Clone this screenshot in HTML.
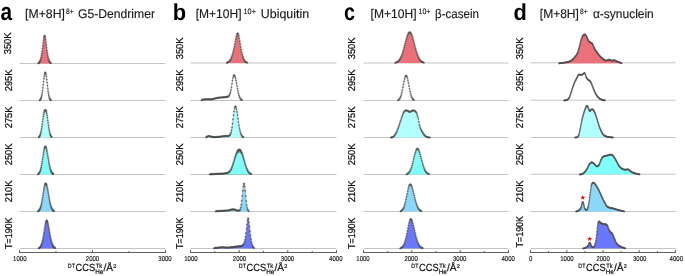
<!DOCTYPE html>
<html><head><meta charset="utf-8"><style>
html,body{margin:0;padding:0;background:#fff;}
body{width:685px;height:276px;position:relative;overflow:hidden;font-family:"Liberation Sans",sans-serif;}
svg text{font-family:"Liberation Sans",sans-serif;text-rendering:geometricPrecision;}
svg{will-change:transform;}
</style></head><body>
<svg width="685" height="276" viewBox="0 0 685 276" style="position:absolute;left:0;top:0">
<line x1="19.5" y1="63.5" x2="165.5" y2="63.5" stroke="#c4c4c4" stroke-width="1"/>
<line x1="19.5" y1="100.5" x2="165.5" y2="100.5" stroke="#c4c4c4" stroke-width="1"/>
<line x1="19.5" y1="137.5" x2="165.5" y2="137.5" stroke="#c4c4c4" stroke-width="1"/>
<line x1="19.5" y1="174.5" x2="165.5" y2="174.5" stroke="#c4c4c4" stroke-width="1"/>
<line x1="19.5" y1="211.5" x2="165.5" y2="211.5" stroke="#c4c4c4" stroke-width="1"/>
<line x1="19.5" y1="248.5" x2="165.5" y2="248.5" stroke="#c4c4c4" stroke-width="1"/>
<line x1="190.5" y1="63.0" x2="336.5" y2="63.0" stroke="#c4c4c4" stroke-width="1"/>
<line x1="190.5" y1="100.5" x2="336.5" y2="100.5" stroke="#c4c4c4" stroke-width="1"/>
<line x1="190.5" y1="137.5" x2="336.5" y2="137.5" stroke="#c4c4c4" stroke-width="1"/>
<line x1="190.5" y1="174.5" x2="336.5" y2="174.5" stroke="#c4c4c4" stroke-width="1"/>
<line x1="190.5" y1="211.5" x2="336.5" y2="211.5" stroke="#c4c4c4" stroke-width="1"/>
<line x1="190.5" y1="248.5" x2="336.5" y2="248.5" stroke="#c4c4c4" stroke-width="1"/>
<line x1="363.5" y1="63.0" x2="508.5" y2="63.0" stroke="#c4c4c4" stroke-width="1"/>
<line x1="363.5" y1="100.5" x2="508.5" y2="100.5" stroke="#c4c4c4" stroke-width="1"/>
<line x1="363.5" y1="137.5" x2="508.5" y2="137.5" stroke="#c4c4c4" stroke-width="1"/>
<line x1="363.5" y1="174.5" x2="508.5" y2="174.5" stroke="#c4c4c4" stroke-width="1"/>
<line x1="363.5" y1="211.5" x2="508.5" y2="211.5" stroke="#c4c4c4" stroke-width="1"/>
<line x1="363.5" y1="248.5" x2="508.5" y2="248.5" stroke="#c4c4c4" stroke-width="1"/>
<line x1="530.5" y1="62.8" x2="675.5" y2="62.8" stroke="#c4c4c4" stroke-width="1"/>
<line x1="530.5" y1="100.2" x2="675.5" y2="100.2" stroke="#c4c4c4" stroke-width="1"/>
<line x1="530.5" y1="137.5" x2="675.5" y2="137.5" stroke="#c4c4c4" stroke-width="1"/>
<line x1="530.5" y1="174.2" x2="675.5" y2="174.2" stroke="#c4c4c4" stroke-width="1"/>
<line x1="530.5" y1="211.5" x2="675.5" y2="211.5" stroke="#c4c4c4" stroke-width="1"/>
<line x1="530.5" y1="248.5" x2="675.5" y2="248.5" stroke="#c4c4c4" stroke-width="1"/>
<path d="M38.25,63.50L38.25,63.15L38.50,63.03L38.75,62.87L39.00,62.66L39.25,62.39L39.50,62.05L39.75,61.63L40.00,61.11L40.25,60.47L40.50,59.71L40.75,58.81L41.00,57.75L41.25,56.53L41.50,55.15L41.75,53.61L42.00,51.92L42.25,50.10L42.50,48.17L42.75,46.18L43.00,44.17L43.25,42.21L43.50,40.36L43.75,38.69L44.00,37.30L44.25,36.26L44.50,35.67L44.75,35.74L45.00,36.43L45.25,37.55L45.50,39.01L45.75,40.71L46.00,42.59L46.25,44.57L46.50,46.58L46.75,48.56L47.00,50.47L47.25,52.27L47.50,53.93L47.75,55.44L48.00,56.79L48.25,57.98L48.50,59.00L48.75,59.87L49.00,60.61L49.25,61.22L49.50,61.72L49.75,62.12L50.00,62.45L50.25,62.70L50.50,62.90L50.75,63.06L51.00,63.17L51.00,63.50Z" fill="#eb7079" stroke="none"/>
<path d="M38.25,63.50L38.25,63.15L38.50,63.03L38.75,62.87L39.00,62.66L39.25,62.39L39.50,62.05L39.75,61.63L40.00,61.11L40.25,60.47L40.50,59.71L40.75,58.81L41.00,57.75L41.25,56.53L41.50,55.15L41.75,53.61L42.00,51.92L42.25,50.10L42.50,48.17L42.75,46.18L43.00,44.17L43.25,42.21L43.50,40.36L43.75,38.69L44.00,37.30L44.25,36.26L44.50,35.67L44.75,35.74L45.00,36.43L45.25,37.55L45.50,39.01L45.75,40.71L46.00,42.59L46.25,44.57L46.50,46.58L46.75,48.56L47.00,50.47L47.25,52.27L47.50,53.93L47.75,55.44L48.00,56.79L48.25,57.98L48.50,59.00L48.75,59.87L49.00,60.61L49.25,61.22L49.50,61.72L49.75,62.12L50.00,62.45L50.25,62.70L50.50,62.90L50.75,63.06L51.00,63.17L51.00,63.50" fill="none" stroke="#888" stroke-width="0.50"/>
<path d="M37.15 63.50h2.2M38.25 62.40v2.2M37.50 62.96h2.2M38.60 61.86v2.2M37.85 62.70h2.2M38.95 61.60v2.2M38.20 62.32h2.2M39.30 61.22v2.2M38.55 61.80h2.2M39.65 60.70v2.2M38.90 61.11h2.2M40.00 60.01v2.2M39.25 60.17h2.2M40.35 59.07v2.2M39.60 58.99h2.2M40.70 57.89v2.2M39.95 57.51h2.2M41.05 56.41v2.2M40.30 55.71h2.2M41.40 54.61v2.2M40.65 53.61h2.2M41.75 52.51v2.2M41.00 51.19h2.2M42.10 50.09v2.2M41.35 48.55h2.2M42.45 47.45v2.2M41.70 45.78h2.2M42.80 44.68v2.2M42.05 42.99h2.2M43.15 41.89v2.2M42.40 40.36h2.2M43.50 39.26v2.2M42.75 38.14h2.2M43.85 37.04v2.2M43.10 36.46h2.2M44.20 35.36v2.2M43.45 35.68h2.2M44.55 34.58v2.2M43.80 36.16h2.2M44.90 35.06v2.2M44.15 37.55h2.2M45.25 36.45v2.2M44.50 39.69h2.2M45.60 38.59v2.2M44.85 42.22h2.2M45.95 41.12v2.2M45.20 44.97h2.2M46.30 43.87v2.2M45.55 47.77h2.2M46.65 46.67v2.2M45.90 50.47h2.2M47.00 49.37v2.2M46.25 52.94h2.2M47.35 51.84v2.2M46.60 55.14h2.2M47.70 54.04v2.2M46.95 57.03h2.2M48.05 55.93v2.2M47.30 58.59h2.2M48.40 57.49v2.2M47.65 59.87h2.2M48.75 58.77v2.2M48.00 60.85h2.2M49.10 59.75v2.2M48.35 61.62h2.2M49.45 60.52v2.2M48.70 62.19h2.2M49.80 61.09v2.2M49.05 62.60h2.2M50.15 61.50v2.2M49.40 62.90h2.2M50.50 61.80v2.2M49.75 63.10h2.2M50.85 62.00v2.2" fill="none" stroke="#4a4a4a" stroke-width="0.5"/>
<path d="M39.75,100.50L39.75,100.11L40.00,99.93L40.25,99.68L40.50,99.34L40.75,98.90L41.00,98.33L41.25,97.60L41.50,96.70L41.75,95.59L42.00,94.28L42.25,92.75L42.50,91.01L42.75,89.08L43.00,86.99L43.25,84.80L43.50,82.56L43.75,80.35L44.00,78.26L44.25,76.38L44.50,74.78L44.75,73.55L45.00,72.75L45.25,72.41L45.50,72.56L45.75,73.18L46.00,74.24L46.25,75.70L46.50,77.48L46.75,79.50L47.00,81.67L47.25,83.90L47.50,86.13L47.75,88.26L48.00,90.26L48.25,92.08L48.50,93.70L48.75,95.10L49.00,96.28L49.25,97.26L49.50,98.06L49.75,98.69L50.00,99.18L50.25,99.56L50.50,99.84L50.75,100.04L51.00,100.19L51.00,100.50" fill="none" stroke="#888" stroke-width="0.50"/>
<path d="M38.65 100.50h2.2M39.75 99.40v2.2M39.00 99.83h2.2M40.10 98.73v2.2M39.35 99.41h2.2M40.45 98.31v2.2M39.70 98.79h2.2M40.80 97.69v2.2M40.05 97.89h2.2M41.15 96.79v2.2M40.40 96.70h2.2M41.50 95.60v2.2M40.75 95.07h2.2M41.85 93.97v2.2M41.10 93.06h2.2M42.20 91.96v2.2M41.45 90.63h2.2M42.55 89.53v2.2M41.80 87.83h2.2M42.90 86.73v2.2M42.15 84.80h2.2M43.25 83.70v2.2M42.50 81.68h2.2M43.60 80.58v2.2M42.85 78.68h2.2M43.95 77.58v2.2M43.20 76.06h2.2M44.30 74.96v2.2M43.55 74.05h2.2M44.65 72.95v2.2M43.90 72.75h2.2M45.00 71.65v2.2M44.25 72.47h2.2M45.35 71.37v2.2M44.60 73.05h2.2M45.70 71.95v2.2M44.95 74.54h2.2M46.05 73.44v2.2M45.30 76.77h2.2M46.40 75.67v2.2M45.65 79.50h2.2M46.75 78.40v2.2M46.00 82.56h2.2M47.10 81.46v2.2M46.35 85.68h2.2M47.45 84.58v2.2M46.70 88.66h2.2M47.80 87.56v2.2M47.05 91.35h2.2M48.15 90.25v2.2M47.40 93.70h2.2M48.50 92.60v2.2M47.75 95.57h2.2M48.85 94.47v2.2M48.10 97.07h2.2M49.20 95.97v2.2M48.45 98.19h2.2M49.55 97.09v2.2M48.80 98.99h2.2M49.90 97.89v2.2M49.15 99.56h2.2M50.25 98.46v2.2M49.50 99.92h2.2M50.60 98.82v2.2M49.85 100.16h2.2M50.95 99.06v2.2" fill="none" stroke="#4a4a4a" stroke-width="0.5"/>
<path d="M38.75,137.50L38.75,137.08L39.00,136.90L39.25,136.66L39.50,136.34L39.75,135.93L40.00,135.40L40.25,134.75L40.50,133.95L40.75,133.00L41.00,131.89L41.25,130.62L41.50,129.19L41.75,127.62L42.00,125.92L42.25,124.14L42.50,122.30L42.75,120.45L43.00,118.64L43.25,116.91L43.50,115.31L43.75,113.88L44.00,112.66L44.25,111.66L44.50,110.90L44.75,110.38L45.00,110.10L45.25,110.00L45.50,110.04L45.75,110.24L46.00,110.66L46.25,111.32L46.50,112.23L46.75,113.36L47.00,114.72L47.25,116.25L47.50,117.94L47.75,119.72L48.00,121.56L48.25,123.41L48.50,125.22L48.75,126.95L49.00,128.58L49.25,130.07L49.50,131.40L49.75,132.58L50.00,133.59L50.25,134.45L50.50,135.16L50.75,135.73L51.00,136.19L51.25,136.54L51.50,136.81L51.75,137.02L52.00,137.17L52.00,137.50Z" fill="#b3ffff" stroke="none"/>
<path d="M38.75,137.50L38.75,137.08L39.00,136.90L39.25,136.66L39.50,136.34L39.75,135.93L40.00,135.40L40.25,134.75L40.50,133.95L40.75,133.00L41.00,131.89L41.25,130.62L41.50,129.19L41.75,127.62L42.00,125.92L42.25,124.14L42.50,122.30L42.75,120.45L43.00,118.64L43.25,116.91L43.50,115.31L43.75,113.88L44.00,112.66L44.25,111.66L44.50,110.90L44.75,110.38L45.00,110.10L45.25,110.00L45.50,110.04L45.75,110.24L46.00,110.66L46.25,111.32L46.50,112.23L46.75,113.36L47.00,114.72L47.25,116.25L47.50,117.94L47.75,119.72L48.00,121.56L48.25,123.41L48.50,125.22L48.75,126.95L49.00,128.58L49.25,130.07L49.50,131.40L49.75,132.58L50.00,133.59L50.25,134.45L50.50,135.16L50.75,135.73L51.00,136.19L51.25,136.54L51.50,136.81L51.75,137.02L52.00,137.17L52.00,137.50" fill="none" stroke="#888" stroke-width="0.50"/>
<path d="M37.65 137.50h2.2M38.75 136.40v2.2M38.00 136.81h2.2M39.10 135.71v2.2M38.35 136.40h2.2M39.45 135.30v2.2M38.70 135.82h2.2M39.80 134.72v2.2M39.05 135.01h2.2M40.15 133.91v2.2M39.40 133.95h2.2M40.50 132.85v2.2M39.75 132.56h2.2M40.85 131.46v2.2M40.10 130.88h2.2M41.20 129.78v2.2M40.45 128.88h2.2M41.55 127.78v2.2M40.80 126.60h2.2M41.90 125.50v2.2M41.15 124.14h2.2M42.25 123.04v2.2M41.50 121.56h2.2M42.60 120.46v2.2M41.85 119.00h2.2M42.95 117.90v2.2M42.20 116.59h2.2M43.30 115.49v2.2M42.55 114.45h2.2M43.65 113.35v2.2M42.90 112.66h2.2M44.00 111.56v2.2M43.25 111.35h2.2M44.35 110.25v2.2M43.60 110.49h2.2M44.70 109.39v2.2M43.95 110.08h2.2M45.05 108.98v2.2M44.30 110.02h2.2M45.40 108.92v2.2M44.65 110.24h2.2M45.75 109.14v2.2M45.00 110.93h2.2M46.10 109.83v2.2M45.35 112.05h2.2M46.45 110.95v2.2M45.70 113.64h2.2M46.80 112.54v2.2M46.05 115.64h2.2M47.15 114.54v2.2M46.40 117.94h2.2M47.50 116.84v2.2M46.75 120.46h2.2M47.85 119.36v2.2M47.10 123.04h2.2M48.20 121.94v2.2M47.45 125.57h2.2M48.55 124.47v2.2M47.80 127.93h2.2M48.90 126.83v2.2M48.15 130.07h2.2M49.25 128.97v2.2M48.50 131.87h2.2M49.60 130.77v2.2M48.85 133.39h2.2M49.95 132.29v2.2M49.20 134.59h2.2M50.30 133.49v2.2M49.55 135.50h2.2M50.65 134.40v2.2M49.90 136.19h2.2M51.00 135.09v2.2M50.25 136.65h2.2M51.35 135.55v2.2M50.60 136.98h2.2M51.70 135.88v2.2" fill="none" stroke="#4a4a4a" stroke-width="0.5"/>
<path d="M38.00,174.50L38.00,174.11L38.25,173.97L38.50,173.81L38.75,173.60L39.00,173.33L39.25,173.00L39.50,172.60L39.75,172.12L40.00,171.54L40.25,170.86L40.50,170.07L40.75,169.16L41.00,168.12L41.25,166.96L41.50,165.68L41.75,164.28L42.00,162.78L42.25,161.20L42.50,159.55L42.75,157.86L43.00,156.16L43.25,154.49L43.50,152.89L43.75,151.40L44.00,150.04L44.25,148.86L44.50,147.90L44.75,147.17L45.00,146.70L45.25,146.51L45.50,146.57L45.75,146.86L46.00,147.36L46.25,148.07L46.50,148.96L46.75,150.01L47.00,151.21L47.25,152.53L47.50,153.94L47.75,155.41L48.00,156.91L48.25,158.43L48.50,159.93L48.75,161.39L49.00,162.81L49.25,164.15L49.50,165.41L49.75,166.58L50.00,167.66L50.25,168.63L50.50,169.51L50.75,170.29L51.00,170.97L51.25,171.57L51.50,172.09L51.75,172.53L52.00,172.90L52.25,173.21L52.50,173.47L52.75,173.69L53.00,173.86L53.25,174.00L53.50,174.12L53.50,174.50Z" fill="#80fffa" stroke="none"/>
<path d="M38.00,174.50L38.00,174.11L38.25,173.97L38.50,173.81L38.75,173.60L39.00,173.33L39.25,173.00L39.50,172.60L39.75,172.12L40.00,171.54L40.25,170.86L40.50,170.07L40.75,169.16L41.00,168.12L41.25,166.96L41.50,165.68L41.75,164.28L42.00,162.78L42.25,161.20L42.50,159.55L42.75,157.86L43.00,156.16L43.25,154.49L43.50,152.89L43.75,151.40L44.00,150.04L44.25,148.86L44.50,147.90L44.75,147.17L45.00,146.70L45.25,146.51L45.50,146.57L45.75,146.86L46.00,147.36L46.25,148.07L46.50,148.96L46.75,150.01L47.00,151.21L47.25,152.53L47.50,153.94L47.75,155.41L48.00,156.91L48.25,158.43L48.50,159.93L48.75,161.39L49.00,162.81L49.25,164.15L49.50,165.41L49.75,166.58L50.00,167.66L50.25,168.63L50.50,169.51L50.75,170.29L51.00,170.97L51.25,171.57L51.50,172.09L51.75,172.53L52.00,172.90L52.25,173.21L52.50,173.47L52.75,173.69L53.00,173.86L53.25,174.00L53.50,174.12L53.50,174.50" fill="none" stroke="#888" stroke-width="0.50"/>
<path d="M36.90 174.50h2.2M38.00 173.40v2.2M37.25 173.91h2.2M38.35 172.81v2.2M37.60 173.64h2.2M38.70 172.54v2.2M37.95 173.26h2.2M39.05 172.16v2.2M38.30 172.76h2.2M39.40 171.66v2.2M38.65 172.12h2.2M39.75 171.02v2.2M39.00 171.27h2.2M40.10 170.17v2.2M39.35 170.23h2.2M40.45 169.13v2.2M39.70 168.95h2.2M40.80 167.85v2.2M40.05 167.43h2.2M41.15 166.33v2.2M40.40 165.68h2.2M41.50 164.58v2.2M40.75 163.68h2.2M41.85 162.58v2.2M41.10 161.51h2.2M42.20 160.41v2.2M41.45 159.21h2.2M42.55 158.11v2.2M41.80 156.84h2.2M42.90 155.74v2.2M42.15 154.49h2.2M43.25 153.39v2.2M42.50 152.29h2.2M43.60 151.19v2.2M42.85 150.31h2.2M43.95 149.21v2.2M43.20 148.67h2.2M44.30 147.57v2.2M43.55 147.46h2.2M44.65 146.36v2.2M43.90 146.70h2.2M45.00 145.60v2.2M44.25 146.53h2.2M45.35 145.43v2.2M44.60 146.80h2.2M45.70 145.70v2.2M44.95 147.50h2.2M46.05 146.40v2.2M45.30 148.60h2.2M46.40 147.50v2.2M45.65 150.01h2.2M46.75 148.91v2.2M46.00 151.74h2.2M47.10 150.64v2.2M46.35 153.65h2.2M47.45 152.55v2.2M46.70 155.71h2.2M47.80 154.61v2.2M47.05 157.82h2.2M48.15 156.72v2.2M47.40 159.93h2.2M48.50 158.83v2.2M47.75 161.96h2.2M48.85 160.86v2.2M48.10 163.88h2.2M49.20 162.78v2.2M48.45 165.64h2.2M49.55 164.54v2.2M48.80 167.23h2.2M49.90 166.13v2.2M49.15 168.63h2.2M50.25 167.53v2.2M49.50 169.82h2.2M50.60 168.72v2.2M49.85 170.84h2.2M50.95 169.74v2.2M50.20 171.67h2.2M51.30 170.57v2.2M50.55 172.35h2.2M51.65 171.25v2.2M50.90 172.90h2.2M52.00 171.80v2.2M51.25 173.32h2.2M52.35 172.22v2.2M51.60 173.64h2.2M52.70 172.54v2.2M51.95 173.89h2.2M53.05 172.79v2.2M52.30 174.07h2.2M53.40 172.97v2.2" fill="none" stroke="#4a4a4a" stroke-width="0.5"/>
<path d="M38.00,211.50L38.00,211.13L38.25,211.01L38.50,210.86L38.75,210.67L39.00,210.44L39.25,210.15L39.50,209.79L39.75,209.37L40.00,208.86L40.25,208.26L40.50,207.56L40.75,206.76L41.00,205.84L41.25,204.81L41.50,203.67L41.75,202.41L42.00,201.05L42.25,199.59L42.50,198.06L42.75,196.47L43.00,194.84L43.25,193.21L43.50,191.61L43.75,190.06L44.00,188.61L44.25,187.28L44.50,186.11L44.75,185.13L45.00,184.36L45.25,183.83L45.50,183.55L45.75,183.52L46.00,183.70L46.25,184.09L46.50,184.68L46.75,185.44L47.00,186.38L47.25,187.45L47.50,188.66L47.75,189.96L48.00,191.34L48.25,192.77L48.50,194.22L48.75,195.69L49.00,197.13L49.25,198.54L49.50,199.90L49.75,201.19L50.00,202.41L50.25,203.54L50.50,204.58L50.75,205.54L51.00,206.39L51.25,207.16L51.50,207.84L51.75,208.44L52.00,208.95L52.25,209.40L52.50,209.78L52.75,210.10L53.00,210.37L53.25,210.60L53.50,210.78L53.75,210.93L54.00,211.06L54.25,211.16L54.25,211.50Z" fill="#8bd8fb" stroke="none"/>
<path d="M38.00,211.50L38.00,211.13L38.25,211.01L38.50,210.86L38.75,210.67L39.00,210.44L39.25,210.15L39.50,209.79L39.75,209.37L40.00,208.86L40.25,208.26L40.50,207.56L40.75,206.76L41.00,205.84L41.25,204.81L41.50,203.67L41.75,202.41L42.00,201.05L42.25,199.59L42.50,198.06L42.75,196.47L43.00,194.84L43.25,193.21L43.50,191.61L43.75,190.06L44.00,188.61L44.25,187.28L44.50,186.11L44.75,185.13L45.00,184.36L45.25,183.83L45.50,183.55L45.75,183.52L46.00,183.70L46.25,184.09L46.50,184.68L46.75,185.44L47.00,186.38L47.25,187.45L47.50,188.66L47.75,189.96L48.00,191.34L48.25,192.77L48.50,194.22L48.75,195.69L49.00,197.13L49.25,198.54L49.50,199.90L49.75,201.19L50.00,202.41L50.25,203.54L50.50,204.58L50.75,205.54L51.00,206.39L51.25,207.16L51.50,207.84L51.75,208.44L52.00,208.95L52.25,209.40L52.50,209.78L52.75,210.10L53.00,210.37L53.25,210.60L53.50,210.78L53.75,210.93L54.00,211.06L54.25,211.16L54.25,211.50" fill="none" stroke="#888" stroke-width="0.50"/>
<path d="M36.90 211.50h2.2M38.00 210.40v2.2M37.25 210.95h2.2M38.35 209.85v2.2M37.60 210.71h2.2M38.70 209.61v2.2M37.95 210.38h2.2M39.05 209.28v2.2M38.30 209.93h2.2M39.40 208.83v2.2M38.65 209.37h2.2M39.75 208.27v2.2M39.00 208.62h2.2M40.10 207.52v2.2M39.35 207.70h2.2M40.45 206.60v2.2M39.70 206.58h2.2M40.80 205.48v2.2M40.05 205.22h2.2M41.15 204.12v2.2M40.40 203.67h2.2M41.50 202.57v2.2M40.75 201.86h2.2M41.85 200.76v2.2M41.10 199.88h2.2M42.20 198.78v2.2M41.45 197.74h2.2M42.55 196.64v2.2M41.80 195.49h2.2M42.90 194.39v2.2M42.15 193.21h2.2M43.25 192.11v2.2M42.50 190.99h2.2M43.60 189.89v2.2M42.85 188.90h2.2M43.95 187.80v2.2M43.20 187.04h2.2M44.30 185.94v2.2M43.55 185.52h2.2M44.65 184.42v2.2M43.90 184.36h2.2M45.00 183.26v2.2M44.25 183.72h2.2M45.35 182.62v2.2M44.60 183.52h2.2M45.70 182.42v2.2M44.95 183.78h2.2M46.05 182.68v2.2M45.30 184.44h2.2M46.40 183.34v2.2M45.65 185.44h2.2M46.75 184.34v2.2M46.00 186.81h2.2M47.10 185.71v2.2M46.35 188.41h2.2M47.45 187.31v2.2M46.70 190.23h2.2M47.80 189.13v2.2M47.05 192.19h2.2M48.15 191.09v2.2M47.40 194.22h2.2M48.50 193.12v2.2M47.75 196.26h2.2M48.85 195.16v2.2M48.10 198.26h2.2M49.20 197.16v2.2M48.45 200.16h2.2M49.55 199.06v2.2M48.80 201.92h2.2M49.90 200.82v2.2M49.15 203.54h2.2M50.25 202.44v2.2M49.50 204.97h2.2M50.60 203.87v2.2M49.85 206.22h2.2M50.95 205.12v2.2M50.20 207.30h2.2M51.30 206.20v2.2M50.55 208.20h2.2M51.65 207.10v2.2M50.90 208.95h2.2M52.00 207.85v2.2M51.25 209.55h2.2M52.35 208.45v2.2M51.60 210.04h2.2M52.70 208.94v2.2M51.95 210.42h2.2M53.05 209.32v2.2M52.30 210.71h2.2M53.40 209.61v2.2M52.65 210.93h2.2M53.75 209.83v2.2M53.00 211.10h2.2M54.10 210.00v2.2" fill="none" stroke="#4a4a4a" stroke-width="0.5"/>
<path d="M38.75,248.50L38.75,248.17L39.00,248.07L39.25,247.95L39.50,247.80L39.75,247.60L40.00,247.37L40.25,247.08L40.50,246.74L40.75,246.33L41.00,245.84L41.25,245.27L41.50,244.61L41.75,243.85L42.00,242.99L42.25,242.02L42.50,240.94L42.75,239.76L43.00,238.47L43.25,237.08L43.50,235.61L43.75,234.07L44.00,232.48L44.25,230.87L44.50,229.26L44.75,227.69L45.00,226.19L45.25,224.79L45.50,223.53L45.75,222.44L46.00,221.56L46.25,220.93L46.50,220.57L46.75,220.52L47.00,220.77L47.25,221.24L47.50,221.92L47.75,222.77L48.00,223.79L48.25,224.94L48.50,226.20L48.75,227.54L49.00,228.93L49.25,230.36L49.50,231.81L49.75,233.24L50.00,234.64L50.25,235.99L50.50,237.29L50.75,238.52L51.00,239.68L51.25,240.75L51.50,241.73L51.75,242.63L52.00,243.44L52.25,244.17L52.50,244.81L52.75,245.38L53.00,245.88L53.25,246.31L53.50,246.69L53.75,247.00L54.00,247.27L54.25,247.50L54.50,247.69L54.75,247.85L55.00,247.98L55.25,248.09L55.50,248.17L55.50,248.50Z" fill="#6877fd" stroke="none"/>
<path d="M38.75,248.50L38.75,248.17L39.00,248.07L39.25,247.95L39.50,247.80L39.75,247.60L40.00,247.37L40.25,247.08L40.50,246.74L40.75,246.33L41.00,245.84L41.25,245.27L41.50,244.61L41.75,243.85L42.00,242.99L42.25,242.02L42.50,240.94L42.75,239.76L43.00,238.47L43.25,237.08L43.50,235.61L43.75,234.07L44.00,232.48L44.25,230.87L44.50,229.26L44.75,227.69L45.00,226.19L45.25,224.79L45.50,223.53L45.75,222.44L46.00,221.56L46.25,220.93L46.50,220.57L46.75,220.52L47.00,220.77L47.25,221.24L47.50,221.92L47.75,222.77L48.00,223.79L48.25,224.94L48.50,226.20L48.75,227.54L49.00,228.93L49.25,230.36L49.50,231.81L49.75,233.24L50.00,234.64L50.25,235.99L50.50,237.29L50.75,238.52L51.00,239.68L51.25,240.75L51.50,241.73L51.75,242.63L52.00,243.44L52.25,244.17L52.50,244.81L52.75,245.38L53.00,245.88L53.25,246.31L53.50,246.69L53.75,247.00L54.00,247.27L54.25,247.50L54.50,247.69L54.75,247.85L55.00,247.98L55.25,248.09L55.50,248.17L55.50,248.50" fill="none" stroke="#888" stroke-width="0.50"/>
<path d="M37.65 248.50h2.2M38.75 247.40v2.2M38.00 248.02h2.2M39.10 246.92v2.2M38.35 247.83h2.2M39.45 246.73v2.2M38.70 247.56h2.2M39.80 246.46v2.2M39.05 247.20h2.2M40.15 246.10v2.2M39.40 246.74h2.2M40.50 245.64v2.2M39.75 246.13h2.2M40.85 245.03v2.2M40.10 245.38h2.2M41.20 244.28v2.2M40.45 244.46h2.2M41.55 243.36v2.2M40.80 243.34h2.2M41.90 242.24v2.2M41.15 242.02h2.2M42.25 240.92v2.2M41.50 240.47h2.2M42.60 239.37v2.2M41.85 238.72h2.2M42.95 237.62v2.2M42.20 236.79h2.2M43.30 235.69v2.2M42.55 234.69h2.2M43.65 233.59v2.2M42.90 232.48h2.2M44.00 231.38v2.2M43.25 230.23h2.2M44.35 229.13v2.2M43.60 228.01h2.2M44.70 226.91v2.2M43.95 225.91h2.2M45.05 224.81v2.2M44.30 224.03h2.2M45.40 222.93v2.2M44.65 222.44h2.2M45.75 221.34v2.2M45.00 221.31h2.2M46.10 220.21v2.2M45.35 220.64h2.2M46.45 219.54v2.2M45.70 220.57h2.2M46.80 219.47v2.2M46.05 221.05h2.2M47.15 219.95v2.2M46.40 221.92h2.2M47.50 220.82v2.2M46.75 223.18h2.2M47.85 222.08v2.2M47.10 224.71h2.2M48.20 223.61v2.2M47.45 226.47h2.2M48.55 225.37v2.2M47.80 228.38h2.2M48.90 227.28v2.2M48.15 230.36h2.2M49.25 229.26v2.2M48.50 232.38h2.2M49.60 231.28v2.2M48.85 234.36h2.2M49.95 233.26v2.2M49.20 236.25h2.2M50.30 235.15v2.2M49.55 238.03h2.2M50.65 236.93v2.2M49.90 239.68h2.2M51.00 238.58v2.2M50.25 241.14h2.2M51.35 240.04v2.2M50.60 242.45h2.2M51.70 241.35v2.2M50.95 243.59h2.2M52.05 242.49v2.2M51.30 244.56h2.2M52.40 243.46v2.2M51.65 245.38h2.2M52.75 244.28v2.2M52.00 246.05h2.2M53.10 244.95v2.2M52.35 246.61h2.2M53.45 245.51v2.2M52.70 247.06h2.2M53.80 245.96v2.2M53.05 247.41h2.2M54.15 246.31v2.2M53.40 247.69h2.2M54.50 246.59v2.2M53.75 247.90h2.2M54.85 246.80v2.2M54.10 248.07h2.2M55.20 246.97v2.2" fill="none" stroke="#4a4a4a" stroke-width="0.5"/>
<path d="M226.75,63.00L226.75,62.69L227.00,62.62L227.25,62.55L227.50,62.46L227.75,62.36L228.00,62.25L228.25,62.11L228.50,61.96L228.75,61.78L229.00,61.58L229.25,61.35L229.50,61.08L229.75,60.78L230.00,60.45L230.25,60.07L230.50,59.65L230.75,59.18L231.00,58.66L231.25,58.09L231.50,57.46L231.75,56.77L232.00,56.02L232.25,55.21L232.50,54.34L232.75,53.41L233.00,52.42L233.25,51.37L233.50,50.27L233.75,49.12L234.00,47.92L234.25,46.69L234.50,45.43L234.75,44.16L235.00,42.88L235.25,41.60L235.50,40.35L235.75,39.14L236.00,37.98L236.25,36.89L236.50,35.90L236.75,35.02L237.00,34.28L237.25,33.70L237.50,33.32L237.75,33.21L238.00,33.52L238.25,34.11L238.50,34.92L238.75,35.92L239.00,37.07L239.25,38.34L239.50,39.70L239.75,41.12L240.00,42.57L240.25,44.04L240.50,45.51L240.75,46.95L241.00,48.35L241.25,49.71L241.50,51.00L241.75,52.22L242.00,53.36L242.25,54.43L242.50,55.42L242.75,56.32L243.00,57.15L243.25,57.90L243.50,58.57L243.75,59.17L244.00,59.71L244.25,60.18L244.50,60.60L244.75,60.96L245.00,61.28L245.25,61.55L245.50,61.79L245.75,61.99L246.00,62.16L246.25,62.31L246.50,62.43L246.75,62.53L247.00,62.62L247.25,62.69L247.25,63.00Z" fill="#eb7079" stroke="none"/>
<path d="M226.75,63.00L226.75,62.69L227.00,62.62L227.25,62.55L227.50,62.46L227.75,62.36L228.00,62.25L228.25,62.11L228.50,61.96L228.75,61.78L229.00,61.58L229.25,61.35L229.50,61.08L229.75,60.78L230.00,60.45L230.25,60.07L230.50,59.65L230.75,59.18L231.00,58.66L231.25,58.09L231.50,57.46L231.75,56.77L232.00,56.02L232.25,55.21L232.50,54.34L232.75,53.41L233.00,52.42L233.25,51.37L233.50,50.27L233.75,49.12L234.00,47.92L234.25,46.69L234.50,45.43L234.75,44.16L235.00,42.88L235.25,41.60L235.50,40.35L235.75,39.14L236.00,37.98L236.25,36.89L236.50,35.90L236.75,35.02L237.00,34.28L237.25,33.70L237.50,33.32L237.75,33.21L238.00,33.52L238.25,34.11L238.50,34.92L238.75,35.92L239.00,37.07L239.25,38.34L239.50,39.70L239.75,41.12L240.00,42.57L240.25,44.04L240.50,45.51L240.75,46.95L241.00,48.35L241.25,49.71L241.50,51.00L241.75,52.22L242.00,53.36L242.25,54.43L242.50,55.42L242.75,56.32L243.00,57.15L243.25,57.90L243.50,58.57L243.75,59.17L244.00,59.71L244.25,60.18L244.50,60.60L244.75,60.96L245.00,61.28L245.25,61.55L245.50,61.79L245.75,61.99L246.00,62.16L246.25,62.31L246.50,62.43L246.75,62.53L247.00,62.62L247.25,62.69L247.25,63.00" fill="none" stroke="#888" stroke-width="0.50"/>
<path d="M225.65 63.00h2.2M226.75 61.90v2.2M226.15 62.55h2.2M227.25 61.45v2.2M226.65 62.36h2.2M227.75 61.26v2.2M227.15 62.11h2.2M228.25 61.01v2.2M227.65 61.78h2.2M228.75 60.68v2.2M228.15 61.35h2.2M229.25 60.25v2.2M228.65 60.78h2.2M229.75 59.68v2.2M229.15 60.07h2.2M230.25 58.97v2.2M229.65 59.18h2.2M230.75 58.08v2.2M230.15 58.09h2.2M231.25 56.99v2.2M230.65 56.77h2.2M231.75 55.67v2.2M231.15 55.21h2.2M232.25 54.11v2.2M231.65 53.41h2.2M232.75 52.31v2.2M232.15 51.37h2.2M233.25 50.27v2.2M232.65 49.12h2.2M233.75 48.02v2.2M233.15 46.69h2.2M234.25 45.59v2.2M233.65 44.16h2.2M234.75 43.06v2.2M234.15 41.60h2.2M235.25 40.50v2.2M234.65 39.14h2.2M235.75 38.04v2.2M235.15 36.89h2.2M236.25 35.79v2.2M235.65 35.02h2.2M236.75 33.92v2.2M236.15 33.70h2.2M237.25 32.60v2.2M236.65 33.21h2.2M237.75 32.11v2.2M237.15 34.11h2.2M238.25 33.01v2.2M237.65 35.92h2.2M238.75 34.82v2.2M238.15 38.34h2.2M239.25 37.24v2.2M238.65 41.12h2.2M239.75 40.02v2.2M239.15 44.04h2.2M240.25 42.94v2.2M239.65 46.95h2.2M240.75 45.85v2.2M240.15 49.71h2.2M241.25 48.61v2.2M240.65 52.22h2.2M241.75 51.12v2.2M241.15 54.43h2.2M242.25 53.33v2.2M241.65 56.32h2.2M242.75 55.22v2.2M242.15 57.90h2.2M243.25 56.80v2.2M242.65 59.17h2.2M243.75 58.07v2.2M243.15 60.18h2.2M244.25 59.08v2.2M243.65 60.96h2.2M244.75 59.86v2.2M244.15 61.55h2.2M245.25 60.45v2.2M244.65 61.99h2.2M245.75 60.89v2.2M245.15 62.31h2.2M246.25 61.21v2.2M245.65 62.53h2.2M246.75 61.43v2.2M246.15 62.69h2.2M247.25 61.59v2.2" fill="none" stroke="#4a4a4a" stroke-width="0.5"/>
<path d="M201.50,100.50L201.50,100.15L201.75,100.00L202.00,99.85L202.25,99.72L202.50,99.60L202.75,99.53L203.00,99.50L203.25,99.50L203.50,99.49L203.75,99.48L204.00,99.47L204.25,99.45L204.50,99.44L204.75,99.42L205.00,99.40L205.25,99.38L205.50,99.36L205.75,99.35L206.00,99.33L206.25,99.32L206.50,99.31L206.75,99.30L207.00,99.30L207.25,99.30L207.50,99.30L207.75,99.31L208.00,99.32L208.25,99.32L208.50,99.33L208.75,99.34L209.00,99.35L209.25,99.36L209.50,99.37L209.75,99.38L210.00,99.38L210.25,99.39L210.50,99.40L210.75,99.40L211.00,99.40L211.25,99.39L211.50,99.36L211.75,99.31L212.00,99.24L212.25,99.17L212.50,99.10L212.75,99.03L213.00,98.96L213.25,98.89L213.50,98.84L213.75,98.81L214.00,98.80L214.25,98.77L214.50,98.71L214.75,98.61L215.00,98.50L215.25,98.38L215.50,98.27L215.75,98.18L216.00,98.12L216.25,98.10L216.50,98.09L216.75,98.07L217.00,98.04L217.25,98.00L217.50,97.95L217.75,97.90L218.00,97.85L218.25,97.80L218.50,97.75L218.75,97.70L219.00,97.66L219.25,97.63L219.50,97.61L219.75,97.60L220.00,97.60L220.25,97.58L220.50,97.56L220.75,97.54L221.00,97.51L221.25,97.47L221.50,97.44L221.75,97.40L222.00,97.37L222.25,97.34L222.50,97.32L222.75,97.31L223.00,97.30L223.25,97.30L223.50,97.29L223.75,97.27L224.00,97.25L224.25,97.23L224.50,97.20L224.75,97.18L225.00,97.15L225.25,97.12L225.50,97.08L225.75,97.05L226.00,97.02L226.25,96.99L226.50,96.96L226.75,96.92L227.00,96.88L227.25,96.84L227.50,96.80L227.75,96.75L228.00,96.68L228.25,96.56L228.50,96.38L228.75,96.12L229.00,95.77L229.25,95.34L229.50,94.87L229.75,94.33L230.00,93.70L230.25,92.95L230.50,92.07L230.75,91.05L231.00,89.88L231.25,88.56L231.50,87.10L231.75,85.52L232.00,83.84L232.25,82.15L232.50,80.56L232.75,79.12L233.00,77.84L233.25,76.79L233.50,75.98L233.75,75.45L234.00,75.21L234.25,75.27L234.50,75.54L234.75,75.98L235.00,76.57L235.25,77.32L235.50,78.24L235.75,79.30L236.00,80.48L236.25,81.76L236.50,83.11L236.75,84.50L237.00,85.90L237.25,87.29L237.50,88.65L237.75,89.97L238.00,91.21L238.25,92.38L238.50,93.47L238.75,94.46L239.00,95.35L239.25,96.15L239.50,96.86L239.75,97.48L240.00,98.01L240.25,98.47L240.50,98.86L240.75,99.18L241.00,99.45L241.25,99.67L241.50,99.85L241.75,100.00L242.00,100.11L242.00,100.50" fill="none" stroke="#888" stroke-width="0.50"/>
<path d="M200.40 100.50h2.2M201.50 99.40v2.2M200.90 99.85h2.2M202.00 98.75v2.2M201.40 99.60h2.2M202.50 98.50v2.2M201.90 99.50h2.2M203.00 98.40v2.2M202.40 99.49h2.2M203.50 98.39v2.2M202.90 99.47h2.2M204.00 98.37v2.2M203.40 99.44h2.2M204.50 98.34v2.2M203.90 99.40h2.2M205.00 98.30v2.2M204.40 99.36h2.2M205.50 98.26v2.2M204.90 99.33h2.2M206.00 98.23v2.2M205.40 99.31h2.2M206.50 98.21v2.2M205.90 99.30h2.2M207.00 98.20v2.2M206.40 99.30h2.2M207.50 98.20v2.2M206.90 99.32h2.2M208.00 98.22v2.2M207.40 99.33h2.2M208.50 98.23v2.2M207.90 99.35h2.2M209.00 98.25v2.2M208.40 99.37h2.2M209.50 98.27v2.2M208.90 99.38h2.2M210.00 98.28v2.2M209.40 99.40h2.2M210.50 98.30v2.2M209.90 99.40h2.2M211.00 98.30v2.2M210.40 99.36h2.2M211.50 98.26v2.2M210.90 99.24h2.2M212.00 98.14v2.2M211.40 99.10h2.2M212.50 98.00v2.2M211.90 98.96h2.2M213.00 97.86v2.2M212.40 98.84h2.2M213.50 97.74v2.2M212.90 98.80h2.2M214.00 97.70v2.2M213.40 98.71h2.2M214.50 97.61v2.2M213.90 98.50h2.2M215.00 97.40v2.2M214.40 98.27h2.2M215.50 97.17v2.2M214.90 98.12h2.2M216.00 97.02v2.2M215.40 98.09h2.2M216.50 96.99v2.2M215.90 98.04h2.2M217.00 96.94v2.2M216.40 97.95h2.2M217.50 96.85v2.2M216.90 97.85h2.2M218.00 96.75v2.2M217.40 97.75h2.2M218.50 96.65v2.2M217.90 97.66h2.2M219.00 96.56v2.2M218.40 97.61h2.2M219.50 96.51v2.2M218.90 97.60h2.2M220.00 96.50v2.2M219.40 97.56h2.2M220.50 96.46v2.2M219.90 97.51h2.2M221.00 96.41v2.2M220.40 97.44h2.2M221.50 96.34v2.2M220.90 97.37h2.2M222.00 96.27v2.2M221.40 97.32h2.2M222.50 96.22v2.2M221.90 97.30h2.2M223.00 96.20v2.2M222.40 97.29h2.2M223.50 96.19v2.2M222.90 97.25h2.2M224.00 96.15v2.2M223.40 97.20h2.2M224.50 96.10v2.2M223.90 97.15h2.2M225.00 96.05v2.2M224.40 97.08h2.2M225.50 95.98v2.2M224.90 97.02h2.2M226.00 95.92v2.2M225.40 96.96h2.2M226.50 95.86v2.2M225.90 96.88h2.2M227.00 95.78v2.2M226.40 96.80h2.2M227.50 95.70v2.2M226.90 96.68h2.2M228.00 95.58v2.2M227.40 96.38h2.2M228.50 95.28v2.2M227.90 95.77h2.2M229.00 94.67v2.2M228.40 94.87h2.2M229.50 93.77v2.2M228.90 93.70h2.2M230.00 92.60v2.2M229.40 92.07h2.2M230.50 90.97v2.2M229.90 89.88h2.2M231.00 88.78v2.2M230.40 87.10h2.2M231.50 86.00v2.2M230.90 83.84h2.2M232.00 82.74v2.2M231.40 80.56h2.2M232.50 79.46v2.2M231.90 77.84h2.2M233.00 76.74v2.2M232.40 75.98h2.2M233.50 74.88v2.2M232.90 75.21h2.2M234.00 74.11v2.2M233.40 75.54h2.2M234.50 74.44v2.2M233.90 76.57h2.2M235.00 75.47v2.2M234.40 78.24h2.2M235.50 77.14v2.2M234.90 80.48h2.2M236.00 79.38v2.2M235.40 83.11h2.2M236.50 82.01v2.2M235.90 85.90h2.2M237.00 84.80v2.2M236.40 88.65h2.2M237.50 87.55v2.2M236.90 91.21h2.2M238.00 90.11v2.2M237.40 93.47h2.2M238.50 92.37v2.2M237.90 95.35h2.2M239.00 94.25v2.2M238.40 96.86h2.2M239.50 95.76v2.2M238.90 98.01h2.2M240.00 96.91v2.2M239.40 98.86h2.2M240.50 97.76v2.2M239.90 99.45h2.2M241.00 98.35v2.2M240.40 99.85h2.2M241.50 98.75v2.2M240.90 100.11h2.2M242.00 99.01v2.2" fill="none" stroke="#4a4a4a" stroke-width="0.5"/>
<path d="M206.00,137.50L206.00,137.10L206.25,136.95L206.50,136.82L206.75,136.73L207.00,136.70L207.25,136.67L207.50,136.59L207.75,136.48L208.00,136.35L208.25,136.22L208.50,136.11L208.75,136.03L209.00,136.00L209.25,136.03L209.50,136.11L209.75,136.22L210.00,136.35L210.25,136.48L210.50,136.59L210.75,136.67L211.00,136.70L211.25,136.71L211.50,136.73L211.75,136.76L212.00,136.80L212.25,136.85L212.50,136.90L212.75,136.95L213.00,137.00L213.25,137.04L213.50,137.07L213.75,137.09L214.00,137.10L214.25,137.10L214.50,137.09L214.75,137.09L215.00,137.08L215.25,137.07L215.50,137.06L215.75,137.04L216.00,137.03L216.25,137.01L216.50,137.00L216.75,136.99L217.00,136.97L217.25,136.96L217.50,136.94L217.75,136.93L218.00,136.92L218.25,136.91L218.50,136.91L218.75,136.90L219.00,136.90L219.25,136.89L219.50,136.87L219.75,136.84L220.00,136.81L220.25,136.76L220.50,136.71L220.75,136.66L221.00,136.60L221.25,136.54L221.50,136.49L221.75,136.44L222.00,136.39L222.25,136.36L222.50,136.33L222.75,136.31L223.00,136.30L223.25,136.29L223.50,136.28L223.75,136.25L224.00,136.22L224.25,136.19L224.50,136.15L224.75,136.11L225.00,136.08L225.25,136.05L225.50,136.02L225.75,136.00L226.00,136.00L226.25,136.00L226.50,136.01L226.75,136.03L227.00,136.05L227.25,136.07L227.50,136.09L227.75,136.10L228.00,136.10L228.25,136.07L228.50,136.01L228.75,135.92L229.00,135.78L229.25,135.61L229.50,135.42L229.75,135.19L230.00,134.90L230.25,134.51L230.50,134.01L230.75,133.37L231.00,132.57L231.25,131.58L231.50,130.39L231.75,128.99L232.00,127.37L232.25,125.57L232.50,123.62L232.75,121.56L233.00,119.44L233.25,117.29L233.50,115.17L233.75,113.16L234.00,111.30L234.25,109.66L234.50,108.30L234.75,107.26L235.00,106.59L235.25,106.31L235.50,106.39L235.75,106.73L236.00,107.33L236.25,108.17L236.50,109.23L236.75,110.49L237.00,111.91L237.25,113.46L237.50,115.11L237.75,116.83L238.00,118.58L238.25,120.32L238.50,122.04L238.75,123.71L239.00,125.30L239.25,126.80L239.50,128.20L239.75,129.48L240.00,130.64L240.25,131.69L240.50,132.62L240.75,133.43L241.00,134.14L241.25,134.75L241.50,135.27L241.75,135.70L242.00,136.06L242.25,136.36L242.50,136.61L242.75,136.81L243.00,136.97L243.25,137.09L243.50,137.19L243.50,137.50Z" fill="#b3ffff" stroke="none"/>
<path d="M206.00,137.50L206.00,137.10L206.25,136.95L206.50,136.82L206.75,136.73L207.00,136.70L207.25,136.67L207.50,136.59L207.75,136.48L208.00,136.35L208.25,136.22L208.50,136.11L208.75,136.03L209.00,136.00L209.25,136.03L209.50,136.11L209.75,136.22L210.00,136.35L210.25,136.48L210.50,136.59L210.75,136.67L211.00,136.70L211.25,136.71L211.50,136.73L211.75,136.76L212.00,136.80L212.25,136.85L212.50,136.90L212.75,136.95L213.00,137.00L213.25,137.04L213.50,137.07L213.75,137.09L214.00,137.10L214.25,137.10L214.50,137.09L214.75,137.09L215.00,137.08L215.25,137.07L215.50,137.06L215.75,137.04L216.00,137.03L216.25,137.01L216.50,137.00L216.75,136.99L217.00,136.97L217.25,136.96L217.50,136.94L217.75,136.93L218.00,136.92L218.25,136.91L218.50,136.91L218.75,136.90L219.00,136.90L219.25,136.89L219.50,136.87L219.75,136.84L220.00,136.81L220.25,136.76L220.50,136.71L220.75,136.66L221.00,136.60L221.25,136.54L221.50,136.49L221.75,136.44L222.00,136.39L222.25,136.36L222.50,136.33L222.75,136.31L223.00,136.30L223.25,136.29L223.50,136.28L223.75,136.25L224.00,136.22L224.25,136.19L224.50,136.15L224.75,136.11L225.00,136.08L225.25,136.05L225.50,136.02L225.75,136.00L226.00,136.00L226.25,136.00L226.50,136.01L226.75,136.03L227.00,136.05L227.25,136.07L227.50,136.09L227.75,136.10L228.00,136.10L228.25,136.07L228.50,136.01L228.75,135.92L229.00,135.78L229.25,135.61L229.50,135.42L229.75,135.19L230.00,134.90L230.25,134.51L230.50,134.01L230.75,133.37L231.00,132.57L231.25,131.58L231.50,130.39L231.75,128.99L232.00,127.37L232.25,125.57L232.50,123.62L232.75,121.56L233.00,119.44L233.25,117.29L233.50,115.17L233.75,113.16L234.00,111.30L234.25,109.66L234.50,108.30L234.75,107.26L235.00,106.59L235.25,106.31L235.50,106.39L235.75,106.73L236.00,107.33L236.25,108.17L236.50,109.23L236.75,110.49L237.00,111.91L237.25,113.46L237.50,115.11L237.75,116.83L238.00,118.58L238.25,120.32L238.50,122.04L238.75,123.71L239.00,125.30L239.25,126.80L239.50,128.20L239.75,129.48L240.00,130.64L240.25,131.69L240.50,132.62L240.75,133.43L241.00,134.14L241.25,134.75L241.50,135.27L241.75,135.70L242.00,136.06L242.25,136.36L242.50,136.61L242.75,136.81L243.00,136.97L243.25,137.09L243.50,137.19L243.50,137.50" fill="none" stroke="#888" stroke-width="0.50"/>
<path d="M204.90 137.50h2.2M206.00 136.40v2.2M205.40 136.82h2.2M206.50 135.72v2.2M205.90 136.70h2.2M207.00 135.60v2.2M206.40 136.59h2.2M207.50 135.49v2.2M206.90 136.35h2.2M208.00 135.25v2.2M207.40 136.11h2.2M208.50 135.01v2.2M207.90 136.00h2.2M209.00 134.90v2.2M208.40 136.11h2.2M209.50 135.01v2.2M208.90 136.35h2.2M210.00 135.25v2.2M209.40 136.59h2.2M210.50 135.49v2.2M209.90 136.70h2.2M211.00 135.60v2.2M210.40 136.73h2.2M211.50 135.63v2.2M210.90 136.80h2.2M212.00 135.70v2.2M211.40 136.90h2.2M212.50 135.80v2.2M211.90 137.00h2.2M213.00 135.90v2.2M212.40 137.07h2.2M213.50 135.97v2.2M212.90 137.10h2.2M214.00 136.00v2.2M213.40 137.09h2.2M214.50 135.99v2.2M213.90 137.08h2.2M215.00 135.98v2.2M214.40 137.06h2.2M215.50 135.96v2.2M214.90 137.03h2.2M216.00 135.93v2.2M215.40 137.00h2.2M216.50 135.90v2.2M215.90 136.97h2.2M217.00 135.87v2.2M216.40 136.94h2.2M217.50 135.84v2.2M216.90 136.92h2.2M218.00 135.82v2.2M217.40 136.91h2.2M218.50 135.81v2.2M217.90 136.90h2.2M219.00 135.80v2.2M218.40 136.87h2.2M219.50 135.77v2.2M218.90 136.81h2.2M220.00 135.71v2.2M219.40 136.71h2.2M220.50 135.61v2.2M219.90 136.60h2.2M221.00 135.50v2.2M220.40 136.49h2.2M221.50 135.39v2.2M220.90 136.39h2.2M222.00 135.29v2.2M221.40 136.33h2.2M222.50 135.23v2.2M221.90 136.30h2.2M223.00 135.20v2.2M222.40 136.28h2.2M223.50 135.18v2.2M222.90 136.22h2.2M224.00 135.12v2.2M223.40 136.15h2.2M224.50 135.05v2.2M223.90 136.08h2.2M225.00 134.98v2.2M224.40 136.02h2.2M225.50 134.92v2.2M224.90 136.00h2.2M226.00 134.90v2.2M225.40 136.01h2.2M226.50 134.91v2.2M225.90 136.05h2.2M227.00 134.95v2.2M226.40 136.09h2.2M227.50 134.99v2.2M226.90 136.10h2.2M228.00 135.00v2.2M227.40 136.01h2.2M228.50 134.91v2.2M227.90 135.78h2.2M229.00 134.68v2.2M228.40 135.42h2.2M229.50 134.32v2.2M228.90 134.90h2.2M230.00 133.80v2.2M229.40 134.01h2.2M230.50 132.91v2.2M229.90 132.57h2.2M231.00 131.47v2.2M230.40 130.39h2.2M231.50 129.29v2.2M230.90 127.37h2.2M232.00 126.27v2.2M231.40 123.62h2.2M232.50 122.52v2.2M231.90 119.44h2.2M233.00 118.34v2.2M232.40 115.17h2.2M233.50 114.07v2.2M232.90 111.30h2.2M234.00 110.20v2.2M233.40 108.30h2.2M234.50 107.20v2.2M233.90 106.59h2.2M235.00 105.49v2.2M234.40 106.39h2.2M235.50 105.29v2.2M234.90 107.33h2.2M236.00 106.23v2.2M235.40 109.23h2.2M236.50 108.13v2.2M235.90 111.91h2.2M237.00 110.81v2.2M236.40 115.11h2.2M237.50 114.01v2.2M236.90 118.58h2.2M238.00 117.48v2.2M237.40 122.04h2.2M238.50 120.94v2.2M237.90 125.30h2.2M239.00 124.20v2.2M238.40 128.20h2.2M239.50 127.10v2.2M238.90 130.64h2.2M240.00 129.54v2.2M239.40 132.62h2.2M240.50 131.52v2.2M239.90 134.14h2.2M241.00 133.04v2.2M240.40 135.27h2.2M241.50 134.17v2.2M240.90 136.06h2.2M242.00 134.96v2.2M241.40 136.61h2.2M242.50 135.51v2.2M241.90 136.97h2.2M243.00 135.87v2.2M242.40 137.19h2.2M243.50 136.09v2.2" fill="none" stroke="#4a4a4a" stroke-width="0.5"/>
<path d="M209.75,174.50L209.75,174.20L210.00,174.18L210.25,174.16L210.50,174.15L210.75,174.13L211.00,174.12L211.25,174.11L211.50,174.11L211.75,174.10L212.00,174.10L212.25,174.10L212.50,174.10L212.75,174.09L213.00,174.09L213.25,174.08L213.50,174.07L213.75,174.06L214.00,174.05L214.25,174.04L214.50,174.03L214.75,174.02L215.00,174.01L215.25,173.99L215.50,173.98L215.75,173.96L216.00,173.95L216.25,173.94L216.50,173.92L216.75,173.91L217.00,173.89L217.25,173.88L217.50,173.87L217.75,173.86L218.00,173.85L218.25,173.84L218.50,173.83L218.75,173.82L219.00,173.81L219.25,173.81L219.50,173.80L219.75,173.80L220.00,173.80L220.25,173.80L220.50,173.79L220.75,173.78L221.00,173.77L221.25,173.76L221.50,173.75L221.75,173.73L222.00,173.71L222.25,173.69L222.50,173.67L222.75,173.65L223.00,173.63L223.25,173.60L223.50,173.58L223.75,173.55L224.00,173.52L224.25,173.49L224.50,173.46L224.75,173.43L225.00,173.39L225.25,173.36L225.50,173.32L225.75,173.27L226.00,173.22L226.25,173.17L226.50,173.12L226.75,173.07L227.00,173.01L227.25,172.95L227.50,172.87L227.75,172.79L228.00,172.68L228.25,172.57L228.50,172.43L228.75,172.27L229.00,172.08L229.25,171.87L229.50,171.62L229.75,171.34L230.00,171.03L230.25,170.67L230.50,170.28L230.75,169.85L231.00,169.37L231.25,168.85L231.50,168.28L231.75,167.67L232.00,167.01L232.25,166.32L232.50,165.59L232.75,164.84L233.00,164.06L233.25,163.26L233.50,162.44L233.75,161.60L234.00,160.76L234.25,159.91L234.50,159.06L234.75,158.22L235.00,157.39L235.25,156.58L235.50,155.79L235.75,155.03L236.00,154.31L236.25,153.62L236.50,152.98L236.75,152.39L237.00,151.85L237.25,151.36L237.50,150.94L237.75,150.57L238.00,150.26L238.25,150.02L238.50,149.83L238.75,149.70L239.00,149.63L239.25,149.60L239.50,149.61L239.75,149.67L240.00,149.80L240.25,149.98L240.50,150.24L240.75,150.56L241.00,150.96L241.25,151.41L241.50,151.94L241.75,152.53L242.00,153.17L242.25,153.87L242.50,154.62L242.75,155.41L243.00,156.23L243.25,157.09L243.50,157.96L243.75,158.86L244.00,159.76L244.25,160.66L244.50,161.56L244.75,162.45L245.00,163.33L245.25,164.18L245.50,165.01L245.75,165.80L246.00,166.56L246.25,167.29L246.50,167.98L246.75,168.63L247.00,169.23L247.25,169.79L247.50,170.32L247.75,170.80L248.00,171.24L248.25,171.63L248.50,172.00L248.75,172.32L249.00,172.62L249.25,172.88L249.50,173.11L249.75,173.31L250.00,173.49L250.25,173.64L250.50,173.78L250.75,173.90L251.00,174.00L251.25,174.08L251.50,174.15L251.50,174.50Z" fill="#777" stroke="none"/>
<path d="M209.75,174.50L209.75,174.20L210.00,174.18L210.25,174.16L210.50,174.15L210.75,174.13L211.00,174.12L211.25,174.11L211.50,174.11L211.75,174.10L212.00,174.10L212.25,174.10L212.50,174.10L212.75,174.09L213.00,174.09L213.25,174.08L213.50,174.07L213.75,174.06L214.00,174.05L214.25,174.04L214.50,174.03L214.75,174.02L215.00,174.01L215.25,173.99L215.50,173.98L215.75,173.96L216.00,173.95L216.25,173.94L216.50,173.92L216.75,173.91L217.00,173.89L217.25,173.88L217.50,173.87L217.75,173.86L218.00,173.85L218.25,173.84L218.50,173.83L218.75,173.82L219.00,173.81L219.25,173.81L219.50,173.80L219.75,173.80L220.00,173.80L220.25,173.80L220.50,173.79L220.75,173.79L221.00,173.78L221.25,173.76L221.50,173.75L221.75,173.73L222.00,173.72L222.25,173.70L222.50,173.68L222.75,173.65L223.00,173.63L223.25,173.61L223.50,173.58L223.75,173.56L224.00,173.53L224.25,173.50L224.50,173.47L224.75,173.44L225.00,173.41L225.25,173.38L225.50,173.34L225.75,173.30L226.00,173.26L226.25,173.21L226.50,173.17L226.75,173.12L227.00,173.08L227.25,173.03L227.50,172.97L227.75,172.90L228.00,172.81L228.25,172.72L228.50,172.60L228.75,172.47L229.00,172.31L229.25,172.13L229.50,171.92L229.75,171.68L230.00,171.41L230.25,171.11L230.50,170.77L230.75,170.39L231.00,169.98L231.25,169.52L231.50,169.03L231.75,168.49L232.00,167.92L232.25,167.31L232.50,166.67L232.75,166.00L233.00,165.32L233.25,164.61L233.50,163.89L233.75,163.15L234.00,162.41L234.25,161.66L234.50,160.92L234.75,160.18L235.00,159.45L235.25,158.74L235.50,158.04L235.75,157.38L236.00,156.74L236.25,156.14L236.50,155.57L236.75,155.05L237.00,154.58L237.25,154.15L237.50,153.78L237.75,153.45L238.00,153.18L238.25,152.97L238.50,152.80L238.75,152.69L239.00,152.62L239.25,152.60L239.50,152.61L239.75,152.67L240.00,152.77L240.25,152.94L240.50,153.16L240.75,153.45L241.00,153.79L241.25,154.20L241.50,154.66L241.75,155.17L242.00,155.74L242.25,156.36L242.50,157.01L242.75,157.71L243.00,158.43L243.25,159.18L243.50,159.96L243.75,160.74L244.00,161.53L244.25,162.33L244.50,163.12L244.75,163.90L245.00,164.67L245.25,165.42L245.50,166.15L245.75,166.85L246.00,167.52L246.25,168.16L246.50,168.76L246.75,169.33L247.00,169.87L247.25,170.36L247.50,170.82L247.75,171.24L248.00,171.63L248.25,171.98L248.50,172.30L248.75,172.59L249.00,172.84L249.25,173.07L249.50,173.27L249.75,173.45L250.00,173.61L250.25,173.75L250.50,173.87L250.75,173.97L251.00,174.06L251.25,174.13L251.50,174.20L251.50,174.50Z" fill="#80fffa" stroke="none"/>
<path d="M209.75,174.50L209.75,174.20L210.00,174.18L210.25,174.16L210.50,174.15L210.75,174.13L211.00,174.12L211.25,174.11L211.50,174.11L211.75,174.10L212.00,174.10L212.25,174.10L212.50,174.10L212.75,174.09L213.00,174.09L213.25,174.08L213.50,174.07L213.75,174.06L214.00,174.05L214.25,174.04L214.50,174.03L214.75,174.02L215.00,174.01L215.25,173.99L215.50,173.98L215.75,173.96L216.00,173.95L216.25,173.94L216.50,173.92L216.75,173.91L217.00,173.89L217.25,173.88L217.50,173.87L217.75,173.86L218.00,173.85L218.25,173.84L218.50,173.83L218.75,173.82L219.00,173.81L219.25,173.81L219.50,173.80L219.75,173.80L220.00,173.80L220.25,173.80L220.50,173.79L220.75,173.78L221.00,173.77L221.25,173.76L221.50,173.75L221.75,173.73L222.00,173.71L222.25,173.69L222.50,173.67L222.75,173.65L223.00,173.63L223.25,173.60L223.50,173.58L223.75,173.55L224.00,173.52L224.25,173.49L224.50,173.46L224.75,173.43L225.00,173.39L225.25,173.36L225.50,173.32L225.75,173.27L226.00,173.22L226.25,173.17L226.50,173.12L226.75,173.07L227.00,173.01L227.25,172.95L227.50,172.87L227.75,172.79L228.00,172.68L228.25,172.57L228.50,172.43L228.75,172.27L229.00,172.08L229.25,171.87L229.50,171.62L229.75,171.34L230.00,171.03L230.25,170.67L230.50,170.28L230.75,169.85L231.00,169.37L231.25,168.85L231.50,168.28L231.75,167.67L232.00,167.01L232.25,166.32L232.50,165.59L232.75,164.84L233.00,164.06L233.25,163.26L233.50,162.44L233.75,161.60L234.00,160.76L234.25,159.91L234.50,159.06L234.75,158.22L235.00,157.39L235.25,156.58L235.50,155.79L235.75,155.03L236.00,154.31L236.25,153.62L236.50,152.98L236.75,152.39L237.00,151.85L237.25,151.36L237.50,150.94L237.75,150.57L238.00,150.26L238.25,150.02L238.50,149.83L238.75,149.70L239.00,149.63L239.25,149.60L239.50,149.61L239.75,149.67L240.00,149.80L240.25,149.98L240.50,150.24L240.75,150.56L241.00,150.96L241.25,151.41L241.50,151.94L241.75,152.53L242.00,153.17L242.25,153.87L242.50,154.62L242.75,155.41L243.00,156.23L243.25,157.09L243.50,157.96L243.75,158.86L244.00,159.76L244.25,160.66L244.50,161.56L244.75,162.45L245.00,163.33L245.25,164.18L245.50,165.01L245.75,165.80L246.00,166.56L246.25,167.29L246.50,167.98L246.75,168.63L247.00,169.23L247.25,169.79L247.50,170.32L247.75,170.80L248.00,171.24L248.25,171.63L248.50,172.00L248.75,172.32L249.00,172.62L249.25,172.88L249.50,173.11L249.75,173.31L250.00,173.49L250.25,173.64L250.50,173.78L250.75,173.90L251.00,174.00L251.25,174.08L251.50,174.15L251.50,174.50" fill="none" stroke="#888" stroke-width="0.50"/>
<path d="M208.65 174.50h2.2M209.75 173.40v2.2M209.15 174.16h2.2M210.25 173.06v2.2M209.65 174.13h2.2M210.75 173.03v2.2M210.15 174.11h2.2M211.25 173.01v2.2M210.65 174.10h2.2M211.75 173.00v2.2M211.15 174.10h2.2M212.25 173.00v2.2M211.65 174.09h2.2M212.75 172.99v2.2M212.15 174.08h2.2M213.25 172.98v2.2M212.65 174.06h2.2M213.75 172.96v2.2M213.15 174.04h2.2M214.25 172.94v2.2M213.65 174.02h2.2M214.75 172.92v2.2M214.15 173.99h2.2M215.25 172.89v2.2M214.65 173.96h2.2M215.75 172.86v2.2M215.15 173.94h2.2M216.25 172.84v2.2M215.65 173.91h2.2M216.75 172.81v2.2M216.15 173.88h2.2M217.25 172.78v2.2M216.65 173.86h2.2M217.75 172.76v2.2M217.15 173.84h2.2M218.25 172.74v2.2M217.65 173.82h2.2M218.75 172.72v2.2M218.15 173.81h2.2M219.25 172.71v2.2M218.65 173.80h2.2M219.75 172.70v2.2M219.15 173.80h2.2M220.25 172.70v2.2M219.65 173.78h2.2M220.75 172.68v2.2M220.15 173.76h2.2M221.25 172.66v2.2M220.65 173.73h2.2M221.75 172.63v2.2M221.15 173.69h2.2M222.25 172.59v2.2M221.65 173.65h2.2M222.75 172.55v2.2M222.15 173.60h2.2M223.25 172.50v2.2M222.65 173.55h2.2M223.75 172.45v2.2M223.15 173.49h2.2M224.25 172.39v2.2M223.65 173.43h2.2M224.75 172.33v2.2M224.15 173.36h2.2M225.25 172.26v2.2M224.65 173.27h2.2M225.75 172.17v2.2M225.15 173.17h2.2M226.25 172.07v2.2M225.65 173.07h2.2M226.75 171.97v2.2M226.15 172.95h2.2M227.25 171.85v2.2M226.65 172.79h2.2M227.75 171.69v2.2M227.15 172.57h2.2M228.25 171.47v2.2M227.65 172.27h2.2M228.75 171.17v2.2M228.15 171.87h2.2M229.25 170.77v2.2M228.65 171.34h2.2M229.75 170.24v2.2M229.15 170.67h2.2M230.25 169.57v2.2M229.65 169.85h2.2M230.75 168.75v2.2M230.15 168.85h2.2M231.25 167.75v2.2M230.65 167.67h2.2M231.75 166.57v2.2M231.15 166.32h2.2M232.25 165.22v2.2M231.65 164.84h2.2M232.75 163.74v2.2M232.15 163.26h2.2M233.25 162.16v2.2M232.65 161.60h2.2M233.75 160.50v2.2M233.15 159.91h2.2M234.25 158.81v2.2M233.65 158.22h2.2M234.75 157.12v2.2M234.15 156.58h2.2M235.25 155.48v2.2M234.65 155.03h2.2M235.75 153.93v2.2M235.15 153.62h2.2M236.25 152.52v2.2M235.65 152.39h2.2M236.75 151.29v2.2M236.15 151.36h2.2M237.25 150.26v2.2M236.65 150.57h2.2M237.75 149.47v2.2M237.15 150.02h2.2M238.25 148.92v2.2M237.65 149.70h2.2M238.75 148.60v2.2M238.15 149.60h2.2M239.25 148.50v2.2M238.65 149.67h2.2M239.75 148.57v2.2M239.15 149.98h2.2M240.25 148.88v2.2M239.65 150.56h2.2M240.75 149.46v2.2M240.15 151.41h2.2M241.25 150.31v2.2M240.65 152.53h2.2M241.75 151.43v2.2M241.15 153.87h2.2M242.25 152.77v2.2M241.65 155.41h2.2M242.75 154.31v2.2M242.15 157.09h2.2M243.25 155.99v2.2M242.65 158.86h2.2M243.75 157.76v2.2M243.15 160.66h2.2M244.25 159.56v2.2M243.65 162.45h2.2M244.75 161.35v2.2M244.15 164.18h2.2M245.25 163.08v2.2M244.65 165.80h2.2M245.75 164.70v2.2M245.15 167.29h2.2M246.25 166.19v2.2M245.65 168.63h2.2M246.75 167.53v2.2M246.15 169.79h2.2M247.25 168.69v2.2M246.65 170.80h2.2M247.75 169.70v2.2M247.15 171.63h2.2M248.25 170.53v2.2M247.65 172.32h2.2M248.75 171.22v2.2M248.15 172.88h2.2M249.25 171.78v2.2M248.65 173.31h2.2M249.75 172.21v2.2M249.15 173.64h2.2M250.25 172.54v2.2M249.65 173.90h2.2M250.75 172.80v2.2M250.15 174.08h2.2M251.25 172.98v2.2" fill="none" stroke="#4a4a4a" stroke-width="0.5"/>
<path d="M215.75,211.50L215.75,211.19L216.00,211.18L216.25,211.16L216.50,211.14L216.75,211.12L217.00,211.11L217.25,211.09L217.50,211.08L217.75,211.06L218.00,211.05L218.25,211.04L218.50,211.03L218.75,211.02L219.00,211.01L219.25,211.01L219.50,211.00L219.75,211.00L220.00,211.00L220.25,211.00L220.50,210.99L220.75,210.99L221.00,210.98L221.25,210.97L221.50,210.95L221.75,210.94L222.00,210.92L222.25,210.90L222.50,210.88L222.75,210.86L223.00,210.84L223.25,210.82L223.50,210.80L223.75,210.77L224.00,210.75L224.25,210.73L224.50,210.70L224.75,210.68L225.00,210.66L225.25,210.64L225.50,210.62L225.75,210.60L226.00,210.58L226.25,210.56L226.50,210.55L226.75,210.53L227.00,210.52L227.25,210.51L227.50,210.51L227.75,210.50L228.00,210.50L228.25,210.48L228.50,210.44L228.75,210.38L229.00,210.29L229.25,210.20L229.50,210.10L229.75,210.00L230.00,209.91L230.25,209.82L230.50,209.76L230.75,209.72L231.00,209.70L231.25,209.69L231.50,209.65L231.75,209.59L232.00,209.53L232.25,209.46L232.50,209.40L232.75,209.34L233.00,209.31L233.25,209.30L233.50,209.33L233.75,209.39L234.00,209.47L234.25,209.56L234.50,209.66L234.75,209.75L235.00,209.83L235.25,209.88L235.50,209.90L235.75,209.92L236.00,209.98L236.25,210.07L236.50,210.18L236.75,210.30L237.00,210.42L237.25,210.52L237.50,210.61L237.75,210.66L238.00,210.68L238.25,210.66L238.50,210.65L238.75,210.63L239.00,210.59L239.25,210.51L239.50,210.36L239.75,210.13L240.00,209.77L240.25,209.24L240.50,208.51L240.75,207.53L241.00,206.27L241.25,204.72L241.50,202.87L241.75,200.75L242.00,198.38L242.25,195.86L242.50,193.26L242.75,190.71L243.00,188.36L243.25,186.35L243.50,184.80L243.75,183.83L244.00,183.50L244.25,183.84L244.50,184.83L244.75,186.41L245.00,188.47L245.25,190.86L245.50,193.46L245.75,196.10L246.00,198.68L246.25,201.08L246.50,203.24L246.75,205.11L247.00,206.67L247.25,207.94L247.50,208.94L247.75,209.70L248.00,210.27L248.25,210.68L248.50,210.96L248.75,211.16L248.75,211.50Z" fill="#8bd8fb" stroke="none"/>
<path d="M215.75,211.50L215.75,211.19L216.00,211.18L216.25,211.16L216.50,211.14L216.75,211.12L217.00,211.11L217.25,211.09L217.50,211.08L217.75,211.06L218.00,211.05L218.25,211.04L218.50,211.03L218.75,211.02L219.00,211.01L219.25,211.01L219.50,211.00L219.75,211.00L220.00,211.00L220.25,211.00L220.50,210.99L220.75,210.99L221.00,210.98L221.25,210.97L221.50,210.95L221.75,210.94L222.00,210.92L222.25,210.90L222.50,210.88L222.75,210.86L223.00,210.84L223.25,210.82L223.50,210.80L223.75,210.77L224.00,210.75L224.25,210.73L224.50,210.70L224.75,210.68L225.00,210.66L225.25,210.64L225.50,210.62L225.75,210.60L226.00,210.58L226.25,210.56L226.50,210.55L226.75,210.53L227.00,210.52L227.25,210.51L227.50,210.51L227.75,210.50L228.00,210.50L228.25,210.48L228.50,210.44L228.75,210.38L229.00,210.29L229.25,210.20L229.50,210.10L229.75,210.00L230.00,209.91L230.25,209.82L230.50,209.76L230.75,209.72L231.00,209.70L231.25,209.69L231.50,209.65L231.75,209.59L232.00,209.53L232.25,209.46L232.50,209.40L232.75,209.34L233.00,209.31L233.25,209.30L233.50,209.33L233.75,209.39L234.00,209.47L234.25,209.56L234.50,209.66L234.75,209.75L235.00,209.83L235.25,209.88L235.50,209.90L235.75,209.92L236.00,209.98L236.25,210.07L236.50,210.18L236.75,210.30L237.00,210.42L237.25,210.52L237.50,210.61L237.75,210.66L238.00,210.68L238.25,210.66L238.50,210.65L238.75,210.63L239.00,210.59L239.25,210.51L239.50,210.36L239.75,210.13L240.00,209.77L240.25,209.24L240.50,208.51L240.75,207.53L241.00,206.27L241.25,204.72L241.50,202.87L241.75,200.75L242.00,198.38L242.25,195.86L242.50,193.26L242.75,190.71L243.00,188.36L243.25,186.35L243.50,184.80L243.75,183.83L244.00,183.50L244.25,183.84L244.50,184.83L244.75,186.41L245.00,188.47L245.25,190.86L245.50,193.46L245.75,196.10L246.00,198.68L246.25,201.08L246.50,203.24L246.75,205.11L247.00,206.67L247.25,207.94L247.50,208.94L247.75,209.70L248.00,210.27L248.25,210.68L248.50,210.96L248.75,211.16L248.75,211.50" fill="none" stroke="#888" stroke-width="0.50"/>
<path d="M214.65 211.50h2.2M215.75 210.40v2.2M215.15 211.16h2.2M216.25 210.06v2.2M215.65 211.12h2.2M216.75 210.02v2.2M216.15 211.09h2.2M217.25 209.99v2.2M216.65 211.06h2.2M217.75 209.96v2.2M217.15 211.04h2.2M218.25 209.94v2.2M217.65 211.02h2.2M218.75 209.92v2.2M218.15 211.01h2.2M219.25 209.91v2.2M218.65 211.00h2.2M219.75 209.90v2.2M219.15 211.00h2.2M220.25 209.90v2.2M219.65 210.99h2.2M220.75 209.89v2.2M220.15 210.97h2.2M221.25 209.87v2.2M220.65 210.94h2.2M221.75 209.84v2.2M221.15 210.90h2.2M222.25 209.80v2.2M221.65 210.86h2.2M222.75 209.76v2.2M222.15 210.82h2.2M223.25 209.72v2.2M222.65 210.77h2.2M223.75 209.67v2.2M223.15 210.73h2.2M224.25 209.63v2.2M223.65 210.68h2.2M224.75 209.58v2.2M224.15 210.64h2.2M225.25 209.54v2.2M224.65 210.60h2.2M225.75 209.50v2.2M225.15 210.56h2.2M226.25 209.46v2.2M225.65 210.53h2.2M226.75 209.43v2.2M226.15 210.51h2.2M227.25 209.41v2.2M226.65 210.50h2.2M227.75 209.40v2.2M227.15 210.48h2.2M228.25 209.38v2.2M227.65 210.38h2.2M228.75 209.28v2.2M228.15 210.20h2.2M229.25 209.10v2.2M228.65 210.00h2.2M229.75 208.90v2.2M229.15 209.82h2.2M230.25 208.72v2.2M229.65 209.72h2.2M230.75 208.62v2.2M230.15 209.69h2.2M231.25 208.59v2.2M230.65 209.59h2.2M231.75 208.49v2.2M231.15 209.46h2.2M232.25 208.36v2.2M231.65 209.34h2.2M232.75 208.24v2.2M232.15 209.30h2.2M233.25 208.20v2.2M232.65 209.39h2.2M233.75 208.29v2.2M233.15 209.56h2.2M234.25 208.46v2.2M233.65 209.75h2.2M234.75 208.65v2.2M234.15 209.88h2.2M235.25 208.78v2.2M234.65 209.92h2.2M235.75 208.82v2.2M235.15 210.07h2.2M236.25 208.97v2.2M235.65 210.30h2.2M236.75 209.20v2.2M236.15 210.52h2.2M237.25 209.42v2.2M236.65 210.66h2.2M237.75 209.56v2.2M237.15 210.66h2.2M238.25 209.56v2.2M237.65 210.63h2.2M238.75 209.53v2.2M238.15 210.51h2.2M239.25 209.41v2.2M238.65 210.13h2.2M239.75 209.03v2.2M239.15 209.24h2.2M240.25 208.14v2.2M239.65 207.53h2.2M240.75 206.43v2.2M240.15 204.72h2.2M241.25 203.62v2.2M240.65 200.75h2.2M241.75 199.65v2.2M241.15 195.86h2.2M242.25 194.76v2.2M241.65 190.71h2.2M242.75 189.61v2.2M242.15 186.35h2.2M243.25 185.25v2.2M242.65 183.83h2.2M243.75 182.73v2.2M243.15 183.84h2.2M244.25 182.74v2.2M243.65 186.41h2.2M244.75 185.31v2.2M244.15 190.86h2.2M245.25 189.76v2.2M244.65 196.10h2.2M245.75 195.00v2.2M245.15 201.08h2.2M246.25 199.98v2.2M245.65 205.11h2.2M246.75 204.01v2.2M246.15 207.94h2.2M247.25 206.84v2.2M246.65 209.70h2.2M247.75 208.60v2.2M247.15 210.68h2.2M248.25 209.58v2.2M247.65 211.16h2.2M248.75 210.06v2.2" fill="none" stroke="#4a4a4a" stroke-width="0.5"/>
<path d="M214.00,248.50L214.00,248.17L214.25,248.12L214.50,248.07L214.75,248.02L215.00,247.98L215.25,247.95L215.50,247.92L215.75,247.91L216.00,247.90L216.25,247.90L216.50,247.89L216.75,247.87L217.00,247.85L217.25,247.83L217.50,247.80L217.75,247.77L218.00,247.74L218.25,247.70L218.50,247.67L218.75,247.63L219.00,247.59L219.25,247.55L219.50,247.52L219.75,247.48L220.00,247.45L220.25,247.41L220.50,247.39L220.75,247.36L221.00,247.34L221.25,247.32L221.50,247.31L221.75,247.30L222.00,247.30L222.25,247.30L222.50,247.31L222.75,247.32L223.00,247.33L223.25,247.34L223.50,247.36L223.75,247.37L224.00,247.39L224.25,247.41L224.50,247.43L224.75,247.45L225.00,247.47L225.25,247.48L225.50,247.50L225.75,247.52L226.00,247.54L226.25,247.55L226.50,247.57L226.75,247.58L227.00,247.59L227.25,247.59L227.50,247.60L227.75,247.60L228.00,247.59L228.25,247.58L228.50,247.56L228.75,247.54L229.00,247.51L229.25,247.48L229.50,247.45L229.75,247.41L230.00,247.38L230.25,247.34L230.50,247.31L230.75,247.28L231.00,247.25L231.25,247.23L231.50,247.21L231.75,247.20L232.00,247.20L232.25,247.19L232.50,247.18L232.75,247.16L233.00,247.12L233.25,247.09L233.50,247.04L233.75,247.00L234.00,246.95L234.25,246.90L234.50,246.85L234.75,246.80L235.00,246.76L235.25,246.71L235.50,246.68L235.75,246.64L236.00,246.62L236.25,246.61L236.50,246.60L236.75,246.59L237.00,246.58L237.25,246.55L237.50,246.52L237.75,246.48L238.00,246.44L238.25,246.40L238.50,246.36L238.75,246.31L239.00,246.27L239.25,246.24L239.50,246.21L239.75,246.19L240.00,246.18L240.25,246.17L240.50,246.15L240.75,246.12L241.00,246.08L241.25,246.04L241.50,245.97L241.75,245.90L242.00,245.79L242.25,245.67L242.50,245.50L242.75,245.30L243.00,245.04L243.25,244.72L243.50,244.36L243.75,243.92L244.00,243.39L244.25,242.73L244.50,241.92L244.75,240.95L245.00,239.79L245.25,238.43L245.50,236.86L245.75,235.07L246.00,233.09L246.25,230.97L246.50,228.79L246.75,226.61L247.00,224.49L247.25,222.49L247.50,220.71L247.75,219.27L248.00,218.31L248.25,218.10L248.50,218.97L248.75,220.41L249.00,222.21L249.25,224.27L249.50,226.50L249.75,228.80L250.00,231.09L250.25,233.31L250.50,235.41L250.75,237.35L251.00,239.11L251.25,240.68L251.50,242.05L251.75,243.24L252.00,244.26L252.25,245.11L252.50,245.82L252.75,246.40L253.00,246.87L253.25,247.25L253.50,247.55L253.75,247.78L254.00,247.96L254.25,248.10L254.25,248.50Z" fill="#6877fd" stroke="none"/>
<path d="M214.00,248.50L214.00,248.17L214.25,248.12L214.50,248.07L214.75,248.02L215.00,247.98L215.25,247.95L215.50,247.92L215.75,247.91L216.00,247.90L216.25,247.90L216.50,247.89L216.75,247.87L217.00,247.85L217.25,247.83L217.50,247.80L217.75,247.77L218.00,247.74L218.25,247.70L218.50,247.67L218.75,247.63L219.00,247.59L219.25,247.55L219.50,247.52L219.75,247.48L220.00,247.45L220.25,247.41L220.50,247.39L220.75,247.36L221.00,247.34L221.25,247.32L221.50,247.31L221.75,247.30L222.00,247.30L222.25,247.30L222.50,247.31L222.75,247.32L223.00,247.33L223.25,247.34L223.50,247.36L223.75,247.37L224.00,247.39L224.25,247.41L224.50,247.43L224.75,247.45L225.00,247.47L225.25,247.48L225.50,247.50L225.75,247.52L226.00,247.54L226.25,247.55L226.50,247.57L226.75,247.58L227.00,247.59L227.25,247.59L227.50,247.60L227.75,247.60L228.00,247.59L228.25,247.58L228.50,247.56L228.75,247.54L229.00,247.51L229.25,247.48L229.50,247.45L229.75,247.41L230.00,247.38L230.25,247.34L230.50,247.31L230.75,247.28L231.00,247.25L231.25,247.23L231.50,247.21L231.75,247.20L232.00,247.20L232.25,247.19L232.50,247.18L232.75,247.16L233.00,247.12L233.25,247.09L233.50,247.04L233.75,247.00L234.00,246.95L234.25,246.90L234.50,246.85L234.75,246.80L235.00,246.76L235.25,246.71L235.50,246.68L235.75,246.64L236.00,246.62L236.25,246.61L236.50,246.60L236.75,246.59L237.00,246.58L237.25,246.55L237.50,246.52L237.75,246.48L238.00,246.44L238.25,246.40L238.50,246.36L238.75,246.31L239.00,246.27L239.25,246.24L239.50,246.21L239.75,246.19L240.00,246.18L240.25,246.17L240.50,246.15L240.75,246.12L241.00,246.08L241.25,246.04L241.50,245.97L241.75,245.90L242.00,245.79L242.25,245.67L242.50,245.50L242.75,245.30L243.00,245.04L243.25,244.72L243.50,244.36L243.75,243.92L244.00,243.39L244.25,242.73L244.50,241.92L244.75,240.95L245.00,239.79L245.25,238.43L245.50,236.86L245.75,235.07L246.00,233.09L246.25,230.97L246.50,228.79L246.75,226.61L247.00,224.49L247.25,222.49L247.50,220.71L247.75,219.27L248.00,218.31L248.25,218.10L248.50,218.97L248.75,220.41L249.00,222.21L249.25,224.27L249.50,226.50L249.75,228.80L250.00,231.09L250.25,233.31L250.50,235.41L250.75,237.35L251.00,239.11L251.25,240.68L251.50,242.05L251.75,243.24L252.00,244.26L252.25,245.11L252.50,245.82L252.75,246.40L253.00,246.87L253.25,247.25L253.50,247.55L253.75,247.78L254.00,247.96L254.25,248.10L254.25,248.50" fill="none" stroke="#888" stroke-width="0.50"/>
<path d="M212.90 248.50h2.2M214.00 247.40v2.2M213.40 248.07h2.2M214.50 246.97v2.2M213.90 247.98h2.2M215.00 246.88v2.2M214.40 247.92h2.2M215.50 246.82v2.2M214.90 247.90h2.2M216.00 246.80v2.2M215.40 247.89h2.2M216.50 246.79v2.2M215.90 247.85h2.2M217.00 246.75v2.2M216.40 247.80h2.2M217.50 246.70v2.2M216.90 247.74h2.2M218.00 246.64v2.2M217.40 247.67h2.2M218.50 246.57v2.2M217.90 247.59h2.2M219.00 246.49v2.2M218.40 247.52h2.2M219.50 246.42v2.2M218.90 247.45h2.2M220.00 246.35v2.2M219.40 247.39h2.2M220.50 246.29v2.2M219.90 247.34h2.2M221.00 246.24v2.2M220.40 247.31h2.2M221.50 246.21v2.2M220.90 247.30h2.2M222.00 246.20v2.2M221.40 247.31h2.2M222.50 246.21v2.2M221.90 247.33h2.2M223.00 246.23v2.2M222.40 247.36h2.2M223.50 246.26v2.2M222.90 247.39h2.2M224.00 246.29v2.2M223.40 247.43h2.2M224.50 246.33v2.2M223.90 247.47h2.2M225.00 246.37v2.2M224.40 247.50h2.2M225.50 246.40v2.2M224.90 247.54h2.2M226.00 246.44v2.2M225.40 247.57h2.2M226.50 246.47v2.2M225.90 247.59h2.2M227.00 246.49v2.2M226.40 247.60h2.2M227.50 246.50v2.2M226.90 247.59h2.2M228.00 246.49v2.2M227.40 247.56h2.2M228.50 246.46v2.2M227.90 247.51h2.2M229.00 246.41v2.2M228.40 247.45h2.2M229.50 246.35v2.2M228.90 247.38h2.2M230.00 246.28v2.2M229.40 247.31h2.2M230.50 246.21v2.2M229.90 247.25h2.2M231.00 246.15v2.2M230.40 247.21h2.2M231.50 246.11v2.2M230.90 247.20h2.2M232.00 246.10v2.2M231.40 247.18h2.2M232.50 246.08v2.2M231.90 247.12h2.2M233.00 246.02v2.2M232.40 247.04h2.2M233.50 245.94v2.2M232.90 246.95h2.2M234.00 245.85v2.2M233.40 246.85h2.2M234.50 245.75v2.2M233.90 246.76h2.2M235.00 245.66v2.2M234.40 246.68h2.2M235.50 245.58v2.2M234.90 246.62h2.2M236.00 245.52v2.2M235.40 246.60h2.2M236.50 245.50v2.2M235.90 246.58h2.2M237.00 245.48v2.2M236.40 246.52h2.2M237.50 245.42v2.2M236.90 246.44h2.2M238.00 245.34v2.2M237.40 246.36h2.2M238.50 245.26v2.2M237.90 246.27h2.2M239.00 245.17v2.2M238.40 246.21h2.2M239.50 245.11v2.2M238.90 246.18h2.2M240.00 245.08v2.2M239.40 246.15h2.2M240.50 245.05v2.2M239.90 246.08h2.2M241.00 244.98v2.2M240.40 245.97h2.2M241.50 244.87v2.2M240.90 245.79h2.2M242.00 244.69v2.2M241.40 245.50h2.2M242.50 244.40v2.2M241.90 245.04h2.2M243.00 243.94v2.2M242.40 244.36h2.2M243.50 243.26v2.2M242.90 243.39h2.2M244.00 242.29v2.2M243.40 241.92h2.2M244.50 240.82v2.2M243.90 239.79h2.2M245.00 238.69v2.2M244.40 236.86h2.2M245.50 235.76v2.2M244.90 233.09h2.2M246.00 231.99v2.2M245.40 228.79h2.2M246.50 227.69v2.2M245.90 224.49h2.2M247.00 223.39v2.2M246.40 220.71h2.2M247.50 219.61v2.2M246.90 218.31h2.2M248.00 217.21v2.2M247.40 218.97h2.2M248.50 217.87v2.2M247.90 222.21h2.2M249.00 221.11v2.2M248.40 226.50h2.2M249.50 225.40v2.2M248.90 231.09h2.2M250.00 229.99v2.2M249.40 235.41h2.2M250.50 234.31v2.2M249.90 239.11h2.2M251.00 238.01v2.2M250.40 242.05h2.2M251.50 240.95v2.2M250.90 244.26h2.2M252.00 243.16v2.2M251.40 245.82h2.2M252.50 244.72v2.2M251.90 246.87h2.2M253.00 245.77v2.2M252.40 247.55h2.2M253.50 246.45v2.2M252.90 247.96h2.2M254.00 246.86v2.2" fill="none" stroke="#4a4a4a" stroke-width="0.5"/>
<path d="M395.25,63.00L395.25,62.67L395.50,62.61L395.75,62.55L396.00,62.48L396.25,62.39L396.50,62.30L396.75,62.19L397.00,62.07L397.25,61.94L397.50,61.79L397.75,61.62L398.00,61.43L398.25,61.22L398.50,60.98L398.75,60.72L399.00,60.44L399.25,60.13L399.50,59.79L399.75,59.42L400.00,59.02L400.25,58.58L400.50,58.11L400.75,57.60L401.00,57.06L401.25,56.48L401.50,55.86L401.75,55.21L402.00,54.52L402.25,53.79L402.50,53.03L402.75,52.24L403.00,51.41L403.25,50.55L403.50,49.67L403.75,48.76L404.00,47.83L404.25,46.89L404.50,45.93L404.75,44.96L405.00,43.99L405.25,43.02L405.50,42.06L405.75,41.12L406.00,40.19L406.25,39.29L406.50,38.42L406.75,37.58L407.00,36.79L407.25,36.05L407.50,35.36L407.75,34.73L408.00,34.17L408.25,33.67L408.50,33.24L408.75,32.90L409.00,32.62L409.25,32.43L409.50,32.33L409.75,32.30L410.00,32.36L410.25,32.50L410.50,32.72L410.75,33.03L411.00,33.41L411.25,33.86L411.50,34.38L411.75,34.98L412.00,35.63L412.25,36.34L412.50,37.10L412.75,37.91L413.00,38.76L413.25,39.65L413.50,40.56L413.75,41.49L414.00,42.45L414.25,43.41L414.50,44.38L414.75,45.35L415.00,46.31L415.25,47.27L415.50,48.21L415.75,49.13L416.00,50.03L416.25,50.90L416.50,51.75L416.75,52.56L417.00,53.34L417.25,54.09L417.50,54.80L417.75,55.48L418.00,56.12L418.25,56.72L418.50,57.28L418.75,57.81L419.00,58.30L419.25,58.76L419.50,59.18L419.75,59.57L420.00,59.93L420.25,60.26L420.50,60.56L420.75,60.83L421.00,61.08L421.25,61.30L421.50,61.50L421.75,61.69L422.00,61.85L422.25,61.99L422.50,62.12L422.75,62.24L423.00,62.34L423.25,62.43L423.50,62.51L423.75,62.58L424.00,62.64L424.25,62.69L424.25,63.00Z" fill="#eb7079" stroke="none"/>
<path d="M395.25,63.00L395.25,62.67L395.50,62.61L395.75,62.55L396.00,62.48L396.25,62.39L396.50,62.30L396.75,62.19L397.00,62.07L397.25,61.94L397.50,61.79L397.75,61.62L398.00,61.43L398.25,61.22L398.50,60.98L398.75,60.72L399.00,60.44L399.25,60.13L399.50,59.79L399.75,59.42L400.00,59.02L400.25,58.58L400.50,58.11L400.75,57.60L401.00,57.06L401.25,56.48L401.50,55.86L401.75,55.21L402.00,54.52L402.25,53.79L402.50,53.03L402.75,52.24L403.00,51.41L403.25,50.55L403.50,49.67L403.75,48.76L404.00,47.83L404.25,46.89L404.50,45.93L404.75,44.96L405.00,43.99L405.25,43.02L405.50,42.06L405.75,41.12L406.00,40.19L406.25,39.29L406.50,38.42L406.75,37.58L407.00,36.79L407.25,36.05L407.50,35.36L407.75,34.73L408.00,34.17L408.25,33.67L408.50,33.24L408.75,32.90L409.00,32.62L409.25,32.43L409.50,32.33L409.75,32.30L410.00,32.36L410.25,32.50L410.50,32.72L410.75,33.03L411.00,33.41L411.25,33.86L411.50,34.38L411.75,34.98L412.00,35.63L412.25,36.34L412.50,37.10L412.75,37.91L413.00,38.76L413.25,39.65L413.50,40.56L413.75,41.49L414.00,42.45L414.25,43.41L414.50,44.38L414.75,45.35L415.00,46.31L415.25,47.27L415.50,48.21L415.75,49.13L416.00,50.03L416.25,50.90L416.50,51.75L416.75,52.56L417.00,53.34L417.25,54.09L417.50,54.80L417.75,55.48L418.00,56.12L418.25,56.72L418.50,57.28L418.75,57.81L419.00,58.30L419.25,58.76L419.50,59.18L419.75,59.57L420.00,59.93L420.25,60.26L420.50,60.56L420.75,60.83L421.00,61.08L421.25,61.30L421.50,61.50L421.75,61.69L422.00,61.85L422.25,61.99L422.50,62.12L422.75,62.24L423.00,62.34L423.25,62.43L423.50,62.51L423.75,62.58L424.00,62.64L424.25,62.69L424.25,63.00" fill="none" stroke="#888" stroke-width="0.50"/>
<path d="M394.15 63.00h2.2M395.25 61.90v2.2M394.70 62.54h2.2M395.80 61.44v2.2M395.25 62.36h2.2M396.35 61.26v2.2M395.80 62.12h2.2M396.90 61.02v2.2M396.35 61.82h2.2M397.45 60.72v2.2M396.90 61.43h2.2M398.00 60.33v2.2M397.45 60.93h2.2M398.55 59.83v2.2M398.00 60.32h2.2M399.10 59.22v2.2M398.55 59.57h2.2M399.65 58.47v2.2M399.10 58.67h2.2M400.20 57.57v2.2M399.65 57.60h2.2M400.75 56.50v2.2M400.20 56.36h2.2M401.30 55.26v2.2M400.75 54.94h2.2M401.85 53.84v2.2M401.30 53.34h2.2M402.40 52.24v2.2M401.85 51.58h2.2M402.95 50.48v2.2M402.40 49.67h2.2M403.50 48.57v2.2M402.95 47.64h2.2M404.05 46.54v2.2M403.50 45.54h2.2M404.60 44.44v2.2M404.05 43.41h2.2M405.15 42.31v2.2M404.60 41.31h2.2M405.70 40.21v2.2M405.15 39.29h2.2M406.25 38.19v2.2M405.70 37.43h2.2M406.80 36.33v2.2M406.25 35.77h2.2M407.35 34.67v2.2M406.80 34.39h2.2M407.90 33.29v2.2M407.35 33.33h2.2M408.45 32.23v2.2M407.90 32.62h2.2M409.00 31.52v2.2M408.45 32.32h2.2M409.55 31.22v2.2M409.00 32.42h2.2M410.10 31.32v2.2M409.55 32.90h2.2M410.65 31.80v2.2M410.10 33.77h2.2M411.20 32.67v2.2M410.65 34.98h2.2M411.75 33.88v2.2M411.20 36.49h2.2M412.30 35.39v2.2M411.75 38.25h2.2M412.85 37.15v2.2M412.30 40.19h2.2M413.40 39.09v2.2M412.85 42.26h2.2M413.95 41.16v2.2M413.40 44.38h2.2M414.50 43.28v2.2M413.95 46.50h2.2M415.05 45.40v2.2M414.50 48.57h2.2M415.60 47.47v2.2M415.05 50.55h2.2M416.15 49.45v2.2M415.60 52.40h2.2M416.70 51.30v2.2M416.15 54.09h2.2M417.25 52.99v2.2M416.70 55.60h2.2M417.80 54.50v2.2M417.25 56.94h2.2M418.35 55.84v2.2M417.80 58.10h2.2M418.90 57.00v2.2M418.35 59.10h2.2M419.45 58.00v2.2M418.90 59.93h2.2M420.00 58.83v2.2M419.45 60.61h2.2M420.55 59.51v2.2M420.00 61.17h2.2M421.10 60.07v2.2M420.55 61.61h2.2M421.65 60.51v2.2M421.10 61.96h2.2M422.20 60.86v2.2M421.65 62.24h2.2M422.75 61.14v2.2M422.20 62.44h2.2M423.30 61.34v2.2M422.75 62.60h2.2M423.85 61.50v2.2" fill="none" stroke="#4a4a4a" stroke-width="0.5"/>
<path d="M398.00,100.50L398.00,100.12L398.25,100.01L398.50,99.87L398.75,99.71L399.00,99.50L399.25,99.25L399.50,98.95L399.75,98.60L400.00,98.18L400.25,97.69L400.50,97.13L400.75,96.49L401.00,95.76L401.25,94.94L401.50,94.04L401.75,93.05L402.00,91.98L402.25,90.82L402.50,89.60L402.75,88.33L403.00,87.01L403.25,85.67L403.50,84.32L403.75,82.99L404.00,81.70L404.25,80.48L404.50,79.35L404.75,78.33L405.00,77.45L405.25,76.72L405.50,76.17L405.75,75.79L406.00,75.62L406.25,75.64L406.50,75.85L406.75,76.26L407.00,76.85L407.25,77.61L407.50,78.53L407.75,79.57L408.00,80.72L408.25,81.96L408.50,83.26L408.75,84.59L409.00,85.94L409.25,87.28L409.50,88.59L409.75,89.85L410.00,91.06L410.25,92.20L410.50,93.26L410.75,94.23L411.00,95.11L411.25,95.91L411.50,96.62L411.75,97.25L412.00,97.80L412.25,98.27L412.50,98.67L412.75,99.02L413.00,99.30L413.25,99.54L413.50,99.74L413.75,99.90L414.00,100.03L414.25,100.14L414.25,100.50" fill="none" stroke="#888" stroke-width="0.50"/>
<path d="M396.90 100.50h2.2M398.00 99.40v2.2M397.45 99.84h2.2M398.55 98.74v2.2M398.00 99.40h2.2M399.10 98.30v2.2M398.55 98.74h2.2M399.65 97.64v2.2M399.10 97.79h2.2M400.20 96.69v2.2M399.65 96.49h2.2M400.75 95.39v2.2M400.20 94.76h2.2M401.30 93.66v2.2M400.75 92.62h2.2M401.85 91.52v2.2M401.30 90.09h2.2M402.40 88.99v2.2M401.85 87.27h2.2M402.95 86.17v2.2M402.40 84.32h2.2M403.50 83.22v2.2M402.95 81.46h2.2M404.05 80.36v2.2M403.50 78.94h2.2M404.60 77.84v2.2M404.05 77.01h2.2M405.15 75.91v2.2M404.60 75.87h2.2M405.70 74.77v2.2M405.15 75.64h2.2M406.25 74.54v2.2M405.70 76.38h2.2M406.80 75.28v2.2M406.25 77.98h2.2M407.35 76.88v2.2M406.80 80.26h2.2M407.90 79.16v2.2M407.35 83.00h2.2M408.45 81.90v2.2M407.90 85.94h2.2M409.00 84.84v2.2M408.45 88.84h2.2M409.55 87.74v2.2M409.00 91.52h2.2M410.10 90.42v2.2M409.55 93.84h2.2M410.65 92.74v2.2M410.10 95.75h2.2M411.20 94.65v2.2M410.65 97.25h2.2M411.75 96.15v2.2M411.20 98.35h2.2M412.30 97.25v2.2M411.75 99.13h2.2M412.85 98.03v2.2M412.30 99.66h2.2M413.40 98.56v2.2M412.85 100.01h2.2M413.95 98.91v2.2" fill="none" stroke="#4a4a4a" stroke-width="0.5"/>
<path d="M390.80,137.50L391.09,137.47L391.51,137.43L391.98,137.35L392.43,137.21L392.85,137.03L393.27,136.82L393.70,136.51L394.16,136.04L394.68,135.33L395.25,134.44L395.80,133.50L396.27,132.62L396.64,131.88L396.94,131.17L397.22,130.47L397.52,129.70L397.85,128.86L398.19,127.98L398.53,127.05L398.86,126.09L399.20,125.07L399.54,124.00L399.88,122.93L400.21,121.90L400.53,120.93L400.85,119.98L401.16,119.07L401.46,118.20L401.74,117.35L402.01,116.53L402.27,115.77L402.51,115.08L402.73,114.48L402.94,113.97L403.14,113.50L403.38,113.03L403.64,112.53L403.92,112.02L404.21,111.56L404.53,111.17L404.86,110.87L405.22,110.64L405.59,110.48L405.97,110.40L406.35,110.41L406.74,110.52L407.15,110.69L407.60,110.88L408.11,111.16L408.67,111.52L409.25,111.82L409.81,111.95L410.35,111.82L410.89,111.52L411.42,111.16L411.92,110.88L412.38,110.69L412.81,110.52L413.23,110.41L413.65,110.40L414.07,110.50L414.49,110.69L414.89,110.96L415.28,111.27L415.65,111.63L416.01,112.05L416.34,112.51L416.62,113.03L416.86,113.60L417.04,114.24L417.21,114.90L417.39,115.56L417.58,116.18L417.78,116.78L417.97,117.42L418.16,118.20L418.35,119.14L418.54,120.22L418.74,121.34L418.93,122.39L419.11,123.35L419.28,124.28L419.46,125.18L419.70,126.09L419.98,127.02L420.31,127.94L420.67,128.85L421.04,129.70L421.43,130.49L421.83,131.24L422.25,131.94L422.67,132.62L423.09,133.29L423.52,133.92L423.95,134.52L424.40,135.06L424.86,135.55L425.34,136.00L425.82,136.39L426.32,136.72L426.84,136.97L427.39,137.16L427.93,137.30L428.43,137.40L428.93,137.47L429.43,137.49L429.86,137.50L430.16,137.50Z" fill="#b3ffff" stroke="none"/>
<path d="M390.80,137.50L391.09,137.47L391.51,137.43L391.98,137.35L392.43,137.21L392.85,137.03L393.27,136.82L393.70,136.51L394.16,136.04L394.68,135.33L395.25,134.44L395.80,133.50L396.27,132.62L396.64,131.88L396.94,131.17L397.22,130.47L397.52,129.70L397.85,128.86L398.19,127.98L398.53,127.05L398.86,126.09L399.20,125.07L399.54,124.00L399.88,122.93L400.21,121.90L400.53,120.93L400.85,119.98L401.16,119.07L401.46,118.20L401.74,117.35L402.01,116.53L402.27,115.77L402.51,115.08L402.73,114.48L402.94,113.97L403.14,113.50L403.38,113.03L403.64,112.53L403.92,112.02L404.21,111.56L404.53,111.17L404.86,110.87L405.22,110.64L405.59,110.48L405.97,110.40L406.35,110.41L406.74,110.52L407.15,110.69L407.60,110.88L408.11,111.16L408.67,111.52L409.25,111.82L409.81,111.95L410.35,111.82L410.89,111.52L411.42,111.16L411.92,110.88L412.38,110.69L412.81,110.52L413.23,110.41L413.65,110.40L414.07,110.50L414.49,110.69L414.89,110.96L415.28,111.27L415.65,111.63L416.01,112.05L416.34,112.51L416.62,113.03L416.86,113.60L417.04,114.24L417.21,114.90L417.39,115.56L417.58,116.18L417.78,116.78L417.97,117.42L418.16,118.20L418.35,119.14L418.54,120.22L418.74,121.34L418.93,122.39L419.11,123.35L419.28,124.28L419.46,125.18L419.70,126.09L419.98,127.02L420.31,127.94L420.67,128.85L421.04,129.70L421.43,130.49L421.83,131.24L422.25,131.94L422.67,132.62L423.09,133.29L423.52,133.92L423.95,134.52L424.40,135.06L424.86,135.55L425.34,136.00L425.82,136.39L426.32,136.72L426.84,136.97L427.39,137.16L427.93,137.30L428.43,137.40L428.93,137.47L429.43,137.49L429.86,137.50L430.16,137.50" fill="none" stroke="#888" stroke-width="0.50"/>
<path d="M389.70 137.50h2.2M390.80 136.40v2.2M390.25 137.44h2.2M391.35 136.34v2.2M390.80 137.36h2.2M391.90 136.26v2.2M391.35 137.20h2.2M392.45 136.10v2.2M391.90 136.95h2.2M393.00 135.85v2.2M392.45 136.61h2.2M393.55 135.51v2.2M393.00 136.10h2.2M394.10 135.00v2.2M393.55 135.37h2.2M394.65 134.27v2.2M394.10 134.51h2.2M395.20 133.41v2.2M394.65 133.58h2.2M395.75 132.48v2.2M395.20 132.57h2.2M396.30 131.47v2.2M395.75 131.39h2.2M396.85 130.29v2.2M396.30 130.01h2.2M397.40 128.91v2.2M396.85 128.60h2.2M397.95 127.50v2.2M397.40 127.12h2.2M398.50 126.02v2.2M397.95 125.53h2.2M399.05 124.43v2.2M398.50 123.82h2.2M399.60 122.72v2.2M399.05 122.08h2.2M400.15 120.98v2.2M399.60 120.43h2.2M400.70 119.33v2.2M400.15 118.80h2.2M401.25 117.70v2.2M400.70 117.16h2.2M401.80 116.06v2.2M401.25 115.53h2.2M402.35 114.43v2.2M401.80 114.07h2.2M402.90 112.97v2.2M402.35 112.89h2.2M403.45 111.79v2.2M402.90 111.89h2.2M404.00 110.79v2.2M403.45 111.16h2.2M404.55 110.06v2.2M404.00 110.72h2.2M405.10 109.62v2.2M404.55 110.46h2.2M405.65 109.36v2.2M405.10 110.41h2.2M406.20 109.31v2.2M405.65 110.53h2.2M406.75 109.43v2.2M406.20 110.75h2.2M407.30 109.65v2.2M406.75 111.02h2.2M407.85 109.92v2.2M407.30 111.34h2.2M408.40 110.24v2.2M407.85 111.66h2.2M408.95 110.56v2.2M408.40 111.88h2.2M409.50 110.78v2.2M408.95 111.90h2.2M410.05 110.80v2.2M409.50 111.68h2.2M410.60 110.58v2.2M410.05 111.34h2.2M411.15 110.24v2.2M410.60 111.00h2.2M411.70 109.90v2.2M411.15 110.74h2.2M412.25 109.64v2.2M411.70 110.52h2.2M412.80 109.42v2.2M412.25 110.40h2.2M413.35 109.30v2.2M412.80 110.46h2.2M413.90 109.36v2.2M413.35 110.68h2.2M414.45 109.58v2.2M413.90 111.05h2.2M415.00 109.95v2.2M414.45 111.53h2.2M415.55 110.43v2.2M415.00 112.18h2.2M416.10 111.08v2.2M415.55 113.09h2.2M416.65 111.99v2.2M416.10 114.85h2.2M417.20 113.75v2.2M416.65 116.69h2.2M417.75 115.59v2.2M417.20 118.89h2.2M418.30 117.79v2.2M417.75 121.96h2.2M418.85 120.86v2.2M418.30 124.88h2.2M419.40 123.78v2.2M418.85 126.91h2.2M419.95 125.81v2.2M419.40 128.42h2.2M420.50 127.32v2.2M419.95 129.72h2.2M421.05 128.62v2.2M420.50 130.81h2.2M421.60 129.71v2.2M421.05 131.77h2.2M422.15 130.67v2.2M421.60 132.67h2.2M422.70 131.57v2.2M422.15 133.52h2.2M423.25 132.42v2.2M422.70 134.31h2.2M423.80 133.21v2.2M423.25 135.00h2.2M424.35 133.90v2.2M423.80 135.59h2.2M424.90 134.49v2.2M424.35 136.09h2.2M425.45 134.99v2.2M424.90 136.51h2.2M426.00 135.41v2.2M425.45 136.83h2.2M426.55 135.73v2.2M426.00 137.06h2.2M427.10 135.96v2.2M426.55 137.23h2.2M427.65 136.13v2.2M427.10 137.35h2.2M428.20 136.25v2.2M427.65 137.45h2.2M428.75 136.35v2.2M428.20 137.49h2.2M429.30 136.39v2.2M428.75 137.50h2.2M429.85 136.40v2.2" fill="none" stroke="#4a4a4a" stroke-width="0.5"/>
<path d="M406.50,174.50L406.50,174.16L406.75,174.09L407.00,174.00L407.25,173.90L407.50,173.78L407.75,173.64L408.00,173.48L408.25,173.29L408.50,173.07L408.75,172.82L409.00,172.54L409.25,172.22L409.50,171.86L409.75,171.46L410.00,171.01L410.25,170.51L410.50,169.97L410.75,169.37L411.00,168.72L411.25,168.02L411.50,167.26L411.75,166.46L412.00,165.61L412.25,164.71L412.50,163.77L412.75,162.79L413.00,161.78L413.25,160.75L413.50,159.70L413.75,158.64L414.00,157.59L414.25,156.54L414.50,155.52L414.75,154.54L415.00,153.59L415.25,152.71L415.50,151.89L415.75,151.14L416.00,150.48L416.25,149.92L416.50,149.45L416.75,149.10L417.00,148.85L417.25,148.72L417.50,148.71L417.75,148.80L418.00,148.99L418.25,149.28L418.50,149.66L418.75,150.13L419.00,150.68L419.25,151.32L419.50,152.02L419.75,152.79L420.00,153.61L420.25,154.48L420.50,155.39L420.75,156.33L421.00,157.29L421.25,158.26L421.50,159.24L421.75,160.22L422.00,161.18L422.25,162.13L422.50,163.05L422.75,163.95L423.00,164.82L423.25,165.65L423.50,166.43L423.75,167.18L424.00,167.89L424.25,168.55L424.50,169.16L424.75,169.73L425.00,170.26L425.25,170.74L425.50,171.18L425.75,171.58L426.00,171.94L426.25,172.27L426.50,172.56L426.75,172.82L427.00,173.05L427.25,173.26L427.50,173.44L427.75,173.59L428.00,173.73L428.25,173.85L428.50,173.95L428.75,174.04L429.00,174.12L429.25,174.18L429.25,174.50Z" fill="#80fffa" stroke="none"/>
<path d="M406.50,174.50L406.50,174.16L406.75,174.09L407.00,174.00L407.25,173.90L407.50,173.78L407.75,173.64L408.00,173.48L408.25,173.29L408.50,173.07L408.75,172.82L409.00,172.54L409.25,172.22L409.50,171.86L409.75,171.46L410.00,171.01L410.25,170.51L410.50,169.97L410.75,169.37L411.00,168.72L411.25,168.02L411.50,167.26L411.75,166.46L412.00,165.61L412.25,164.71L412.50,163.77L412.75,162.79L413.00,161.78L413.25,160.75L413.50,159.70L413.75,158.64L414.00,157.59L414.25,156.54L414.50,155.52L414.75,154.54L415.00,153.59L415.25,152.71L415.50,151.89L415.75,151.14L416.00,150.48L416.25,149.92L416.50,149.45L416.75,149.10L417.00,148.85L417.25,148.72L417.50,148.71L417.75,148.80L418.00,148.99L418.25,149.28L418.50,149.66L418.75,150.13L419.00,150.68L419.25,151.32L419.50,152.02L419.75,152.79L420.00,153.61L420.25,154.48L420.50,155.39L420.75,156.33L421.00,157.29L421.25,158.26L421.50,159.24L421.75,160.22L422.00,161.18L422.25,162.13L422.50,163.05L422.75,163.95L423.00,164.82L423.25,165.65L423.50,166.43L423.75,167.18L424.00,167.89L424.25,168.55L424.50,169.16L424.75,169.73L425.00,170.26L425.25,170.74L425.50,171.18L425.75,171.58L426.00,171.94L426.25,172.27L426.50,172.56L426.75,172.82L427.00,173.05L427.25,173.26L427.50,173.44L427.75,173.59L428.00,173.73L428.25,173.85L428.50,173.95L428.75,174.04L429.00,174.12L429.25,174.18L429.25,174.50" fill="none" stroke="#888" stroke-width="0.50"/>
<path d="M405.40 174.50h2.2M406.50 173.40v2.2M405.95 173.98h2.2M407.05 172.88v2.2M406.50 173.72h2.2M407.60 172.62v2.2M407.05 173.36h2.2M408.15 172.26v2.2M407.60 172.87h2.2M408.70 171.77v2.2M408.15 172.22h2.2M409.25 171.12v2.2M408.70 171.37h2.2M409.80 170.27v2.2M409.25 170.29h2.2M410.35 169.19v2.2M409.80 168.98h2.2M410.90 167.88v2.2M410.35 167.42h2.2M411.45 166.32v2.2M410.90 165.61h2.2M412.00 164.51v2.2M411.45 163.57h2.2M412.55 162.47v2.2M412.00 161.37h2.2M413.10 160.27v2.2M412.55 159.06h2.2M413.65 157.96v2.2M413.10 156.75h2.2M414.20 155.65v2.2M413.65 154.54h2.2M414.75 153.44v2.2M414.20 152.54h2.2M415.30 151.44v2.2M414.75 150.88h2.2M415.85 149.78v2.2M415.30 149.64h2.2M416.40 148.54v2.2M415.85 148.90h2.2M416.95 147.80v2.2M416.40 148.71h2.2M417.50 147.61v2.2M416.95 149.05h2.2M418.05 147.95v2.2M417.50 149.85h2.2M418.60 148.75v2.2M418.05 151.06h2.2M419.15 149.96v2.2M418.60 152.64h2.2M419.70 151.54v2.2M419.15 154.48h2.2M420.25 153.38v2.2M419.70 156.52h2.2M420.80 155.42v2.2M420.25 158.66h2.2M421.35 157.56v2.2M420.80 160.80h2.2M421.90 159.70v2.2M421.35 162.87h2.2M422.45 161.77v2.2M421.90 164.82h2.2M423.00 163.72v2.2M422.45 166.58h2.2M423.55 165.48v2.2M423.00 168.15h2.2M424.10 167.05v2.2M423.55 169.50h2.2M424.65 168.40v2.2M424.10 170.64h2.2M425.20 169.54v2.2M424.65 171.58h2.2M425.75 170.48v2.2M425.20 172.33h2.2M426.30 171.23v2.2M425.75 172.91h2.2M426.85 171.81v2.2M426.30 173.36h2.2M427.40 172.26v2.2M426.85 173.70h2.2M427.95 172.60v2.2M427.40 173.95h2.2M428.50 172.85v2.2M427.95 174.13h2.2M429.05 173.03v2.2" fill="none" stroke="#4a4a4a" stroke-width="0.5"/>
<path d="M400.50,211.50L400.50,211.14L400.75,211.05L401.00,210.94L401.25,210.81L401.50,210.66L401.75,210.47L402.00,210.26L402.25,210.01L402.50,209.71L402.75,209.37L403.00,208.98L403.25,208.54L403.50,208.04L403.75,207.47L404.00,206.84L404.25,206.15L404.50,205.38L404.75,204.54L405.00,203.64L405.25,202.67L405.50,201.64L405.75,200.54L406.00,199.40L406.25,198.21L406.50,196.99L406.75,195.75L407.00,194.50L407.25,193.26L407.50,192.04L407.75,190.85L408.00,189.72L408.25,188.66L408.50,187.68L408.75,186.80L409.00,186.04L409.25,185.40L409.50,184.91L409.75,184.55L410.00,184.35L410.25,184.30L410.50,184.38L410.75,184.57L411.00,184.87L411.25,185.27L411.50,185.77L411.75,186.37L412.00,187.05L412.25,187.81L412.50,188.64L412.75,189.53L413.00,190.48L413.25,191.47L413.50,192.48L413.75,193.53L414.00,194.58L414.25,195.64L414.50,196.69L414.75,197.73L415.00,198.75L415.25,199.74L415.50,200.70L415.75,201.62L416.00,202.50L416.25,203.33L416.50,204.12L416.75,204.86L417.00,205.55L417.25,206.19L417.50,206.78L417.75,207.32L418.00,207.82L418.25,208.27L418.50,208.67L418.75,209.04L419.00,209.37L419.25,209.66L419.50,209.92L419.75,210.14L420.00,210.34L420.25,210.52L420.50,210.67L420.75,210.80L421.00,210.91L421.25,211.01L421.50,211.09L421.75,211.16L421.75,211.50Z" fill="#8bd8fb" stroke="none"/>
<path d="M400.50,211.50L400.50,211.14L400.75,211.05L401.00,210.94L401.25,210.81L401.50,210.66L401.75,210.47L402.00,210.26L402.25,210.01L402.50,209.71L402.75,209.37L403.00,208.98L403.25,208.54L403.50,208.04L403.75,207.47L404.00,206.84L404.25,206.15L404.50,205.38L404.75,204.54L405.00,203.64L405.25,202.67L405.50,201.64L405.75,200.54L406.00,199.40L406.25,198.21L406.50,196.99L406.75,195.75L407.00,194.50L407.25,193.26L407.50,192.04L407.75,190.85L408.00,189.72L408.25,188.66L408.50,187.68L408.75,186.80L409.00,186.04L409.25,185.40L409.50,184.91L409.75,184.55L410.00,184.35L410.25,184.30L410.50,184.38L410.75,184.57L411.00,184.87L411.25,185.27L411.50,185.77L411.75,186.37L412.00,187.05L412.25,187.81L412.50,188.64L412.75,189.53L413.00,190.48L413.25,191.47L413.50,192.48L413.75,193.53L414.00,194.58L414.25,195.64L414.50,196.69L414.75,197.73L415.00,198.75L415.25,199.74L415.50,200.70L415.75,201.62L416.00,202.50L416.25,203.33L416.50,204.12L416.75,204.86L417.00,205.55L417.25,206.19L417.50,206.78L417.75,207.32L418.00,207.82L418.25,208.27L418.50,208.67L418.75,209.04L419.00,209.37L419.25,209.66L419.50,209.92L419.75,210.14L420.00,210.34L420.25,210.52L420.50,210.67L420.75,210.80L421.00,210.91L421.25,211.01L421.50,211.09L421.75,211.16L421.75,211.50" fill="none" stroke="#888" stroke-width="0.50"/>
<path d="M399.40 211.50h2.2M400.50 210.40v2.2M399.95 210.92h2.2M401.05 209.82v2.2M400.50 210.58h2.2M401.60 209.48v2.2M401.05 210.11h2.2M402.15 209.01v2.2M401.60 209.44h2.2M402.70 208.34v2.2M402.15 208.54h2.2M403.25 207.44v2.2M402.70 207.35h2.2M403.80 206.25v2.2M403.25 205.84h2.2M404.35 204.74v2.2M403.80 204.00h2.2M404.90 202.90v2.2M404.35 201.84h2.2M405.45 200.74v2.2M404.90 199.40h2.2M406.00 198.30v2.2M405.45 196.74h2.2M406.55 195.64v2.2M406.00 194.01h2.2M407.10 192.91v2.2M406.55 191.33h2.2M407.65 190.23v2.2M407.10 188.87h2.2M408.20 187.77v2.2M407.65 186.80h2.2M408.75 185.70v2.2M408.20 185.30h2.2M409.30 184.20v2.2M408.75 184.47h2.2M409.85 183.37v2.2M409.30 184.35h2.2M410.40 183.25v2.2M409.85 184.81h2.2M410.95 183.71v2.2M410.40 185.77h2.2M411.50 184.67v2.2M410.95 187.20h2.2M412.05 186.10v2.2M411.50 189.00h2.2M412.60 187.90v2.2M412.05 191.07h2.2M413.15 189.97v2.2M412.60 193.32h2.2M413.70 192.22v2.2M413.15 195.64h2.2M414.25 194.54v2.2M413.70 197.93h2.2M414.80 196.83v2.2M414.25 200.12h2.2M415.35 199.02v2.2M414.80 202.15h2.2M415.90 201.05v2.2M415.35 203.96h2.2M416.45 202.86v2.2M415.90 205.55h2.2M417.00 204.45v2.2M416.45 206.89h2.2M417.55 205.79v2.2M417.00 208.00h2.2M418.10 206.90v2.2M417.55 208.89h2.2M418.65 207.79v2.2M418.10 209.60h2.2M419.20 208.50v2.2M418.65 210.14h2.2M419.75 209.04v2.2M419.20 210.55h2.2M420.30 209.45v2.2M419.75 210.84h2.2M420.85 209.74v2.2M420.30 211.06h2.2M421.40 209.96v2.2" fill="none" stroke="#4a4a4a" stroke-width="0.5"/>
<path d="M400.25,248.50L400.25,248.19L400.50,248.12L400.75,248.03L401.00,247.93L401.25,247.82L401.50,247.68L401.75,247.52L402.00,247.33L402.25,247.11L402.50,246.85L402.75,246.56L403.00,246.23L403.25,245.85L403.50,245.42L403.75,244.94L404.00,244.41L404.25,243.81L404.50,243.15L404.75,242.43L405.00,241.65L405.25,240.80L405.50,239.88L405.75,238.90L406.00,237.85L406.25,236.75L406.50,235.59L406.75,234.39L407.00,233.16L407.25,231.89L407.50,230.61L407.75,229.32L408.00,228.04L408.25,226.78L408.50,225.57L408.75,224.40L409.00,223.31L409.25,222.31L409.50,221.41L409.75,220.63L410.00,219.98L410.25,219.49L410.50,219.15L410.75,219.01L411.00,219.05L411.25,219.25L411.50,219.59L411.75,220.04L412.00,220.61L412.25,221.27L412.50,222.03L412.75,222.87L413.00,223.79L413.25,224.76L413.50,225.78L413.75,226.84L414.00,227.93L414.25,229.04L414.50,230.16L414.75,231.28L415.00,232.39L415.25,233.48L415.50,234.55L415.75,235.59L416.00,236.59L416.25,237.56L416.50,238.48L416.75,239.36L417.00,240.19L417.25,240.98L417.50,241.71L417.75,242.39L418.00,243.02L418.25,243.61L418.50,244.14L418.75,244.64L419.00,245.08L419.25,245.49L419.50,245.86L419.75,246.19L420.00,246.48L420.25,246.75L420.50,246.98L420.75,247.19L421.00,247.37L421.25,247.53L421.50,247.67L421.75,247.80L422.00,247.90L422.25,247.99L422.50,248.07L422.75,248.14L423.00,248.20L423.00,248.50Z" fill="#6877fd" stroke="none"/>
<path d="M400.25,248.50L400.25,248.19L400.50,248.12L400.75,248.03L401.00,247.93L401.25,247.82L401.50,247.68L401.75,247.52L402.00,247.33L402.25,247.11L402.50,246.85L402.75,246.56L403.00,246.23L403.25,245.85L403.50,245.42L403.75,244.94L404.00,244.41L404.25,243.81L404.50,243.15L404.75,242.43L405.00,241.65L405.25,240.80L405.50,239.88L405.75,238.90L406.00,237.85L406.25,236.75L406.50,235.59L406.75,234.39L407.00,233.16L407.25,231.89L407.50,230.61L407.75,229.32L408.00,228.04L408.25,226.78L408.50,225.57L408.75,224.40L409.00,223.31L409.25,222.31L409.50,221.41L409.75,220.63L410.00,219.98L410.25,219.49L410.50,219.15L410.75,219.01L411.00,219.05L411.25,219.25L411.50,219.59L411.75,220.04L412.00,220.61L412.25,221.27L412.50,222.03L412.75,222.87L413.00,223.79L413.25,224.76L413.50,225.78L413.75,226.84L414.00,227.93L414.25,229.04L414.50,230.16L414.75,231.28L415.00,232.39L415.25,233.48L415.50,234.55L415.75,235.59L416.00,236.59L416.25,237.56L416.50,238.48L416.75,239.36L417.00,240.19L417.25,240.98L417.50,241.71L417.75,242.39L418.00,243.02L418.25,243.61L418.50,244.14L418.75,244.64L419.00,245.08L419.25,245.49L419.50,245.86L419.75,246.19L420.00,246.48L420.25,246.75L420.50,246.98L420.75,247.19L421.00,247.37L421.25,247.53L421.50,247.67L421.75,247.80L422.00,247.90L422.25,247.99L422.50,248.07L422.75,248.14L423.00,248.20L423.00,248.50" fill="none" stroke="#888" stroke-width="0.50"/>
<path d="M399.15 248.50h2.2M400.25 247.40v2.2M399.70 248.01h2.2M400.80 246.91v2.2M400.25 247.76h2.2M401.35 246.66v2.2M400.80 247.40h2.2M401.90 246.30v2.2M401.35 246.90h2.2M402.45 245.80v2.2M401.90 246.23h2.2M403.00 245.13v2.2M402.45 245.33h2.2M403.55 244.23v2.2M403.00 244.17h2.2M404.10 243.07v2.2M403.55 242.72h2.2M404.65 241.62v2.2M404.10 240.97h2.2M405.20 239.87v2.2M404.65 238.90h2.2M405.75 237.80v2.2M405.20 236.52h2.2M406.30 235.42v2.2M405.75 233.90h2.2M406.85 232.80v2.2M406.30 231.12h2.2M407.40 230.02v2.2M406.85 228.30h2.2M407.95 227.20v2.2M407.40 225.57h2.2M408.50 224.47v2.2M407.95 223.11h2.2M409.05 222.01v2.2M408.50 221.10h2.2M409.60 220.00v2.2M409.05 219.68h2.2M410.15 218.58v2.2M409.60 219.04h2.2M410.70 217.94v2.2M410.15 219.25h2.2M411.25 218.15v2.2M410.70 220.15h2.2M411.80 219.05v2.2M411.25 221.58h2.2M412.35 220.48v2.2M411.80 223.42h2.2M412.90 222.32v2.2M412.35 225.58h2.2M413.45 224.48v2.2M412.90 227.93h2.2M414.00 226.83v2.2M413.45 230.38h2.2M414.55 229.28v2.2M414.00 232.82h2.2M415.10 231.72v2.2M414.55 235.17h2.2M415.65 234.07v2.2M415.10 237.37h2.2M416.20 236.27v2.2M415.65 239.36h2.2M416.75 238.26v2.2M416.20 241.12h2.2M417.30 240.02v2.2M416.75 242.64h2.2M417.85 241.54v2.2M417.30 243.93h2.2M418.40 242.83v2.2M417.85 244.99h2.2M418.95 243.89v2.2M418.40 245.86h2.2M419.50 244.76v2.2M418.95 246.54h2.2M420.05 245.44v2.2M419.50 247.06h2.2M420.60 245.96v2.2M420.05 247.47h2.2M421.15 246.37v2.2M420.60 247.77h2.2M421.70 246.67v2.2M421.15 247.99h2.2M422.25 246.89v2.2M421.70 248.15h2.2M422.80 247.05v2.2" fill="none" stroke="#4a4a4a" stroke-width="0.5"/>
<path d="M559.00,63.40L559.81,63.26L560.98,63.07L562.24,62.86L563.30,62.70L564.09,62.61L564.74,62.55L565.36,62.49L566.00,62.40L566.72,62.25L567.46,62.07L568.17,61.88L568.80,61.70L569.30,61.53L569.72,61.38L570.10,61.20L570.50,61.00L570.93,60.76L571.37,60.49L571.80,60.20L572.20,59.90L572.57,59.60L572.93,59.29L573.26,58.96L573.60,58.60L573.92,58.21L574.23,57.80L574.55,57.36L574.90,56.90L575.31,56.42L575.76,55.91L576.20,55.38L576.60,54.80L576.94,54.18L577.24,53.51L577.53,52.82L577.80,52.10L578.07,51.35L578.32,50.58L578.57,49.78L578.80,49.00L579.00,48.26L579.19,47.56L579.38,46.79L579.60,45.90L579.88,44.77L580.20,43.47L580.52,42.19L580.80,41.10L581.03,40.28L581.22,39.62L581.41,39.06L581.60,38.50L581.79,37.95L581.98,37.44L582.18,36.96L582.40,36.50L582.66,36.05L582.94,35.61L583.23,35.21L583.50,34.90L583.74,34.68L583.96,34.53L584.18,34.44L584.40,34.40L584.63,34.40L584.86,34.46L585.09,34.56L585.30,34.70L585.48,34.86L585.64,35.05L585.81,35.29L586.00,35.60L586.23,36.00L586.48,36.47L586.74,36.98L587.00,37.50L587.25,38.04L587.50,38.62L587.75,39.19L588.00,39.70L588.25,40.15L588.49,40.57L588.74,40.95L589.00,41.30L589.27,41.63L589.54,41.92L589.82,42.19L590.10,42.40L590.38,42.55L590.68,42.65L590.95,42.72L591.20,42.80L591.39,42.83L591.53,42.81L591.69,42.87L591.90,43.10L592.20,43.57L592.56,44.21L592.93,44.95L593.30,45.70L593.63,46.48L593.94,47.31L594.28,48.16L594.70,49.00L595.23,49.83L595.84,50.65L596.48,51.48L597.10,52.30L597.68,53.15L598.25,54.01L598.82,54.85L599.40,55.60L599.99,56.25L600.59,56.84L601.20,57.38L601.80,57.90L602.40,58.43L603.01,58.94L603.61,59.41L604.20,59.80L604.78,60.12L605.35,60.38L605.92,60.55L606.50,60.60L607.10,60.43L607.70,60.09L608.30,59.75L608.90,59.60L609.47,59.74L610.02,60.06L610.59,60.39L611.20,60.60L611.91,60.60L612.68,60.48L613.44,60.34L614.10,60.30L614.62,60.38L615.06,60.52L615.47,60.70L615.90,60.90L616.37,61.13L616.84,61.40L617.32,61.67L617.80,61.90L618.27,62.07L618.73,62.21L619.20,62.35L619.70,62.50L620.30,62.70L620.97,62.94L621.58,63.15L622.00,63.30Z" fill="#eb7079" stroke="none"/>
<path d="M559.00,63.40L559.81,63.26L560.98,63.07L562.24,62.86L563.30,62.70L564.09,62.61L564.74,62.55L565.36,62.49L566.00,62.40L566.72,62.25L567.46,62.07L568.17,61.88L568.80,61.70L569.30,61.53L569.72,61.38L570.10,61.20L570.50,61.00L570.93,60.76L571.37,60.49L571.80,60.20L572.20,59.90L572.57,59.60L572.93,59.29L573.26,58.96L573.60,58.60L573.92,58.21L574.23,57.80L574.55,57.36L574.90,56.90L575.31,56.42L575.76,55.91L576.20,55.38L576.60,54.80L576.94,54.18L577.24,53.51L577.53,52.82L577.80,52.10L578.07,51.35L578.32,50.58L578.57,49.78L578.80,49.00L579.00,48.26L579.19,47.56L579.38,46.79L579.60,45.90L579.88,44.77L580.20,43.47L580.52,42.19L580.80,41.10L581.03,40.28L581.22,39.62L581.41,39.06L581.60,38.50L581.79,37.95L581.98,37.44L582.18,36.96L582.40,36.50L582.66,36.05L582.94,35.61L583.23,35.21L583.50,34.90L583.74,34.68L583.96,34.53L584.18,34.44L584.40,34.40L584.63,34.40L584.86,34.46L585.09,34.56L585.30,34.70L585.48,34.86L585.64,35.05L585.81,35.29L586.00,35.60L586.23,36.00L586.48,36.47L586.74,36.98L587.00,37.50L587.25,38.04L587.50,38.62L587.75,39.19L588.00,39.70L588.25,40.15L588.49,40.57L588.74,40.95L589.00,41.30L589.27,41.63L589.54,41.92L589.82,42.19L590.10,42.40L590.38,42.55L590.68,42.65L590.95,42.72L591.20,42.80L591.39,42.83L591.53,42.81L591.69,42.87L591.90,43.10L592.20,43.57L592.56,44.21L592.93,44.95L593.30,45.70L593.63,46.48L593.94,47.31L594.28,48.16L594.70,49.00L595.23,49.83L595.84,50.65L596.48,51.48L597.10,52.30L597.68,53.15L598.25,54.01L598.82,54.85L599.40,55.60L599.99,56.25L600.59,56.84L601.20,57.38L601.80,57.90L602.40,58.43L603.01,58.94L603.61,59.41L604.20,59.80L604.78,60.12L605.35,60.38L605.92,60.55L606.50,60.60L607.10,60.43L607.70,60.09L608.30,59.75L608.90,59.60L609.47,59.74L610.02,60.06L610.59,60.39L611.20,60.60L611.91,60.60L612.68,60.48L613.44,60.34L614.10,60.30L614.62,60.38L615.06,60.52L615.47,60.70L615.90,60.90L616.37,61.13L616.84,61.40L617.32,61.67L617.80,61.90L618.27,62.07L618.73,62.21L619.20,62.35L619.70,62.50L620.30,62.70L620.97,62.94L621.58,63.15L622.00,63.30" fill="none" stroke="#555" stroke-width="0.60"/>
<path d="M558.10 63.40h1.8M559.00 62.50v1.8M558.45 63.34h1.8M559.35 62.44v1.8M558.80 63.28h1.8M559.70 62.38v1.8M559.15 63.22h1.8M560.05 62.32v1.8M559.50 63.17h1.8M560.40 62.27v1.8M559.85 63.11h1.8M560.75 62.21v1.8M560.20 63.05h1.8M561.10 62.15v1.8M560.55 62.99h1.8M561.45 62.09v1.8M560.90 62.93h1.8M561.80 62.03v1.8M561.25 62.88h1.8M562.15 61.98v1.8M561.60 62.82h1.8M562.50 61.92v1.8M561.95 62.77h1.8M562.85 61.87v1.8M562.30 62.72h1.8M563.20 61.82v1.8M562.65 62.67h1.8M563.55 61.77v1.8M563.00 62.63h1.8M563.90 61.73v1.8M563.35 62.59h1.8M564.25 61.69v1.8M563.70 62.56h1.8M564.60 61.66v1.8M564.05 62.53h1.8M564.95 61.63v1.8M564.40 62.50h1.8M565.30 61.60v1.8M564.75 62.45h1.8M565.65 61.55v1.8M565.10 62.40h1.8M566.00 61.50v1.8M565.45 62.33h1.8M566.35 61.43v1.8M565.80 62.26h1.8M566.70 61.36v1.8M566.15 62.17h1.8M567.05 61.27v1.8M566.50 62.09h1.8M567.40 61.19v1.8M566.85 62.00h1.8M567.75 61.10v1.8M567.20 61.90h1.8M568.10 61.00v1.8M567.55 61.80h1.8M568.45 60.90v1.8M567.90 61.70h1.8M568.80 60.80v1.8M568.25 61.58h1.8M569.15 60.68v1.8M568.60 61.46h1.8M569.50 60.56v1.8M568.95 61.32h1.8M569.85 60.42v1.8M569.30 61.15h1.8M570.20 60.25v1.8M569.65 60.97h1.8M570.55 60.07v1.8M570.00 60.78h1.8M570.90 59.88v1.8M570.35 60.56h1.8M571.25 59.66v1.8M570.70 60.33h1.8M571.60 59.43v1.8M571.05 60.08h1.8M571.95 59.18v1.8M571.40 59.82h1.8M572.30 58.92v1.8M571.75 59.53h1.8M572.65 58.63v1.8M572.10 59.21h1.8M573.00 58.31v1.8M572.45 58.87h1.8M573.35 57.97v1.8M572.80 58.48h1.8M573.70 57.58v1.8M573.15 58.04h1.8M574.05 57.14v1.8M573.50 57.57h1.8M574.40 56.67v1.8M573.85 57.10h1.8M574.75 56.20v1.8M574.20 56.66h1.8M575.10 55.76v1.8M574.55 56.26h1.8M575.45 55.36v1.8M574.90 55.86h1.8M575.80 54.96v1.8M575.25 55.44h1.8M576.15 54.54v1.8M575.60 54.94h1.8M576.50 54.04v1.8M575.95 54.34h1.8M576.85 53.44v1.8M576.30 53.61h1.8M577.20 52.71v1.8M576.65 52.75h1.8M577.55 51.85v1.8M577.00 51.82h1.8M577.90 50.92v1.8M577.35 50.80h1.8M578.25 49.90v1.8M577.70 49.68h1.8M578.60 48.78v1.8M578.05 48.46h1.8M578.95 47.56v1.8M578.40 47.10h1.8M579.30 46.20v1.8M578.75 45.70h1.8M579.65 44.80v1.8M579.10 44.28h1.8M580.00 43.38v1.8M579.45 42.86h1.8M580.35 41.96v1.8M579.80 41.49h1.8M580.70 40.59v1.8M580.15 40.21h1.8M581.05 39.31v1.8M580.50 39.09h1.8M581.40 38.19v1.8M580.85 38.07h1.8M581.75 37.17v1.8M581.20 37.15h1.8M582.10 36.25v1.8M581.55 36.41h1.8M582.45 35.51v1.8M581.90 35.83h1.8M582.80 34.93v1.8M582.25 35.33h1.8M583.15 34.43v1.8M582.60 34.90h1.8M583.50 34.00v1.8M582.95 34.61h1.8M583.85 33.71v1.8M583.30 34.44h1.8M584.20 33.54v1.8M583.65 34.40h1.8M584.55 33.50v1.8M584.00 34.48h1.8M584.90 33.58v1.8M584.35 34.67h1.8M585.25 33.77v1.8M584.70 35.00h1.8M585.60 34.10v1.8M585.05 35.52h1.8M585.95 34.62v1.8M585.40 36.13h1.8M586.30 35.23v1.8M585.75 36.80h1.8M586.65 35.90v1.8M586.10 37.50h1.8M587.00 36.60v1.8M586.45 38.27h1.8M587.35 37.37v1.8M586.80 39.07h1.8M587.70 38.17v1.8M587.15 39.79h1.8M588.05 38.89v1.8M587.50 40.41h1.8M588.40 39.51v1.8M587.85 40.96h1.8M588.75 40.06v1.8M588.20 41.42h1.8M589.10 40.52v1.8M588.55 41.82h1.8M589.45 40.92v1.8M588.90 42.16h1.8M589.80 41.26v1.8M589.25 42.43h1.8M590.15 41.53v1.8M589.60 42.59h1.8M590.50 41.69v1.8M589.95 42.70h1.8M590.85 41.80v1.8M590.30 42.80h1.8M591.20 41.90v1.8M590.65 42.82h1.8M591.55 41.92v1.8M591.00 43.10h1.8M591.90 42.20v1.8M591.35 43.66h1.8M592.25 42.76v1.8M591.70 44.30h1.8M592.60 43.40v1.8M592.05 44.98h1.8M592.95 44.08v1.8M592.40 45.70h1.8M593.30 44.80v1.8M592.75 46.54h1.8M593.65 45.64v1.8M593.10 47.46h1.8M594.00 46.56v1.8M593.45 48.30h1.8M594.35 47.40v1.8M593.80 49.00h1.8M594.70 48.10v1.8M594.15 49.54h1.8M595.05 48.64v1.8M594.50 50.05h1.8M595.40 49.15v1.8M594.85 50.52h1.8M595.75 49.62v1.8M595.20 50.98h1.8M596.10 50.08v1.8M595.55 51.43h1.8M596.45 50.53v1.8M595.90 51.90h1.8M596.80 51.00v1.8M596.25 52.37h1.8M597.15 51.47v1.8M596.60 52.89h1.8M597.50 51.99v1.8M596.95 53.41h1.8M597.85 52.51v1.8M597.30 53.94h1.8M598.20 53.04v1.8M597.65 54.45h1.8M598.55 53.55v1.8M598.00 54.95h1.8M598.90 54.05v1.8M598.35 55.40h1.8M599.25 54.50v1.8M598.70 55.82h1.8M599.60 54.92v1.8M599.05 56.21h1.8M599.95 55.31v1.8M599.40 56.55h1.8M600.30 55.65v1.8M599.75 56.89h1.8M600.65 55.99v1.8M600.10 57.20h1.8M601.00 56.30v1.8M600.45 57.51h1.8M601.35 56.61v1.8M600.80 57.81h1.8M601.70 56.91v1.8M601.15 58.12h1.8M602.05 57.22v1.8M601.50 58.43h1.8M602.40 57.53v1.8M601.85 58.73h1.8M602.75 57.83v1.8M602.20 59.02h1.8M603.10 58.12v1.8M602.55 59.29h1.8M603.45 58.39v1.8M602.90 59.54h1.8M603.80 58.64v1.8M603.25 59.77h1.8M604.15 58.87v1.8M603.60 59.97h1.8M604.50 59.07v1.8M603.95 60.15h1.8M604.85 59.25v1.8M604.30 60.31h1.8M605.20 59.41v1.8M604.65 60.44h1.8M605.55 59.54v1.8M605.00 60.55h1.8M605.90 59.65v1.8M605.35 60.58h1.8M606.25 59.68v1.8M605.70 60.57h1.8M606.60 59.67v1.8M606.05 60.47h1.8M606.95 59.57v1.8M606.40 60.31h1.8M607.30 59.41v1.8M606.75 60.12h1.8M607.65 59.22v1.8M607.10 59.92h1.8M608.00 59.02v1.8M607.45 59.74h1.8M608.35 58.84v1.8M607.80 59.65h1.8M608.70 58.75v1.8M608.15 59.64h1.8M609.05 58.74v1.8M608.50 59.72h1.8M609.40 58.82v1.8M608.85 59.90h1.8M609.75 59.00v1.8M609.20 60.10h1.8M610.10 59.20v1.8M609.55 60.31h1.8M610.45 59.41v1.8M609.90 60.47h1.8M610.80 59.57v1.8M610.25 60.58h1.8M611.15 59.68v1.8M610.60 60.60h1.8M611.50 59.70v1.8M610.95 60.60h1.8M611.85 59.70v1.8M611.30 60.55h1.8M612.20 59.65v1.8M611.65 60.50h1.8M612.55 59.60v1.8M612.00 60.44h1.8M612.90 59.54v1.8M612.35 60.38h1.8M613.25 59.48v1.8M612.70 60.33h1.8M613.60 59.43v1.8M613.05 60.31h1.8M613.95 59.41v1.8M613.40 60.33h1.8M614.30 59.43v1.8M613.75 60.39h1.8M614.65 59.49v1.8M614.10 60.50h1.8M615.00 59.60v1.8M614.45 60.65h1.8M615.35 59.75v1.8M614.80 60.81h1.8M615.70 59.91v1.8M615.15 60.97h1.8M616.05 60.07v1.8M615.50 61.15h1.8M616.40 60.25v1.8M615.85 61.35h1.8M616.75 60.45v1.8M616.20 61.54h1.8M617.10 60.64v1.8M616.55 61.73h1.8M617.45 60.83v1.8M616.90 61.90h1.8M617.80 61.00v1.8M617.25 62.03h1.8M618.15 61.13v1.8M617.60 62.14h1.8M618.50 61.24v1.8M617.95 62.25h1.8M618.85 61.35v1.8M618.30 62.35h1.8M619.20 61.45v1.8M618.65 62.45h1.8M619.55 61.55v1.8M619.00 62.57h1.8M619.90 61.67v1.8M619.35 62.69h1.8M620.25 61.79v1.8M619.70 62.81h1.8M620.60 61.91v1.8M620.05 62.93h1.8M620.95 62.03v1.8M620.40 63.05h1.8M621.30 62.15v1.8M620.75 63.18h1.8M621.65 62.28v1.8" fill="none" stroke="#505050" stroke-width="0.5"/>
<path d="M564.00,100.50L564.54,100.44L565.33,100.36L566.18,100.22L566.90,100.00L567.46,99.68L567.96,99.27L568.40,98.80L568.80,98.30L569.15,97.78L569.44,97.22L569.72,96.61L570.00,95.90L570.30,95.08L570.59,94.16L570.89,93.19L571.20,92.20L571.52,91.16L571.85,90.07L572.18,88.99L572.50,88.00L572.81,87.13L573.11,86.33L573.40,85.57L573.70,84.80L573.99,84.02L574.27,83.24L574.57,82.47L574.90,81.70L575.27,80.95L575.68,80.20L576.10,79.45L576.50,78.70L576.89,77.89L577.27,77.04L577.65,76.24L578.00,75.60L578.30,75.12L578.57,74.77L578.86,74.53L579.20,74.40L579.63,74.45L580.12,74.66L580.63,74.89L581.10,75.00L581.51,74.95L581.89,74.82L582.27,74.63L582.70,74.40L583.21,74.00L583.76,73.46L584.31,73.06L584.80,73.10L585.19,73.78L585.52,74.91L585.84,76.16L586.20,77.20L586.62,77.97L587.08,78.63L587.54,79.20L588.00,79.70L588.46,80.08L588.93,80.34L589.39,80.58L589.80,80.90L590.16,81.30L590.49,81.74L590.79,82.23L591.10,82.80L591.41,83.47L591.71,84.22L592.00,85.02L592.30,85.80L592.60,86.57L592.89,87.34L593.19,88.12L593.50,88.90L593.81,89.67L594.11,90.44L594.44,91.21L594.80,92.00L595.21,92.83L595.66,93.70L596.13,94.54L596.60,95.30L597.07,95.96L597.55,96.56L598.03,97.10L598.50,97.60L598.94,98.05L599.36,98.44L599.80,98.79L600.30,99.10L600.88,99.38L601.52,99.61L602.18,99.82L602.80,100.00L603.42,100.16L604.06,100.31L604.61,100.42L605.00,100.50" fill="none" stroke="#555" stroke-width="0.60"/>
<path d="M563.10 100.50h1.8M564.00 99.60v1.8M563.45 100.46h1.8M564.35 99.56v1.8M563.80 100.42h1.8M564.70 99.52v1.8M564.15 100.39h1.8M565.05 99.49v1.8M564.50 100.35h1.8M565.40 99.45v1.8M564.85 100.29h1.8M565.75 99.39v1.8M565.20 100.23h1.8M566.10 99.33v1.8M565.55 100.14h1.8M566.45 99.24v1.8M565.90 100.03h1.8M566.80 99.13v1.8M566.25 99.86h1.8M567.15 98.96v1.8M566.60 99.64h1.8M567.50 98.74v1.8M566.95 99.36h1.8M567.85 98.46v1.8M567.30 99.01h1.8M568.20 98.11v1.8M567.65 98.61h1.8M568.55 97.71v1.8M568.00 98.15h1.8M568.90 97.25v1.8M568.35 97.59h1.8M569.25 96.69v1.8M568.70 96.87h1.8M569.60 95.97v1.8M569.05 96.02h1.8M569.95 95.12v1.8M569.40 95.07h1.8M570.30 94.17v1.8M569.75 93.98h1.8M570.65 93.08v1.8M570.10 92.85h1.8M571.00 91.95v1.8M570.45 91.71h1.8M571.35 90.81v1.8M570.80 90.57h1.8M571.70 89.67v1.8M571.15 89.42h1.8M572.05 88.52v1.8M571.50 88.31h1.8M572.40 87.41v1.8M571.85 87.29h1.8M572.75 86.39v1.8M572.20 86.35h1.8M573.10 85.45v1.8M572.55 85.45h1.8M573.45 84.55v1.8M572.90 84.53h1.8M573.80 83.63v1.8M573.25 83.58h1.8M574.15 82.68v1.8M573.60 82.65h1.8M574.50 81.75v1.8M573.95 81.82h1.8M574.85 80.92v1.8M574.30 81.09h1.8M575.20 80.19v1.8M574.65 80.44h1.8M575.55 79.54v1.8M575.00 79.81h1.8M575.90 78.91v1.8M575.35 79.17h1.8M576.25 78.27v1.8M575.70 78.49h1.8M576.60 77.59v1.8M576.05 77.75h1.8M576.95 76.85v1.8M576.40 76.98h1.8M577.30 76.08v1.8M576.75 76.24h1.8M577.65 75.34v1.8M577.10 75.60h1.8M578.00 74.70v1.8M577.45 75.06h1.8M578.35 74.16v1.8M577.80 74.66h1.8M578.70 73.76v1.8M578.15 74.46h1.8M579.05 73.56v1.8M578.50 74.42h1.8M579.40 73.52v1.8M578.85 74.50h1.8M579.75 73.60v1.8M579.20 74.65h1.8M580.10 73.75v1.8M579.55 74.81h1.8M580.45 73.91v1.8M579.90 74.93h1.8M580.80 74.03v1.8M580.25 74.99h1.8M581.15 74.09v1.8M580.60 74.95h1.8M581.50 74.05v1.8M580.95 74.83h1.8M581.85 73.93v1.8M581.30 74.66h1.8M582.20 73.76v1.8M581.65 74.48h1.8M582.55 73.58v1.8M582.00 74.24h1.8M582.90 73.34v1.8M582.35 73.96h1.8M583.25 73.06v1.8M582.70 73.61h1.8M583.60 72.71v1.8M583.05 73.32h1.8M583.95 72.42v1.8M583.40 73.07h1.8M584.30 72.17v1.8M583.75 73.09h1.8M584.65 72.19v1.8M584.10 73.45h1.8M585.00 72.55v1.8M584.45 74.33h1.8M585.35 73.43v1.8M584.80 75.62h1.8M585.70 74.72v1.8M585.15 76.77h1.8M586.05 75.87v1.8M585.50 77.56h1.8M586.40 76.66v1.8M585.85 78.16h1.8M586.75 77.26v1.8M586.20 78.66h1.8M587.10 77.76v1.8M586.55 79.09h1.8M587.45 78.19v1.8M586.90 79.48h1.8M587.80 78.58v1.8M587.25 79.82h1.8M588.15 78.92v1.8M587.60 80.10h1.8M588.50 79.20v1.8M587.95 80.29h1.8M588.85 79.39v1.8M588.30 80.48h1.8M589.20 79.58v1.8M588.65 80.71h1.8M589.55 79.81v1.8M589.00 81.01h1.8M589.90 80.11v1.8M589.35 81.42h1.8M590.25 80.52v1.8M589.70 81.92h1.8M590.60 81.02v1.8M590.05 82.52h1.8M590.95 81.62v1.8M590.40 83.24h1.8M591.30 82.34v1.8M590.75 84.08h1.8M591.65 83.18v1.8M591.10 85.01h1.8M592.00 84.11v1.8M591.45 85.93h1.8M592.35 85.03v1.8M591.80 86.84h1.8M592.70 85.94v1.8M592.15 87.75h1.8M593.05 86.85v1.8M592.50 88.65h1.8M593.40 87.75v1.8M592.85 89.53h1.8M593.75 88.63v1.8M593.20 90.41h1.8M594.10 89.51v1.8M593.55 91.24h1.8M594.45 90.34v1.8M593.90 92.00h1.8M594.80 91.10v1.8M594.25 92.71h1.8M595.15 91.81v1.8M594.60 93.39h1.8M595.50 92.49v1.8M594.95 94.04h1.8M595.85 93.14v1.8M595.30 94.65h1.8M596.20 93.75v1.8M595.65 95.22h1.8M596.55 94.32v1.8M596.00 95.72h1.8M596.90 94.82v1.8M596.35 96.19h1.8M597.25 95.29v1.8M596.70 96.62h1.8M597.60 95.72v1.8M597.05 97.01h1.8M597.95 96.11v1.8M597.40 97.39h1.8M598.30 96.49v1.8M597.75 97.75h1.8M598.65 96.85v1.8M598.10 98.10h1.8M599.00 97.20v1.8M598.45 98.43h1.8M599.35 97.53v1.8M598.80 98.70h1.8M599.70 97.80v1.8M599.15 98.94h1.8M600.05 98.04v1.8M599.50 99.15h1.8M600.40 98.25v1.8M599.85 99.31h1.8M600.75 98.41v1.8M600.20 99.46h1.8M601.10 98.56v1.8M600.55 99.58h1.8M601.45 98.68v1.8M600.90 99.70h1.8M601.80 98.80v1.8M601.25 99.81h1.8M602.15 98.91v1.8M601.60 99.91h1.8M602.50 99.01v1.8M601.95 100.01h1.8M602.85 99.11v1.8M602.30 100.11h1.8M603.20 99.21v1.8M602.65 100.19h1.8M603.55 99.29v1.8M603.00 100.27h1.8M603.90 99.37v1.8M603.35 100.35h1.8M604.25 99.45v1.8M603.70 100.42h1.8M604.60 99.52v1.8M604.05 100.49h1.8M604.95 99.59v1.8" fill="none" stroke="#505050" stroke-width="0.5"/>
<path d="M575.00,137.50L575.45,137.47L576.11,137.43L576.81,137.33L577.40,137.10L577.83,136.74L578.19,136.28L578.50,135.71L578.80,135.00L579.08,134.15L579.32,133.16L579.55,132.07L579.80,130.90L580.07,129.62L580.34,128.24L580.62,126.81L580.90,125.40L581.17,124.03L581.43,122.65L581.70,121.28L582.00,119.90L582.33,118.49L582.69,117.06L583.05,115.68L583.40,114.40L583.73,113.26L584.05,112.23L584.37,111.25L584.70,110.30L585.05,109.32L585.41,108.35L585.76,107.48L586.10,106.80L586.42,106.32L586.72,105.99L587.01,105.84L587.30,105.90L587.57,106.23L587.84,106.81L588.11,107.50L588.40,108.20L588.73,109.01L589.08,109.94L589.44,110.76L589.80,111.20L590.14,111.09L590.48,110.59L590.82,110.00L591.20,109.60L591.63,109.42L592.09,109.33L592.55,109.37L593.00,109.60L593.42,110.07L593.83,110.73L594.22,111.51L594.60,112.30L594.96,113.07L595.29,113.88L595.63,114.77L596.00,115.80L596.40,117.03L596.83,118.42L597.27,119.88L597.70,121.30L598.12,122.69L598.52,124.09L598.95,125.47L599.40,126.80L599.90,128.08L600.42,129.33L600.97,130.51L601.50,131.60L602.00,132.59L602.49,133.50L603.00,134.31L603.60,135.00L604.30,135.55L605.08,135.98L605.89,136.31L606.70,136.60L607.51,136.83L608.34,136.98L609.18,137.09L610.00,137.20L610.88,137.30L611.81,137.39L612.63,137.45L613.20,137.50Z" fill="#b3ffff" stroke="none"/>
<path d="M575.00,137.50L575.45,137.47L576.11,137.43L576.81,137.33L577.40,137.10L577.83,136.74L578.19,136.28L578.50,135.71L578.80,135.00L579.08,134.15L579.32,133.16L579.55,132.07L579.80,130.90L580.07,129.62L580.34,128.24L580.62,126.81L580.90,125.40L581.17,124.03L581.43,122.65L581.70,121.28L582.00,119.90L582.33,118.49L582.69,117.06L583.05,115.68L583.40,114.40L583.73,113.26L584.05,112.23L584.37,111.25L584.70,110.30L585.05,109.32L585.41,108.35L585.76,107.48L586.10,106.80L586.42,106.32L586.72,105.99L587.01,105.84L587.30,105.90L587.57,106.23L587.84,106.81L588.11,107.50L588.40,108.20L588.73,109.01L589.08,109.94L589.44,110.76L589.80,111.20L590.14,111.09L590.48,110.59L590.82,110.00L591.20,109.60L591.63,109.42L592.09,109.33L592.55,109.37L593.00,109.60L593.42,110.07L593.83,110.73L594.22,111.51L594.60,112.30L594.96,113.07L595.29,113.88L595.63,114.77L596.00,115.80L596.40,117.03L596.83,118.42L597.27,119.88L597.70,121.30L598.12,122.69L598.52,124.09L598.95,125.47L599.40,126.80L599.90,128.08L600.42,129.33L600.97,130.51L601.50,131.60L602.00,132.59L602.49,133.50L603.00,134.31L603.60,135.00L604.30,135.55L605.08,135.98L605.89,136.31L606.70,136.60L607.51,136.83L608.34,136.98L609.18,137.09L610.00,137.20L610.88,137.30L611.81,137.39L612.63,137.45L613.20,137.50" fill="none" stroke="#555" stroke-width="0.60"/>
<path d="M574.10 137.50h1.8M575.00 136.60v1.8M574.45 137.48h1.8M575.35 136.58v1.8M574.80 137.45h1.8M575.70 136.55v1.8M575.15 137.43h1.8M576.05 136.53v1.8M575.50 137.39h1.8M576.40 136.49v1.8M575.85 137.34h1.8M576.75 136.44v1.8M576.20 137.22h1.8M577.10 136.32v1.8M576.55 137.06h1.8M577.45 136.16v1.8M576.90 136.77h1.8M577.80 135.87v1.8M577.25 136.33h1.8M578.15 135.43v1.8M577.60 135.71h1.8M578.50 134.81v1.8M577.95 134.85h1.8M578.85 133.95v1.8M578.30 133.64h1.8M579.20 132.74v1.8M578.65 132.08h1.8M579.55 131.18v1.8M579.00 130.42h1.8M579.90 129.52v1.8M579.35 128.71h1.8M580.25 127.81v1.8M579.70 126.92h1.8M580.60 126.02v1.8M580.05 125.14h1.8M580.95 124.24v1.8M580.40 123.34h1.8M581.30 122.44v1.8M580.75 121.55h1.8M581.65 120.65v1.8M581.10 119.90h1.8M582.00 119.00v1.8M581.45 118.42h1.8M582.35 117.52v1.8M581.80 117.01h1.8M582.70 116.11v1.8M582.15 115.68h1.8M583.05 114.78v1.8M582.50 114.40h1.8M583.40 113.50v1.8M582.85 113.20h1.8M583.75 112.30v1.8M583.20 112.07h1.8M584.10 111.17v1.8M583.55 111.02h1.8M584.45 110.12v1.8M583.90 110.02h1.8M584.80 109.12v1.8M584.25 109.04h1.8M585.15 108.14v1.8M584.60 108.12h1.8M585.50 107.22v1.8M584.95 107.30h1.8M585.85 106.40v1.8M585.30 106.65h1.8M586.20 105.75v1.8M585.65 106.17h1.8M586.55 105.27v1.8M586.00 105.90h1.8M586.90 105.00v1.8M586.35 105.89h1.8M587.25 104.99v1.8M586.70 106.29h1.8M587.60 105.39v1.8M587.05 107.10h1.8M587.95 106.20v1.8M587.40 107.96h1.8M588.30 107.06v1.8M587.75 108.81h1.8M588.65 107.91v1.8M588.10 109.73h1.8M589.00 108.83v1.8M588.45 110.55h1.8M589.35 109.65v1.8M588.80 111.08h1.8M589.70 110.18v1.8M589.15 111.12h1.8M590.05 110.22v1.8M589.50 110.70h1.8M590.40 109.80v1.8M589.85 110.12h1.8M590.75 109.22v1.8M590.20 109.70h1.8M591.10 108.80v1.8M590.55 109.50h1.8M591.45 108.60v1.8M590.90 109.39h1.8M591.80 108.49v1.8M591.25 109.34h1.8M592.15 108.44v1.8M591.60 109.37h1.8M592.50 108.47v1.8M591.95 109.52h1.8M592.85 108.62v1.8M592.30 109.82h1.8M593.20 108.92v1.8M592.65 110.28h1.8M593.55 109.38v1.8M593.00 110.88h1.8M593.90 109.98v1.8M593.35 111.57h1.8M594.25 110.67v1.8M593.70 112.30h1.8M594.60 111.40v1.8M594.05 113.06h1.8M594.95 112.16v1.8M594.40 113.89h1.8M595.30 112.99v1.8M594.75 114.81h1.8M595.65 113.91v1.8M595.10 115.80h1.8M596.00 114.90v1.8M595.45 116.87h1.8M596.35 115.97v1.8M595.80 118.00h1.8M596.70 117.10v1.8M596.15 119.15h1.8M597.05 118.25v1.8M596.50 120.31h1.8M597.40 119.41v1.8M596.85 121.47h1.8M597.75 120.57v1.8M597.20 122.64h1.8M598.10 121.74v1.8M597.55 123.84h1.8M598.45 122.94v1.8M597.90 124.99h1.8M598.80 124.09v1.8M598.25 126.07h1.8M599.15 125.17v1.8M598.60 127.06h1.8M599.50 126.16v1.8M598.95 127.96h1.8M599.85 127.06v1.8M599.30 128.80h1.8M600.20 127.90v1.8M599.65 129.60h1.8M600.55 128.70v1.8M600.00 130.37h1.8M600.90 129.47v1.8M600.35 131.09h1.8M601.25 130.19v1.8M600.70 131.80h1.8M601.60 130.90v1.8M601.05 132.49h1.8M601.95 131.59v1.8M601.40 133.15h1.8M602.30 132.25v1.8M601.75 133.75h1.8M602.65 132.85v1.8M602.10 134.30h1.8M603.00 133.40v1.8M602.45 134.71h1.8M603.35 133.81v1.8M602.80 135.08h1.8M603.70 134.18v1.8M603.15 135.35h1.8M604.05 134.45v1.8M603.50 135.60h1.8M604.40 134.70v1.8M603.85 135.80h1.8M604.75 134.90v1.8M604.20 135.99h1.8M605.10 135.09v1.8M604.55 136.13h1.8M605.45 135.23v1.8M604.90 136.28h1.8M605.80 135.38v1.8M605.25 136.41h1.8M606.15 135.51v1.8M605.60 136.53h1.8M606.50 135.63v1.8M605.95 136.64h1.8M606.85 135.74v1.8M606.30 136.74h1.8M607.20 135.84v1.8M606.65 136.83h1.8M607.55 135.93v1.8M607.00 136.90h1.8M607.90 136.00v1.8M607.35 136.96h1.8M608.25 136.06v1.8M607.70 137.02h1.8M608.60 136.12v1.8M608.05 137.06h1.8M608.95 136.16v1.8M608.40 137.11h1.8M609.30 136.21v1.8M608.75 137.16h1.8M609.65 136.26v1.8M609.10 137.20h1.8M610.00 136.30v1.8M609.45 137.24h1.8M610.35 136.34v1.8M609.80 137.28h1.8M610.70 136.38v1.8M610.15 137.32h1.8M611.05 136.42v1.8M610.50 137.35h1.8M611.40 136.45v1.8M610.85 137.38h1.8M611.75 136.48v1.8M611.20 137.41h1.8M612.10 136.51v1.8M611.55 137.44h1.8M612.45 136.54v1.8M611.90 137.47h1.8M612.80 136.57v1.8M612.25 137.50h1.8M613.15 136.60v1.8" fill="none" stroke="#505050" stroke-width="0.5"/>
<path d="M579.50,174.50L580.00,174.45L580.72,174.40L581.53,174.27L582.30,174.00L583.03,173.56L583.78,172.99L584.51,172.33L585.20,171.60L585.83,170.78L586.42,169.87L586.97,168.93L587.50,168.00L587.97,167.06L588.40,166.11L588.83,165.19L589.30,164.40L589.84,163.69L590.42,163.04L591.01,162.55L591.60,162.30L592.16,162.35L592.71,162.64L593.28,163.09L593.90,163.60L594.60,164.30L595.35,165.19L596.10,165.98L596.80,166.40L597.43,166.36L598.02,166.01L598.57,165.43L599.10,164.70L599.59,163.71L600.04,162.47L600.47,161.20L600.90,160.10L601.32,159.22L601.72,158.44L602.14,157.77L602.60,157.20L603.12,156.77L603.67,156.46L604.27,156.22L604.90,156.00L605.59,155.81L606.33,155.68L607.08,155.55L607.80,155.40L608.49,155.18L609.16,154.93L609.80,154.71L610.40,154.60L610.93,154.59L611.41,154.66L611.89,154.84L612.40,155.20L612.97,155.78L613.58,156.53L614.20,157.40L614.80,158.30L615.38,159.26L615.96,160.29L616.53,161.36L617.10,162.40L617.66,163.44L618.21,164.50L618.78,165.51L619.40,166.40L620.08,167.17L620.81,167.85L621.56,168.43L622.30,168.90L623.02,169.25L623.75,169.47L624.48,169.62L625.20,169.70L625.94,169.65L626.69,169.49L627.42,169.35L628.10,169.40L628.70,169.71L629.25,170.18L629.80,170.71L630.40,171.20L631.07,171.63L631.77,172.05L632.52,172.45L633.30,172.80L634.14,173.10L635.03,173.36L635.93,173.59L636.80,173.80L637.70,174.01L638.62,174.21L639.43,174.38L640.00,174.50Z" fill="#80fffa" stroke="none"/>
<path d="M579.50,174.50L580.00,174.45L580.72,174.40L581.53,174.27L582.30,174.00L583.03,173.56L583.78,172.99L584.51,172.33L585.20,171.60L585.83,170.78L586.42,169.87L586.97,168.93L587.50,168.00L587.97,167.06L588.40,166.11L588.83,165.19L589.30,164.40L589.84,163.69L590.42,163.04L591.01,162.55L591.60,162.30L592.16,162.35L592.71,162.64L593.28,163.09L593.90,163.60L594.60,164.30L595.35,165.19L596.10,165.98L596.80,166.40L597.43,166.36L598.02,166.01L598.57,165.43L599.10,164.70L599.59,163.71L600.04,162.47L600.47,161.20L600.90,160.10L601.32,159.22L601.72,158.44L602.14,157.77L602.60,157.20L603.12,156.77L603.67,156.46L604.27,156.22L604.90,156.00L605.59,155.81L606.33,155.68L607.08,155.55L607.80,155.40L608.49,155.18L609.16,154.93L609.80,154.71L610.40,154.60L610.93,154.59L611.41,154.66L611.89,154.84L612.40,155.20L612.97,155.78L613.58,156.53L614.20,157.40L614.80,158.30L615.38,159.26L615.96,160.29L616.53,161.36L617.10,162.40L617.66,163.44L618.21,164.50L618.78,165.51L619.40,166.40L620.08,167.17L620.81,167.85L621.56,168.43L622.30,168.90L623.02,169.25L623.75,169.47L624.48,169.62L625.20,169.70L625.94,169.65L626.69,169.49L627.42,169.35L628.10,169.40L628.70,169.71L629.25,170.18L629.80,170.71L630.40,171.20L631.07,171.63L631.77,172.05L632.52,172.45L633.30,172.80L634.14,173.10L635.03,173.36L635.93,173.59L636.80,173.80L637.70,174.01L638.62,174.21L639.43,174.38L640.00,174.50" fill="none" stroke="#555" stroke-width="0.60"/>
<path d="M578.60 174.50h1.8M579.50 173.60v1.8M578.95 174.47h1.8M579.85 173.57v1.8M579.30 174.44h1.8M580.20 173.54v1.8M579.65 174.41h1.8M580.55 173.51v1.8M580.00 174.37h1.8M580.90 173.47v1.8M580.35 174.31h1.8M581.25 173.41v1.8M580.70 174.24h1.8M581.60 173.34v1.8M581.05 174.12h1.8M581.95 173.22v1.8M581.40 174.00h1.8M582.30 173.10v1.8M581.75 173.79h1.8M582.65 172.89v1.8M582.10 173.58h1.8M583.00 172.68v1.8M582.45 173.32h1.8M583.35 172.42v1.8M582.80 173.06h1.8M583.70 172.16v1.8M583.15 172.75h1.8M584.05 171.85v1.8M583.50 172.43h1.8M584.40 171.53v1.8M583.85 172.08h1.8M584.75 171.18v1.8M584.20 171.71h1.8M585.10 170.81v1.8M584.55 171.28h1.8M585.45 170.38v1.8M584.90 170.82h1.8M585.80 169.92v1.8M585.25 170.29h1.8M586.15 169.39v1.8M585.60 169.74h1.8M586.50 168.84v1.8M585.95 169.14h1.8M586.85 168.24v1.8M586.30 168.53h1.8M587.20 167.63v1.8M586.65 167.90h1.8M587.55 167.00v1.8M587.00 167.21h1.8M587.90 166.31v1.8M587.35 166.44h1.8M588.25 165.54v1.8M587.70 165.68h1.8M588.60 164.78v1.8M588.05 164.99h1.8M588.95 164.09v1.8M588.40 164.40h1.8M589.30 163.50v1.8M588.75 163.94h1.8M589.65 163.04v1.8M589.10 163.51h1.8M590.00 162.61v1.8M589.45 163.12h1.8M590.35 162.22v1.8M589.80 162.81h1.8M590.70 161.91v1.8M590.15 162.54h1.8M591.05 161.64v1.8M590.50 162.39h1.8M591.40 161.49v1.8M590.85 162.31h1.8M591.75 161.41v1.8M591.20 162.35h1.8M592.10 161.45v1.8M591.55 162.50h1.8M592.45 161.60v1.8M591.90 162.71h1.8M592.80 161.81v1.8M592.25 162.99h1.8M593.15 162.09v1.8M592.60 163.27h1.8M593.50 162.37v1.8M592.95 163.56h1.8M593.85 162.66v1.8M593.30 163.90h1.8M594.20 163.00v1.8M593.65 164.25h1.8M594.55 163.35v1.8M594.00 164.66h1.8M594.90 163.76v1.8M594.35 165.07h1.8M595.25 164.17v1.8M594.70 165.45h1.8M595.60 164.55v1.8M595.05 165.82h1.8M595.95 164.92v1.8M595.40 166.10h1.8M596.30 165.20v1.8M595.75 166.31h1.8M596.65 165.41v1.8M596.10 166.39h1.8M597.00 165.49v1.8M596.45 166.36h1.8M597.35 165.46v1.8M596.80 166.20h1.8M597.70 165.30v1.8M597.15 165.98h1.8M598.05 165.08v1.8M597.50 165.62h1.8M598.40 164.72v1.8M597.85 165.19h1.8M598.75 164.29v1.8M598.20 164.70h1.8M599.10 163.80v1.8M598.55 163.99h1.8M599.45 163.09v1.8M598.90 163.13h1.8M599.80 162.23v1.8M599.25 162.14h1.8M600.15 161.24v1.8M599.60 161.12h1.8M600.50 160.22v1.8M599.95 160.23h1.8M600.85 159.33v1.8M600.30 159.47h1.8M601.20 158.57v1.8M600.65 158.77h1.8M601.55 157.87v1.8M601.00 158.15h1.8M601.90 157.25v1.8M601.35 157.63h1.8M602.25 156.73v1.8M601.70 157.20h1.8M602.60 156.30v1.8M602.05 156.91h1.8M602.95 156.01v1.8M602.40 156.67h1.8M603.30 155.77v1.8M602.75 156.47h1.8M603.65 155.57v1.8M603.10 156.33h1.8M604.00 155.43v1.8M603.45 156.19h1.8M604.35 155.29v1.8M603.80 156.07h1.8M604.70 155.17v1.8M604.15 155.96h1.8M605.05 155.06v1.8M604.50 155.86h1.8M605.40 154.96v1.8M604.85 155.78h1.8M605.75 154.88v1.8M605.20 155.72h1.8M606.10 154.82v1.8M605.55 155.66h1.8M606.45 154.76v1.8M605.90 155.60h1.8M606.80 154.70v1.8M606.25 155.54h1.8M607.15 154.64v1.8M606.60 155.46h1.8M607.50 154.56v1.8M606.95 155.38h1.8M607.85 154.48v1.8M607.30 155.27h1.8M608.20 154.37v1.8M607.65 155.16h1.8M608.55 154.26v1.8M608.00 155.02h1.8M608.90 154.12v1.8M608.35 154.89h1.8M609.25 153.99v1.8M608.70 154.77h1.8M609.60 153.87v1.8M609.05 154.68h1.8M609.95 153.78v1.8M609.40 154.62h1.8M610.30 153.72v1.8M609.75 154.60h1.8M610.65 153.70v1.8M610.10 154.60h1.8M611.00 153.70v1.8M610.45 154.65h1.8M611.35 153.75v1.8M610.80 154.77h1.8M611.70 153.87v1.8M611.15 154.96h1.8M612.05 154.06v1.8M611.50 155.20h1.8M612.40 154.30v1.8M611.85 155.55h1.8M612.75 154.65v1.8M612.20 155.93h1.8M613.10 155.03v1.8M612.55 156.37h1.8M613.45 155.47v1.8M612.90 156.84h1.8M613.80 155.94v1.8M613.25 157.33h1.8M614.15 156.43v1.8M613.60 157.85h1.8M614.50 156.95v1.8M613.95 158.38h1.8M614.85 157.48v1.8M614.30 158.96h1.8M615.20 158.06v1.8M614.65 159.56h1.8M615.55 158.66v1.8M615.00 160.19h1.8M615.90 159.29v1.8M615.35 160.84h1.8M616.25 159.94v1.8M615.70 161.49h1.8M616.60 160.59v1.8M616.05 162.13h1.8M616.95 161.23v1.8M616.40 162.77h1.8M617.30 161.87v1.8M616.75 163.42h1.8M617.65 162.52v1.8M617.10 164.09h1.8M618.00 163.19v1.8M617.45 164.74h1.8M618.35 163.84v1.8M617.80 165.36h1.8M618.70 164.46v1.8M618.15 165.89h1.8M619.05 164.99v1.8M618.50 166.40h1.8M619.40 165.50v1.8M618.85 166.79h1.8M619.75 165.89v1.8M619.20 167.19h1.8M620.10 166.29v1.8M619.55 167.51h1.8M620.45 166.61v1.8M619.90 167.84h1.8M620.80 166.94v1.8M620.25 168.11h1.8M621.15 167.21v1.8M620.60 168.38h1.8M621.50 167.48v1.8M620.95 168.61h1.8M621.85 167.71v1.8M621.30 168.84h1.8M622.20 167.94v1.8M621.65 169.02h1.8M622.55 168.12v1.8M622.00 169.19h1.8M622.90 168.29v1.8M622.35 169.32h1.8M623.25 168.42v1.8M622.70 169.43h1.8M623.60 168.53v1.8M623.05 169.51h1.8M623.95 168.61v1.8M623.40 169.58h1.8M624.30 168.68v1.8M623.75 169.64h1.8M624.65 168.74v1.8M624.10 169.68h1.8M625.00 168.78v1.8M624.45 169.69h1.8M625.35 168.79v1.8M624.80 169.67h1.8M625.70 168.77v1.8M625.15 169.63h1.8M626.05 168.73v1.8M625.50 169.55h1.8M626.40 168.65v1.8M625.85 169.48h1.8M626.75 168.58v1.8M626.20 169.41h1.8M627.10 168.51v1.8M626.55 169.36h1.8M627.45 168.46v1.8M626.90 169.38h1.8M627.80 168.48v1.8M627.25 169.43h1.8M628.15 168.53v1.8M627.60 169.60h1.8M628.50 168.70v1.8M627.95 169.83h1.8M628.85 168.93v1.8M628.30 170.14h1.8M629.20 169.24v1.8M628.65 170.47h1.8M629.55 169.57v1.8M629.00 170.80h1.8M629.90 169.90v1.8M629.35 171.08h1.8M630.25 170.18v1.8M629.70 171.33h1.8M630.60 170.43v1.8M630.05 171.55h1.8M630.95 170.65v1.8M630.40 171.77h1.8M631.30 170.87v1.8M630.75 171.98h1.8M631.65 171.08v1.8M631.10 172.17h1.8M632.00 171.27v1.8M631.45 172.36h1.8M632.35 171.46v1.8M631.80 172.53h1.8M632.70 171.63v1.8M632.15 172.69h1.8M633.05 171.79v1.8M632.50 172.84h1.8M633.40 171.94v1.8M632.85 172.96h1.8M633.75 172.06v1.8M633.20 173.09h1.8M634.10 172.19v1.8M633.55 173.19h1.8M634.45 172.29v1.8M633.90 173.29h1.8M634.80 172.39v1.8M634.25 173.39h1.8M635.15 172.49v1.8M634.60 173.48h1.8M635.50 172.58v1.8M634.95 173.56h1.8M635.85 172.66v1.8M635.30 173.65h1.8M636.20 172.75v1.8M635.65 173.74h1.8M636.55 172.84v1.8M636.00 173.82h1.8M636.90 172.92v1.8M636.35 173.91h1.8M637.25 173.01v1.8M636.70 173.99h1.8M637.60 173.09v1.8M637.05 174.07h1.8M637.95 173.17v1.8M637.40 174.14h1.8M638.30 173.24v1.8M637.75 174.22h1.8M638.65 173.32v1.8M638.10 174.29h1.8M639.00 173.39v1.8M638.45 174.36h1.8M639.35 173.46v1.8M638.80 174.44h1.8M639.70 173.54v1.8" fill="none" stroke="#505050" stroke-width="0.5"/>
<path d="M576.00,211.50L576.41,211.42L576.99,211.32L577.66,211.14L578.30,210.80L578.94,210.28L579.62,209.61L580.27,208.83L580.80,208.00L581.18,207.04L581.45,205.96L581.67,204.90L581.90,204.00L582.14,203.22L582.36,202.50L582.58,201.98L582.80,201.80L583.02,202.03L583.24,202.59L583.46,203.36L583.70,204.20L583.94,205.21L584.19,206.41L584.46,207.58L584.80,208.50L585.23,209.17L585.74,209.69L586.25,209.99L586.70,210.00L587.07,209.69L587.40,209.11L587.70,208.29L588.00,207.30L588.29,206.08L588.58,204.64L588.84,203.07L589.10,201.50L589.34,199.90L589.58,198.22L589.79,196.56L590.00,195.00L590.19,193.56L590.37,192.21L590.54,190.92L590.70,189.70L590.85,188.53L590.98,187.41L591.12,186.39L591.30,185.50L591.51,184.75L591.75,184.12L592.01,183.60L592.30,183.20L592.60,182.88L592.92,182.65L593.28,182.57L593.70,182.70L594.20,183.10L594.77,183.72L595.35,184.46L595.90,185.20L596.39,185.93L596.86,186.71L597.33,187.53L597.80,188.40L598.30,189.32L598.80,190.29L599.30,191.29L599.80,192.30L600.28,193.33L600.75,194.38L601.22,195.44L601.70,196.50L602.21,197.62L602.75,198.79L603.26,199.88L603.70,200.80L604.01,201.43L604.24,201.85L604.48,202.25L604.80,202.80L605.24,203.62L605.76,204.59L606.32,205.54L606.90,206.30L607.48,206.79L608.07,207.11L608.73,207.35L609.50,207.60L610.44,207.86L611.50,208.10L612.61,208.34L613.70,208.60L614.76,208.91L615.83,209.26L616.89,209.60L617.90,209.90L618.88,210.16L619.83,210.39L620.74,210.60L621.60,210.80L622.45,211.01L623.28,211.21L624.00,211.38L624.50,211.50Z" fill="#8bd8fb" stroke="none"/>
<path d="M576.00,211.50L576.41,211.42L576.99,211.32L577.66,211.14L578.30,210.80L578.94,210.28L579.62,209.61L580.27,208.83L580.80,208.00L581.18,207.04L581.45,205.96L581.67,204.90L581.90,204.00L582.14,203.22L582.36,202.50L582.58,201.98L582.80,201.80L583.02,202.03L583.24,202.59L583.46,203.36L583.70,204.20L583.94,205.21L584.19,206.41L584.46,207.58L584.80,208.50L585.23,209.17L585.74,209.69L586.25,209.99L586.70,210.00L587.07,209.69L587.40,209.11L587.70,208.29L588.00,207.30L588.29,206.08L588.58,204.64L588.84,203.07L589.10,201.50L589.34,199.90L589.58,198.22L589.79,196.56L590.00,195.00L590.19,193.56L590.37,192.21L590.54,190.92L590.70,189.70L590.85,188.53L590.98,187.41L591.12,186.39L591.30,185.50L591.51,184.75L591.75,184.12L592.01,183.60L592.30,183.20L592.60,182.88L592.92,182.65L593.28,182.57L593.70,182.70L594.20,183.10L594.77,183.72L595.35,184.46L595.90,185.20L596.39,185.93L596.86,186.71L597.33,187.53L597.80,188.40L598.30,189.32L598.80,190.29L599.30,191.29L599.80,192.30L600.28,193.33L600.75,194.38L601.22,195.44L601.70,196.50L602.21,197.62L602.75,198.79L603.26,199.88L603.70,200.80L604.01,201.43L604.24,201.85L604.48,202.25L604.80,202.80L605.24,203.62L605.76,204.59L606.32,205.54L606.90,206.30L607.48,206.79L608.07,207.11L608.73,207.35L609.50,207.60L610.44,207.86L611.50,208.10L612.61,208.34L613.70,208.60L614.76,208.91L615.83,209.26L616.89,209.60L617.90,209.90L618.88,210.16L619.83,210.39L620.74,210.60L621.60,210.80L622.45,211.01L623.28,211.21L624.00,211.38L624.50,211.50" fill="none" stroke="#555" stroke-width="0.60"/>
<path d="M575.10 211.50h1.8M576.00 210.60v1.8M575.45 211.43h1.8M576.35 210.53v1.8M575.80 211.37h1.8M576.70 210.47v1.8M576.15 211.31h1.8M577.05 210.41v1.8M576.50 211.21h1.8M577.40 210.31v1.8M576.85 211.09h1.8M577.75 210.19v1.8M577.20 210.91h1.8M578.10 210.01v1.8M577.55 210.68h1.8M578.45 209.78v1.8M577.90 210.39h1.8M578.80 209.49v1.8M578.25 210.07h1.8M579.15 209.17v1.8M578.60 209.73h1.8M579.50 208.83v1.8M578.95 209.34h1.8M579.85 208.44v1.8M579.30 208.92h1.8M580.20 208.02v1.8M579.65 208.39h1.8M580.55 207.49v1.8M580.00 207.75h1.8M580.90 206.85v1.8M580.35 206.76h1.8M581.25 205.86v1.8M580.70 205.25h1.8M581.60 204.35v1.8M581.05 203.84h1.8M581.95 202.94v1.8M581.40 202.70h1.8M582.30 201.80v1.8M581.75 201.93h1.8M582.65 201.03v1.8M582.10 202.01h1.8M583.00 201.11v1.8M582.45 202.98h1.8M583.35 202.08v1.8M582.80 204.20h1.8M583.70 203.30v1.8M583.15 205.73h1.8M584.05 204.83v1.8M583.50 207.31h1.8M584.40 206.41v1.8M583.85 208.36h1.8M584.75 207.46v1.8M584.20 208.96h1.8M585.10 208.06v1.8M584.55 209.39h1.8M585.45 208.49v1.8M584.90 209.72h1.8M585.80 208.82v1.8M585.25 209.93h1.8M586.15 209.03v1.8M585.60 209.99h1.8M586.50 209.09v1.8M585.95 209.88h1.8M586.85 208.98v1.8M586.30 209.46h1.8M587.20 208.56v1.8M586.65 208.70h1.8M587.55 207.80v1.8M587.00 207.63h1.8M587.90 206.73v1.8M587.35 206.27h1.8M588.25 205.37v1.8M587.70 204.49h1.8M588.60 203.59v1.8M588.05 202.42h1.8M588.95 201.52v1.8M588.40 200.18h1.8M589.30 199.28v1.8M588.75 197.65h1.8M589.65 196.75v1.8M589.10 195.00h1.8M590.00 194.10v1.8M589.45 192.35h1.8M590.35 191.45v1.8M589.80 189.70h1.8M590.70 188.80v1.8M590.15 186.92h1.8M591.05 186.02v1.8M590.50 185.15h1.8M591.40 184.25v1.8M590.85 184.12h1.8M591.75 183.22v1.8M591.20 183.48h1.8M592.10 182.58v1.8M591.55 183.04h1.8M592.45 182.14v1.8M591.90 182.74h1.8M592.80 181.84v1.8M592.25 182.60h1.8M593.15 181.70v1.8M592.60 182.64h1.8M593.50 181.74v1.8M592.95 182.82h1.8M593.85 181.92v1.8M593.30 183.10h1.8M594.20 182.20v1.8M593.65 183.48h1.8M594.55 182.58v1.8M594.00 183.88h1.8M594.90 182.98v1.8M594.35 184.33h1.8M595.25 183.43v1.8M594.70 184.79h1.8M595.60 183.89v1.8M595.05 185.27h1.8M595.95 184.37v1.8M595.40 185.79h1.8M596.30 184.89v1.8M595.75 186.36h1.8M596.65 185.46v1.8M596.10 186.96h1.8M597.00 186.06v1.8M596.45 187.58h1.8M597.35 186.68v1.8M596.80 188.22h1.8M597.70 187.32v1.8M597.15 188.86h1.8M598.05 187.96v1.8M597.50 189.52h1.8M598.40 188.62v1.8M597.85 190.19h1.8M598.75 189.29v1.8M598.20 190.88h1.8M599.10 189.98v1.8M598.55 191.58h1.8M599.45 190.68v1.8M598.90 192.30h1.8M599.80 191.40v1.8M599.25 193.05h1.8M600.15 192.15v1.8M599.60 193.82h1.8M600.50 192.92v1.8M599.95 194.60h1.8M600.85 193.70v1.8M600.30 195.39h1.8M601.20 194.49v1.8M600.65 196.17h1.8M601.55 195.27v1.8M601.00 196.94h1.8M601.90 196.04v1.8M601.35 197.70h1.8M602.25 196.80v1.8M601.70 198.46h1.8M602.60 197.56v1.8M602.05 199.22h1.8M602.95 198.32v1.8M602.40 199.97h1.8M603.30 199.07v1.8M602.75 200.70h1.8M603.65 199.80v1.8M603.10 201.40h1.8M604.00 200.50v1.8M603.45 202.03h1.8M604.35 201.13v1.8M603.80 202.63h1.8M604.70 201.73v1.8M604.15 203.26h1.8M605.05 202.36v1.8M604.50 203.92h1.8M605.40 203.02v1.8M604.85 204.58h1.8M605.75 203.68v1.8M605.20 205.18h1.8M606.10 204.28v1.8M605.55 205.72h1.8M606.45 204.82v1.8M605.90 206.17h1.8M606.80 205.27v1.8M606.25 206.51h1.8M607.15 205.61v1.8M606.60 206.80h1.8M607.50 205.90v1.8M606.95 206.99h1.8M607.85 206.09v1.8M607.30 207.15h1.8M608.20 206.25v1.8M607.65 207.28h1.8M608.55 206.38v1.8M608.00 207.40h1.8M608.90 206.50v1.8M608.35 207.52h1.8M609.25 206.62v1.8M608.70 207.63h1.8M609.60 206.73v1.8M609.05 207.73h1.8M609.95 206.83v1.8M609.40 207.83h1.8M610.30 206.93v1.8M609.75 207.91h1.8M610.65 207.01v1.8M610.10 207.99h1.8M611.00 207.09v1.8M610.45 208.07h1.8M611.35 207.17v1.8M610.80 208.14h1.8M611.70 207.24v1.8M611.15 208.22h1.8M612.05 207.32v1.8M611.50 208.29h1.8M612.40 207.39v1.8M611.85 208.37h1.8M612.75 207.47v1.8M612.20 208.45h1.8M613.10 207.55v1.8M612.55 208.54h1.8M613.45 207.64v1.8M612.90 208.63h1.8M613.80 207.73v1.8M613.25 208.73h1.8M614.15 207.83v1.8M613.60 208.84h1.8M614.50 207.94v1.8M613.95 208.94h1.8M614.85 208.04v1.8M614.30 209.05h1.8M615.20 208.15v1.8M614.65 209.17h1.8M615.55 208.27v1.8M615.00 209.28h1.8M615.90 208.38v1.8M615.35 209.39h1.8M616.25 208.49v1.8M615.70 209.50h1.8M616.60 208.60v1.8M616.05 209.62h1.8M616.95 208.72v1.8M616.40 209.72h1.8M617.30 208.82v1.8M616.75 209.83h1.8M617.65 208.93v1.8M617.10 209.93h1.8M618.00 209.03v1.8M617.45 210.02h1.8M618.35 209.12v1.8M617.80 210.11h1.8M618.70 209.21v1.8M618.15 210.20h1.8M619.05 209.30v1.8M618.50 210.28h1.8M619.40 209.38v1.8M618.85 210.37h1.8M619.75 209.47v1.8M619.20 210.45h1.8M620.10 209.55v1.8M619.55 210.53h1.8M620.45 209.63v1.8M619.90 210.61h1.8M620.80 209.71v1.8M620.25 210.69h1.8M621.15 209.79v1.8M620.60 210.78h1.8M621.50 209.88v1.8M620.95 210.86h1.8M621.85 209.96v1.8M621.30 210.95h1.8M622.20 210.05v1.8M621.65 211.03h1.8M622.55 210.13v1.8M622.00 211.11h1.8M622.90 210.21v1.8M622.35 211.20h1.8M623.25 210.30v1.8M622.70 211.28h1.8M623.60 210.38v1.8M623.05 211.37h1.8M623.95 210.47v1.8M623.40 211.45h1.8M624.30 210.55v1.8" fill="none" stroke="#505050" stroke-width="0.5"/>
<path d="M583.00,248.50L583.43,248.43L584.04,248.33L584.73,248.17L585.40,247.90L586.07,247.49L586.78,246.97L587.45,246.39L588.00,245.80L588.39,245.16L588.67,244.46L588.89,243.81L589.10,243.30L589.30,242.94L589.46,242.68L589.61,242.55L589.80,242.60L590.02,242.87L590.26,243.34L590.51,243.91L590.80,244.50L591.10,245.20L591.42,246.03L591.78,246.76L592.20,247.20L592.71,247.32L593.30,247.22L593.89,246.88L594.40,246.30L594.82,245.42L595.18,244.28L595.50,242.94L595.80,241.50L596.06,239.92L596.29,238.18L596.50,236.37L596.70,234.60L596.89,232.85L597.06,231.07L597.22,229.36L597.40,227.80L597.59,226.36L597.78,225.03L597.98,223.85L598.20,222.90L598.43,222.20L598.66,221.70L598.92,221.40L599.20,221.30L599.51,221.47L599.85,221.89L600.21,222.39L600.60,222.80L601.01,223.08L601.44,223.31L601.91,223.52L602.40,223.70L602.96,223.86L603.57,223.99L604.17,224.10L604.70,224.20L605.13,224.26L605.51,224.29L605.85,224.35L606.20,224.50L606.56,224.74L606.91,225.04L607.26,225.44L607.60,226.00L607.92,226.80L608.24,227.79L608.56,228.81L608.90,229.70L609.28,230.42L609.68,231.05L610.09,231.61L610.50,232.10L610.90,232.46L611.31,232.71L611.71,232.97L612.10,233.40L612.47,234.05L612.82,234.84L613.16,235.69L613.50,236.50L613.83,237.25L614.16,238.00L614.48,238.75L614.80,239.50L615.09,240.29L615.37,241.10L615.66,241.89L616.00,242.60L616.39,243.22L616.82,243.79L617.29,244.31L617.80,244.80L618.38,245.28L619.01,245.73L619.66,246.14L620.30,246.50L620.92,246.80L621.54,247.04L622.16,247.27L622.80,247.50L623.52,247.77L624.31,248.06L625.01,248.32L625.50,248.50Z" fill="#6877fd" stroke="none"/>
<path d="M583.00,248.50L583.43,248.43L584.04,248.33L584.73,248.17L585.40,247.90L586.07,247.49L586.78,246.97L587.45,246.39L588.00,245.80L588.39,245.16L588.67,244.46L588.89,243.81L589.10,243.30L589.30,242.94L589.46,242.68L589.61,242.55L589.80,242.60L590.02,242.87L590.26,243.34L590.51,243.91L590.80,244.50L591.10,245.20L591.42,246.03L591.78,246.76L592.20,247.20L592.71,247.32L593.30,247.22L593.89,246.88L594.40,246.30L594.82,245.42L595.18,244.28L595.50,242.94L595.80,241.50L596.06,239.92L596.29,238.18L596.50,236.37L596.70,234.60L596.89,232.85L597.06,231.07L597.22,229.36L597.40,227.80L597.59,226.36L597.78,225.03L597.98,223.85L598.20,222.90L598.43,222.20L598.66,221.70L598.92,221.40L599.20,221.30L599.51,221.47L599.85,221.89L600.21,222.39L600.60,222.80L601.01,223.08L601.44,223.31L601.91,223.52L602.40,223.70L602.96,223.86L603.57,223.99L604.17,224.10L604.70,224.20L605.13,224.26L605.51,224.29L605.85,224.35L606.20,224.50L606.56,224.74L606.91,225.04L607.26,225.44L607.60,226.00L607.92,226.80L608.24,227.79L608.56,228.81L608.90,229.70L609.28,230.42L609.68,231.05L610.09,231.61L610.50,232.10L610.90,232.46L611.31,232.71L611.71,232.97L612.10,233.40L612.47,234.05L612.82,234.84L613.16,235.69L613.50,236.50L613.83,237.25L614.16,238.00L614.48,238.75L614.80,239.50L615.09,240.29L615.37,241.10L615.66,241.89L616.00,242.60L616.39,243.22L616.82,243.79L617.29,244.31L617.80,244.80L618.38,245.28L619.01,245.73L619.66,246.14L620.30,246.50L620.92,246.80L621.54,247.04L622.16,247.27L622.80,247.50L623.52,247.77L624.31,248.06L625.01,248.32L625.50,248.50" fill="none" stroke="#555" stroke-width="0.60"/>
<path d="M582.10 248.50h1.8M583.00 247.60v1.8M582.45 248.44h1.8M583.35 247.54v1.8M582.80 248.38h1.8M583.70 247.48v1.8M583.15 248.33h1.8M584.05 247.43v1.8M583.50 248.25h1.8M584.40 247.35v1.8M583.85 248.16h1.8M584.75 247.26v1.8M584.20 248.02h1.8M585.10 247.12v1.8M584.55 247.87h1.8M585.45 246.97v1.8M584.90 247.66h1.8M585.80 246.76v1.8M585.25 247.43h1.8M586.15 246.53v1.8M585.60 247.18h1.8M586.50 246.28v1.8M585.95 246.91h1.8M586.85 246.01v1.8M586.30 246.61h1.8M587.20 245.71v1.8M586.65 246.28h1.8M587.55 245.38v1.8M587.00 245.91h1.8M587.90 245.01v1.8M587.35 245.39h1.8M588.25 244.49v1.8M587.70 244.63h1.8M588.60 243.73v1.8M588.05 243.66h1.8M588.95 242.76v1.8M588.40 242.93h1.8M589.30 242.03v1.8M588.75 242.56h1.8M589.65 241.66v1.8M589.10 242.85h1.8M590.00 241.95v1.8M589.45 243.54h1.8M590.35 242.64v1.8M589.80 244.29h1.8M590.70 243.39v1.8M590.15 245.08h1.8M591.05 244.18v1.8M590.50 245.96h1.8M591.40 245.06v1.8M590.85 246.69h1.8M591.75 245.79v1.8M591.20 247.09h1.8M592.10 246.19v1.8M591.55 247.26h1.8M592.45 246.36v1.8M591.90 247.30h1.8M592.80 246.40v1.8M592.25 247.24h1.8M593.15 246.34v1.8M592.60 247.10h1.8M593.50 246.20v1.8M592.95 246.90h1.8M593.85 246.00v1.8M593.30 246.53h1.8M594.20 245.63v1.8M593.65 245.99h1.8M594.55 245.09v1.8M594.00 245.16h1.8M594.90 244.26v1.8M594.35 243.99h1.8M595.25 243.09v1.8M594.70 242.47h1.8M595.60 241.57v1.8M595.05 240.61h1.8M595.95 239.71v1.8M595.40 238.12h1.8M596.30 237.22v1.8M595.75 235.04h1.8M596.65 234.14v1.8M596.10 231.66h1.8M597.00 230.76v1.8M596.45 228.24h1.8M597.35 227.34v1.8M596.80 225.59h1.8M597.70 224.69v1.8M597.15 223.56h1.8M598.05 222.66v1.8M597.50 222.28h1.8M598.40 221.38v1.8M597.85 221.60h1.8M598.75 220.70v1.8M598.20 221.34h1.8M599.10 220.44v1.8M598.55 221.44h1.8M599.45 220.54v1.8M598.90 221.83h1.8M599.80 220.93v1.8M599.25 222.31h1.8M600.15 221.41v1.8M599.60 222.70h1.8M600.50 221.80v1.8M599.95 222.97h1.8M600.85 222.07v1.8M600.30 223.18h1.8M601.20 222.28v1.8M600.65 223.36h1.8M601.55 222.46v1.8M601.00 223.51h1.8M601.90 222.61v1.8M601.35 223.64h1.8M602.25 222.74v1.8M601.70 223.76h1.8M602.60 222.86v1.8M602.05 223.86h1.8M602.95 222.96v1.8M602.40 223.93h1.8M603.30 223.03v1.8M602.75 224.00h1.8M603.65 223.10v1.8M603.10 224.07h1.8M604.00 223.17v1.8M603.45 224.13h1.8M604.35 223.23v1.8M603.80 224.20h1.8M604.70 223.30v1.8M604.15 224.25h1.8M605.05 223.35v1.8M604.50 224.28h1.8M605.40 223.38v1.8M604.85 224.33h1.8M605.75 223.43v1.8M605.20 224.46h1.8M606.10 223.56v1.8M605.55 224.67h1.8M606.45 223.77v1.8M605.90 224.94h1.8M606.80 224.04v1.8M606.25 225.31h1.8M607.15 224.41v1.8M606.60 225.84h1.8M607.50 224.94v1.8M606.95 226.62h1.8M607.85 225.72v1.8M607.30 227.67h1.8M608.20 226.77v1.8M607.65 228.79h1.8M608.55 227.89v1.8M608.00 229.70h1.8M608.90 228.80v1.8M608.35 230.36h1.8M609.25 229.46v1.8M608.70 230.92h1.8M609.60 230.02v1.8M609.05 231.41h1.8M609.95 230.51v1.8M609.40 231.86h1.8M610.30 230.96v1.8M609.75 232.23h1.8M610.65 231.33v1.8M610.10 232.52h1.8M611.00 231.62v1.8M610.45 232.73h1.8M611.35 231.83v1.8M610.80 232.96h1.8M611.70 232.06v1.8M611.15 233.34h1.8M612.05 232.44v1.8M611.50 233.93h1.8M612.40 233.03v1.8M611.85 234.69h1.8M612.75 233.79v1.8M612.20 235.54h1.8M613.10 234.64v1.8M612.55 236.38h1.8M613.45 235.48v1.8M612.90 237.18h1.8M613.80 236.28v1.8M613.25 237.97h1.8M614.15 237.07v1.8M613.60 238.78h1.8M614.50 237.88v1.8M613.95 239.63h1.8M614.85 238.73v1.8M614.30 240.60h1.8M615.20 239.70v1.8M614.65 241.59h1.8M615.55 240.69v1.8M615.00 242.39h1.8M615.90 241.49v1.8M615.35 243.00h1.8M616.25 242.10v1.8M615.70 243.50h1.8M616.60 242.60v1.8M616.05 243.93h1.8M616.95 243.03v1.8M616.40 244.32h1.8M617.30 243.42v1.8M616.75 244.66h1.8M617.65 243.76v1.8M617.10 244.97h1.8M618.00 244.07v1.8M617.45 245.26h1.8M618.35 244.36v1.8M617.80 245.51h1.8M618.70 244.61v1.8M618.15 245.75h1.8M619.05 244.85v1.8M618.50 245.97h1.8M619.40 245.07v1.8M618.85 246.19h1.8M619.75 245.29v1.8M619.20 246.39h1.8M620.10 245.49v1.8M619.55 246.57h1.8M620.45 245.67v1.8M619.90 246.74h1.8M620.80 245.84v1.8M620.25 246.89h1.8M621.15 245.99v1.8M620.60 247.03h1.8M621.50 246.13v1.8M620.95 247.16h1.8M621.85 246.26v1.8M621.30 247.28h1.8M622.20 246.38v1.8M621.65 247.41h1.8M622.55 246.51v1.8M622.00 247.54h1.8M622.90 246.64v1.8M622.35 247.67h1.8M623.25 246.77v1.8M622.70 247.80h1.8M623.60 246.90v1.8M623.05 247.93h1.8M623.95 247.03v1.8M623.40 248.06h1.8M624.30 247.16v1.8M623.75 248.19h1.8M624.65 247.29v1.8M624.10 248.32h1.8M625.00 247.42v1.8M624.45 248.44h1.8M625.35 247.54v1.8" fill="none" stroke="#505050" stroke-width="0.5"/>
<polygon points="582.80,195.00 583.45,196.71 585.27,196.80 583.85,197.94 584.33,199.70 582.80,198.70 581.27,199.70 581.75,197.94 580.33,196.80 582.15,196.71" fill="#f01010"/>
<polygon points="589.60,236.20 590.25,237.91 592.07,238.00 590.65,239.14 591.13,240.90 589.60,239.90 588.07,240.90 588.55,239.14 587.13,238.00 588.95,237.91" fill="#f01010"/>
<line x1="19.5" y1="252.5" x2="165.5" y2="252.5" stroke="#606060" stroke-width="1"/>
<line x1="19.5" y1="253.0" x2="19.5" y2="250.0" stroke="#606060" stroke-width="1"/>
<text transform="translate(19.80,260.8) scale(0.86,1)" text-anchor="middle" font-size="7" fill="#1a1a1a" stroke="#1a1a1a" stroke-width="0.18">1000</text>
<line x1="92.5" y1="253.0" x2="92.5" y2="250.0" stroke="#606060" stroke-width="1"/>
<text transform="translate(92.50,260.8) scale(0.86,1)" text-anchor="middle" font-size="7" fill="#1a1a1a" stroke="#1a1a1a" stroke-width="0.18">2000</text>
<line x1="165.5" y1="253.0" x2="165.5" y2="250.0" stroke="#606060" stroke-width="1"/>
<text transform="translate(165.00,260.8) scale(0.86,1)" text-anchor="middle" font-size="7" fill="#1a1a1a" stroke="#1a1a1a" stroke-width="0.18">3000</text>
<line x1="56.0" y1="253.0" x2="56.0" y2="251.0" stroke="#606060" stroke-width="1"/>
<line x1="129.0" y1="253.0" x2="129.0" y2="251.0" stroke="#606060" stroke-width="1"/>
<text x="67.8" y="267.6" font-size="6.3" textLength="7.1" lengthAdjust="spacingAndGlyphs" fill="#111" stroke="#111" stroke-width="0.2">DT</text>
<text x="75.6" y="271" font-size="10.3" textLength="19.7" lengthAdjust="spacingAndGlyphs" fill="#111" stroke="#111" stroke-width="0.2">CCS</text>
<text x="95.7" y="267.6" font-size="6.3" textLength="6.3" lengthAdjust="spacingAndGlyphs" fill="#111" stroke="#111" stroke-width="0.2">Tk</text>
<text x="95.3" y="273.9" font-size="6.6" textLength="8.1" lengthAdjust="spacingAndGlyphs" fill="#111" stroke="#111" stroke-width="0.2">He</text>
<text x="103.5" y="271" font-size="10.3" textLength="9.6" lengthAdjust="spacingAndGlyphs" fill="#111" stroke="#111" stroke-width="0.2">/Å</text>
<text x="113.2" y="268" font-size="5.5" fill="#111" stroke="#111" stroke-width="0.2">2</text>
<line x1="190.5" y1="252.5" x2="336.5" y2="252.5" stroke="#606060" stroke-width="1"/>
<line x1="190.5" y1="253.0" x2="190.5" y2="250.0" stroke="#606060" stroke-width="1"/>
<text transform="translate(190.90,260.8) scale(0.86,1)" text-anchor="middle" font-size="7" fill="#1a1a1a" stroke="#1a1a1a" stroke-width="0.18">1000</text>
<line x1="239.2" y1="253.0" x2="239.2" y2="250.0" stroke="#606060" stroke-width="1"/>
<text transform="translate(239.50,260.8) scale(0.86,1)" text-anchor="middle" font-size="7" fill="#1a1a1a" stroke="#1a1a1a" stroke-width="0.18">2000</text>
<line x1="287.8" y1="253.0" x2="287.8" y2="250.0" stroke="#606060" stroke-width="1"/>
<text transform="translate(287.50,260.8) scale(0.86,1)" text-anchor="middle" font-size="7" fill="#1a1a1a" stroke="#1a1a1a" stroke-width="0.18">3000</text>
<line x1="336.5" y1="253.0" x2="336.5" y2="250.0" stroke="#606060" stroke-width="1"/>
<text transform="translate(335.80,260.8) scale(0.86,1)" text-anchor="middle" font-size="7" fill="#1a1a1a" stroke="#1a1a1a" stroke-width="0.18">4000</text>
<line x1="214.8" y1="253.0" x2="214.8" y2="251.0" stroke="#606060" stroke-width="1"/>
<line x1="263.5" y1="253.0" x2="263.5" y2="251.0" stroke="#606060" stroke-width="1"/>
<line x1="312.2" y1="253.0" x2="312.2" y2="251.0" stroke="#606060" stroke-width="1"/>
<text x="238.8" y="267.6" font-size="6.3" textLength="7.1" lengthAdjust="spacingAndGlyphs" fill="#111" stroke="#111" stroke-width="0.2">DT</text>
<text x="246.6" y="271" font-size="10.3" textLength="19.7" lengthAdjust="spacingAndGlyphs" fill="#111" stroke="#111" stroke-width="0.2">CCS</text>
<text x="266.7" y="267.6" font-size="6.3" textLength="6.3" lengthAdjust="spacingAndGlyphs" fill="#111" stroke="#111" stroke-width="0.2">Tk</text>
<text x="266.3" y="273.9" font-size="6.6" textLength="8.1" lengthAdjust="spacingAndGlyphs" fill="#111" stroke="#111" stroke-width="0.2">He</text>
<text x="274.5" y="271" font-size="10.3" textLength="9.6" lengthAdjust="spacingAndGlyphs" fill="#111" stroke="#111" stroke-width="0.2">/Å</text>
<text x="284.2" y="268" font-size="5.5" fill="#111" stroke="#111" stroke-width="0.2">2</text>
<line x1="363.5" y1="252.5" x2="508.5" y2="252.5" stroke="#606060" stroke-width="1"/>
<line x1="363.5" y1="253.0" x2="363.5" y2="250.0" stroke="#606060" stroke-width="1"/>
<text transform="translate(363.00,260.8) scale(0.86,1)" text-anchor="middle" font-size="7" fill="#1a1a1a" stroke="#1a1a1a" stroke-width="0.18">1000</text>
<line x1="411.8" y1="253.0" x2="411.8" y2="250.0" stroke="#606060" stroke-width="1"/>
<text transform="translate(411.10,260.8) scale(0.86,1)" text-anchor="middle" font-size="7" fill="#1a1a1a" stroke="#1a1a1a" stroke-width="0.18">2000</text>
<line x1="460.2" y1="253.0" x2="460.2" y2="250.0" stroke="#606060" stroke-width="1"/>
<text transform="translate(459.70,260.8) scale(0.86,1)" text-anchor="middle" font-size="7" fill="#1a1a1a" stroke="#1a1a1a" stroke-width="0.18">3000</text>
<line x1="508.5" y1="253.0" x2="508.5" y2="250.0" stroke="#606060" stroke-width="1"/>
<text transform="translate(508.20,260.8) scale(0.86,1)" text-anchor="middle" font-size="7" fill="#1a1a1a" stroke="#1a1a1a" stroke-width="0.18">4000</text>
<line x1="387.7" y1="253.0" x2="387.7" y2="251.0" stroke="#606060" stroke-width="1"/>
<line x1="436.0" y1="253.0" x2="436.0" y2="251.0" stroke="#606060" stroke-width="1"/>
<line x1="484.3" y1="253.0" x2="484.3" y2="251.0" stroke="#606060" stroke-width="1"/>
<text x="411.3" y="267.6" font-size="6.3" textLength="7.1" lengthAdjust="spacingAndGlyphs" fill="#111" stroke="#111" stroke-width="0.2">DT</text>
<text x="419.1" y="271" font-size="10.3" textLength="19.7" lengthAdjust="spacingAndGlyphs" fill="#111" stroke="#111" stroke-width="0.2">CCS</text>
<text x="439.2" y="267.6" font-size="6.3" textLength="6.3" lengthAdjust="spacingAndGlyphs" fill="#111" stroke="#111" stroke-width="0.2">Tk</text>
<text x="438.8" y="273.9" font-size="6.6" textLength="8.1" lengthAdjust="spacingAndGlyphs" fill="#111" stroke="#111" stroke-width="0.2">He</text>
<text x="447.0" y="271" font-size="10.3" textLength="9.6" lengthAdjust="spacingAndGlyphs" fill="#111" stroke="#111" stroke-width="0.2">/Å</text>
<text x="456.7" y="268" font-size="5.5" fill="#111" stroke="#111" stroke-width="0.2">2</text>
<line x1="530.5" y1="252.5" x2="675.5" y2="252.5" stroke="#606060" stroke-width="1"/>
<line x1="530.5" y1="253.0" x2="530.5" y2="250.0" stroke="#606060" stroke-width="1"/>
<text transform="translate(530.60,260.8) scale(0.86,1)" text-anchor="middle" font-size="7" fill="#1a1a1a" stroke="#1a1a1a" stroke-width="0.18">0</text>
<line x1="566.8" y1="253.0" x2="566.8" y2="250.0" stroke="#606060" stroke-width="1"/>
<text transform="translate(566.90,260.8) scale(0.86,1)" text-anchor="middle" font-size="7" fill="#1a1a1a" stroke="#1a1a1a" stroke-width="0.18">1000</text>
<line x1="603.0" y1="253.0" x2="603.0" y2="250.0" stroke="#606060" stroke-width="1"/>
<text transform="translate(603.10,260.8) scale(0.86,1)" text-anchor="middle" font-size="7" fill="#1a1a1a" stroke="#1a1a1a" stroke-width="0.18">2000</text>
<line x1="639.2" y1="253.0" x2="639.2" y2="250.0" stroke="#606060" stroke-width="1"/>
<text transform="translate(639.70,260.8) scale(0.86,1)" text-anchor="middle" font-size="7" fill="#1a1a1a" stroke="#1a1a1a" stroke-width="0.18">3000</text>
<line x1="675.5" y1="253.0" x2="675.5" y2="250.0" stroke="#606060" stroke-width="1"/>
<text transform="translate(676.30,260.8) scale(0.86,1)" text-anchor="middle" font-size="7" fill="#1a1a1a" stroke="#1a1a1a" stroke-width="0.18">4000</text>
<line x1="548.6" y1="253.0" x2="548.6" y2="251.0" stroke="#606060" stroke-width="1"/>
<line x1="584.9" y1="253.0" x2="584.9" y2="251.0" stroke="#606060" stroke-width="1"/>
<line x1="621.1" y1="253.0" x2="621.1" y2="251.0" stroke="#606060" stroke-width="1"/>
<line x1="657.4" y1="253.0" x2="657.4" y2="251.0" stroke="#606060" stroke-width="1"/>
<text x="578.3" y="267.6" font-size="6.3" textLength="7.1" lengthAdjust="spacingAndGlyphs" fill="#111" stroke="#111" stroke-width="0.2">DT</text>
<text x="586.1" y="271" font-size="10.3" textLength="19.7" lengthAdjust="spacingAndGlyphs" fill="#111" stroke="#111" stroke-width="0.2">CCS</text>
<text x="606.2" y="267.6" font-size="6.3" textLength="6.3" lengthAdjust="spacingAndGlyphs" fill="#111" stroke="#111" stroke-width="0.2">Tk</text>
<text x="605.8" y="273.9" font-size="6.6" textLength="8.1" lengthAdjust="spacingAndGlyphs" fill="#111" stroke="#111" stroke-width="0.2">He</text>
<text x="614.0" y="271" font-size="10.3" textLength="9.6" lengthAdjust="spacingAndGlyphs" fill="#111" stroke="#111" stroke-width="0.2">/Å</text>
<text x="623.7" y="268" font-size="5.5" fill="#111" stroke="#111" stroke-width="0.2">2</text>
<text transform="translate(11.0,32.5) rotate(-90)" x="-21.8" y="0" font-size="10" textLength="21.8" lengthAdjust="spacingAndGlyphs" fill="#111" stroke="#111" stroke-width="0.25">350K</text>
<text transform="translate(11.9,69.5) rotate(-90)" x="-21.8" y="0" font-size="10" textLength="21.8" lengthAdjust="spacingAndGlyphs" fill="#111" stroke="#111" stroke-width="0.25">295K</text>
<text transform="translate(11.9,106.5) rotate(-90)" x="-21.8" y="0" font-size="10" textLength="21.8" lengthAdjust="spacingAndGlyphs" fill="#111" stroke="#111" stroke-width="0.25">275K</text>
<text transform="translate(11.9,143.5) rotate(-90)" x="-21.8" y="0" font-size="10" textLength="21.8" lengthAdjust="spacingAndGlyphs" fill="#111" stroke="#111" stroke-width="0.25">250K</text>
<text transform="translate(11.9,180.5) rotate(-90)" x="-21.8" y="0" font-size="10" textLength="21.8" lengthAdjust="spacingAndGlyphs" fill="#111" stroke="#111" stroke-width="0.25">210K</text>
<text transform="translate(11.9,217.5) rotate(-90)" x="-31.4" y="0" font-size="10" textLength="31.4" lengthAdjust="spacingAndGlyphs" fill="#111" stroke="#111" stroke-width="0.25">T=190K</text>
<text transform="translate(182.8,37.5) rotate(-90)" x="-21.8" y="0" font-size="10" textLength="21.8" lengthAdjust="spacingAndGlyphs" fill="#111" stroke="#111" stroke-width="0.25">350K</text>
<text transform="translate(182.8,69.5) rotate(-90)" x="-21.8" y="0" font-size="10" textLength="21.8" lengthAdjust="spacingAndGlyphs" fill="#111" stroke="#111" stroke-width="0.25">295K</text>
<text transform="translate(182.8,106.5) rotate(-90)" x="-21.8" y="0" font-size="10" textLength="21.8" lengthAdjust="spacingAndGlyphs" fill="#111" stroke="#111" stroke-width="0.25">275K</text>
<text transform="translate(182.8,143.5) rotate(-90)" x="-21.8" y="0" font-size="10" textLength="21.8" lengthAdjust="spacingAndGlyphs" fill="#111" stroke="#111" stroke-width="0.25">250K</text>
<text transform="translate(182.8,180.5) rotate(-90)" x="-21.8" y="0" font-size="10" textLength="21.8" lengthAdjust="spacingAndGlyphs" fill="#111" stroke="#111" stroke-width="0.25">210K</text>
<text transform="translate(182.8,217.5) rotate(-90)" x="-31.4" y="0" font-size="10" textLength="31.4" lengthAdjust="spacingAndGlyphs" fill="#111" stroke="#111" stroke-width="0.25">T=190K</text>
<text transform="translate(354.8,37.5) rotate(-90)" x="-21.8" y="0" font-size="10" textLength="21.8" lengthAdjust="spacingAndGlyphs" fill="#111" stroke="#111" stroke-width="0.25">350K</text>
<text transform="translate(354.8,69.5) rotate(-90)" x="-21.8" y="0" font-size="10" textLength="21.8" lengthAdjust="spacingAndGlyphs" fill="#111" stroke="#111" stroke-width="0.25">295K</text>
<text transform="translate(354.8,106.5) rotate(-90)" x="-21.8" y="0" font-size="10" textLength="21.8" lengthAdjust="spacingAndGlyphs" fill="#111" stroke="#111" stroke-width="0.25">275K</text>
<text transform="translate(354.8,143.5) rotate(-90)" x="-21.8" y="0" font-size="10" textLength="21.8" lengthAdjust="spacingAndGlyphs" fill="#111" stroke="#111" stroke-width="0.25">250K</text>
<text transform="translate(354.8,180.5) rotate(-90)" x="-21.8" y="0" font-size="10" textLength="21.8" lengthAdjust="spacingAndGlyphs" fill="#111" stroke="#111" stroke-width="0.25">210K</text>
<text transform="translate(354.8,217.5) rotate(-90)" x="-31.4" y="0" font-size="10" textLength="31.4" lengthAdjust="spacingAndGlyphs" fill="#111" stroke="#111" stroke-width="0.25">T=190K</text>
<text transform="translate(523.4,37.5) rotate(-90)" x="-21.8" y="0" font-size="10" textLength="21.8" lengthAdjust="spacingAndGlyphs" fill="#111" stroke="#111" stroke-width="0.25">350K</text>
<text transform="translate(523.4,69.5) rotate(-90)" x="-21.8" y="0" font-size="10" textLength="21.8" lengthAdjust="spacingAndGlyphs" fill="#111" stroke="#111" stroke-width="0.25">295K</text>
<text transform="translate(523.4,106.5) rotate(-90)" x="-21.8" y="0" font-size="10" textLength="21.8" lengthAdjust="spacingAndGlyphs" fill="#111" stroke="#111" stroke-width="0.25">275K</text>
<text transform="translate(523.4,143.5) rotate(-90)" x="-21.8" y="0" font-size="10" textLength="21.8" lengthAdjust="spacingAndGlyphs" fill="#111" stroke="#111" stroke-width="0.25">250K</text>
<text transform="translate(523.4,180.5) rotate(-90)" x="-21.8" y="0" font-size="10" textLength="21.8" lengthAdjust="spacingAndGlyphs" fill="#111" stroke="#111" stroke-width="0.25">210K</text>
<text transform="translate(523.4,216.0) rotate(-90)" x="-31.4" y="0" font-size="10" textLength="31.4" lengthAdjust="spacingAndGlyphs" fill="#111" stroke="#111" stroke-width="0.25">T=190K</text>
<text transform="translate(0.5,19.6) scale(0.85,1)" x="0" y="0" font-size="24.5" font-weight="bold" fill="#000">a</text>
<text transform="translate(172.7,19.6) scale(0.95,1)" x="0" y="0" font-size="23.0" font-weight="bold" fill="#000">b</text>
<text transform="translate(344.1,19.6) scale(0.84,1)" x="0" y="0" font-size="23.5" font-weight="bold" fill="#000">c</text>
<text transform="translate(513.4,19.6) scale(0.95,1)" x="0" y="0" font-size="23.0" font-weight="bold" fill="#000">d</text>
<text x="25.1" y="17.5" font-size="12.6" textLength="39.8" lengthAdjust="spacingAndGlyphs" fill="#1a1a1a" stroke="#1a1a1a" stroke-width="0.15">[M+8H]</text>
<text x="66.0" y="13.6" font-size="7.8" textLength="7.6" lengthAdjust="spacingAndGlyphs" fill="#1a1a1a" stroke="#1a1a1a" stroke-width="0.15">8+</text>
<text x="78.0" y="17.5" font-size="12.6" textLength="77.0" lengthAdjust="spacingAndGlyphs" fill="#1a1a1a" stroke="#1a1a1a" stroke-width="0.15">G5-Dendrimer</text>
<text x="195.7" y="17.5" font-size="12.6" textLength="45.8" lengthAdjust="spacingAndGlyphs" fill="#1a1a1a" stroke="#1a1a1a" stroke-width="0.15">[M+10H]</text>
<text x="243.6" y="13.6" font-size="7.8" textLength="12.3" lengthAdjust="spacingAndGlyphs" fill="#1a1a1a" stroke="#1a1a1a" stroke-width="0.15">10+</text>
<text x="260.8" y="17.5" font-size="12.6" textLength="48.4" lengthAdjust="spacingAndGlyphs" fill="#1a1a1a" stroke="#1a1a1a" stroke-width="0.15">Ubiquitin</text>
<text x="370.6" y="17.5" font-size="12.6" textLength="45.9" lengthAdjust="spacingAndGlyphs" fill="#1a1a1a" stroke="#1a1a1a" stroke-width="0.15">[M+10H]</text>
<text x="418.6" y="13.6" font-size="7.8" textLength="11.8" lengthAdjust="spacingAndGlyphs" fill="#1a1a1a" stroke="#1a1a1a" stroke-width="0.15">10+</text>
<text x="435.1" y="17.5" font-size="12.6" textLength="43.8" lengthAdjust="spacingAndGlyphs" fill="#1a1a1a" stroke="#1a1a1a" stroke-width="0.15">β-casein</text>
<text x="539.8" y="17.5" font-size="12.6" textLength="39.1" lengthAdjust="spacingAndGlyphs" fill="#1a1a1a" stroke="#1a1a1a" stroke-width="0.15">[M+8H]</text>
<text x="580.1" y="13.6" font-size="7.8" textLength="7.6" lengthAdjust="spacingAndGlyphs" fill="#1a1a1a" stroke="#1a1a1a" stroke-width="0.15">8+</text>
<text x="592.9" y="17.5" font-size="12.6" textLength="60.9" lengthAdjust="spacingAndGlyphs" fill="#1a1a1a" stroke="#1a1a1a" stroke-width="0.15">α-synuclein</text>
</svg>
</body></html>
